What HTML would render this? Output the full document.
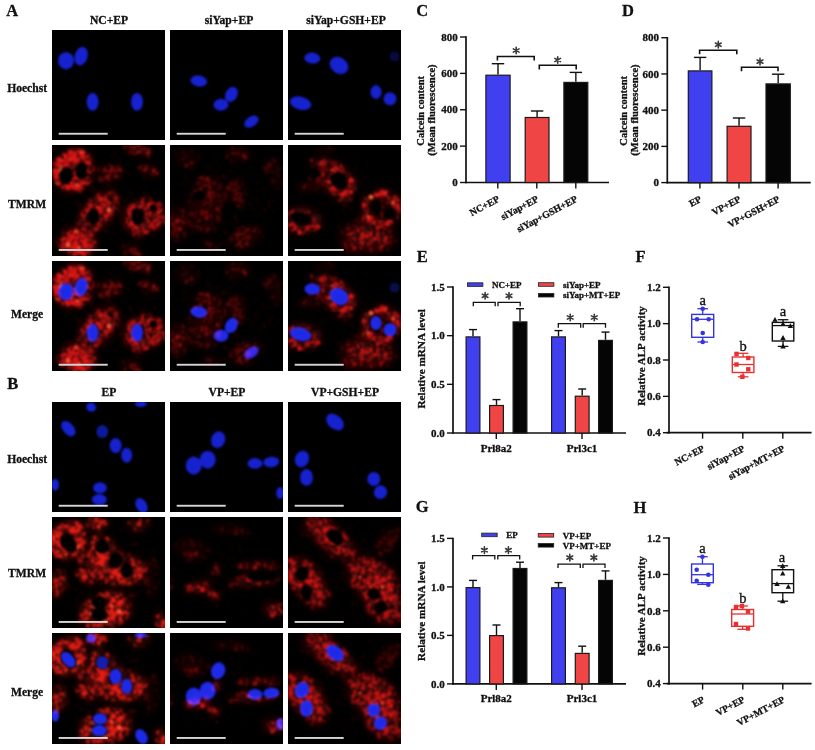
<!DOCTYPE html>
<html><head><meta charset="utf-8"><style>
html,body{margin:0;padding:0;background:#fff;width:815px;height:750px;overflow:hidden}
svg{display:block;will-change:transform}
text{font-family:"Liberation Serif",serif;stroke:#111;stroke-width:0.3px}
</style></head><body>
<svg width="815" height="750" viewBox="0 0 815 750">
<rect width="815" height="750" fill="#fff"/>
<text x="6.2" y="15.6" font-size="16.5" font-weight="bold" text-anchor="start" fill="#111" >A</text>
<text x="7.2" y="388.6" font-size="16.5" font-weight="bold" text-anchor="start" fill="#111" >B</text>
<text x="416.3" y="16.0" font-size="16.5" font-weight="bold" text-anchor="start" fill="#111" >C</text>
<text x="622.1" y="15.5" font-size="16.5" font-weight="bold" text-anchor="start" fill="#111" >D</text>
<text x="416.8" y="261.6" font-size="16.5" font-weight="bold" text-anchor="start" fill="#111" >E</text>
<text x="635.6" y="261.8" font-size="16.5" font-weight="bold" text-anchor="start" fill="#111" >F</text>
<text x="415.8" y="512.2" font-size="16.5" font-weight="bold" text-anchor="start" fill="#111" >G</text>
<text x="633.5" y="512.5" font-size="16.5" font-weight="bold" text-anchor="start" fill="#111" >H</text>
<defs><radialGradient id="rgR"><stop offset="0" stop-color="rgb(230,26,24)" stop-opacity="1"/><stop offset="0.55" stop-color="rgb(230,26,24)" stop-opacity="0.85"/><stop offset="1" stop-color="rgb(230,26,24)" stop-opacity="0.1"/></radialGradient><filter id="rfA0" filterUnits="userSpaceOnUse" x="0" y="0" width="113" height="111" color-interpolation-filters="sRGB"><feGaussianBlur stdDeviation="0.8"/></filter><filter id="rbA0" filterUnits="userSpaceOnUse" x="0" y="0" width="113" height="111"><feGaussianBlur stdDeviation="3"/></filter><g id="redA0"><rect width="113" height="111" fill="#000"/><g filter="url(#rbA0)" fill="rgb(215,22,22)"><rect x="75" y="-3" width="6" height="6" opacity="0.22"/><rect x="81" y="-3" width="6" height="6" opacity="0.28"/><rect x="87" y="-3" width="6" height="6" opacity="0.23"/><rect x="15" y="3" width="6" height="6" opacity="0.31"/><rect x="21" y="3" width="6" height="6" opacity="0.41"/><rect x="27" y="3" width="6" height="6" opacity="0.29"/><rect x="75" y="3" width="6" height="6" opacity="0.19"/><rect x="81" y="3" width="6" height="6" opacity="0.28"/><rect x="87" y="3" width="6" height="6" opacity="0.31"/><rect x="93" y="3" width="6" height="6" opacity="0.25"/><rect x="9" y="9" width="6" height="6" opacity="0.50"/><rect x="15" y="9" width="6" height="6" opacity="0.58"/><rect x="21" y="9" width="6" height="6" opacity="0.57"/><rect x="27" y="9" width="6" height="6" opacity="0.58"/><rect x="33" y="9" width="6" height="6" opacity="0.41"/><rect x="3" y="15" width="6" height="6" opacity="0.51"/><rect x="9" y="15" width="6" height="6" opacity="0.56"/><rect x="15" y="15" width="6" height="6" opacity="0.30"/><rect x="21" y="15" width="6" height="6" opacity="0.32"/><rect x="27" y="15" width="6" height="6" opacity="0.28"/><rect x="33" y="15" width="6" height="6" opacity="0.56"/><rect x="-3" y="21" width="6" height="6" opacity="0.26"/><rect x="3" y="21" width="6" height="6" opacity="0.58"/><rect x="9" y="21" width="6" height="6" opacity="0.10"/><rect x="15" y="21" width="6" height="6" opacity="0.26"/><rect x="21" y="21" width="6" height="6" opacity="0.30"/><rect x="33" y="21" width="6" height="6" opacity="0.58"/><rect x="39" y="21" width="6" height="6" opacity="0.10"/><rect x="45" y="21" width="6" height="6" opacity="0.12"/><rect x="51" y="21" width="6" height="6" opacity="0.17"/><rect x="57" y="21" width="6" height="6" opacity="0.18"/><rect x="63" y="21" width="6" height="6" opacity="0.16"/><rect x="69" y="21" width="6" height="6" opacity="0.04"/><rect x="87" y="21" width="6" height="6" opacity="0.19"/><rect x="93" y="21" width="6" height="6" opacity="0.24"/><rect x="99" y="21" width="6" height="6" opacity="0.17"/><rect x="-3" y="27" width="6" height="6" opacity="0.25"/><rect x="3" y="27" width="6" height="6" opacity="0.58"/><rect x="21" y="27" width="6" height="6" opacity="0.29"/><rect x="33" y="27" width="6" height="6" opacity="0.55"/><rect x="45" y="27" width="6" height="6" opacity="0.15"/><rect x="51" y="27" width="6" height="6" opacity="0.20"/><rect x="57" y="27" width="6" height="6" opacity="0.20"/><rect x="63" y="27" width="6" height="6" opacity="0.15"/><rect x="93" y="27" width="6" height="6" opacity="0.09"/><rect x="99" y="27" width="6" height="6" opacity="0.15"/><rect x="3" y="33" width="6" height="6" opacity="0.54"/><rect x="15" y="33" width="6" height="6" opacity="0.16"/><rect x="21" y="33" width="6" height="6" opacity="0.46"/><rect x="27" y="33" width="6" height="6" opacity="0.58"/><rect x="33" y="33" width="6" height="6" opacity="0.44"/><rect x="51" y="33" width="6" height="6" opacity="0.13"/><rect x="57" y="33" width="6" height="6" opacity="0.09"/><rect x="9" y="39" width="6" height="6" opacity="0.53"/><rect x="15" y="39" width="6" height="6" opacity="0.58"/><rect x="21" y="39" width="6" height="6" opacity="0.57"/><rect x="27" y="39" width="6" height="6" opacity="0.45"/><rect x="15" y="45" width="6" height="6" opacity="0.10"/><rect x="45" y="45" width="6" height="6" opacity="0.19"/><rect x="51" y="45" width="6" height="6" opacity="0.23"/><rect x="57" y="45" width="6" height="6" opacity="0.18"/><rect x="39" y="51" width="6" height="6" opacity="0.28"/><rect x="45" y="51" width="6" height="6" opacity="0.36"/><rect x="51" y="51" width="6" height="6" opacity="0.37"/><rect x="57" y="51" width="6" height="6" opacity="0.30"/><rect x="63" y="51" width="6" height="6" opacity="0.07"/><rect x="87" y="51" width="6" height="6" opacity="0.10"/><rect x="93" y="51" width="6" height="6" opacity="0.12"/><rect x="33" y="57" width="6" height="6" opacity="0.27"/><rect x="39" y="57" width="6" height="6" opacity="0.40"/><rect x="45" y="57" width="6" height="6" opacity="0.44"/><rect x="51" y="57" width="6" height="6" opacity="0.43"/><rect x="57" y="57" width="6" height="6" opacity="0.34"/><rect x="63" y="57" width="6" height="6" opacity="0.16"/><rect x="75" y="57" width="6" height="6" opacity="0.17"/><rect x="81" y="57" width="6" height="6" opacity="0.29"/><rect x="87" y="57" width="6" height="6" opacity="0.34"/><rect x="93" y="57" width="6" height="6" opacity="0.36"/><rect x="99" y="57" width="6" height="6" opacity="0.14"/><rect x="105" y="57" width="6" height="6" opacity="0.21"/><rect x="27" y="63" width="6" height="6" opacity="0.18"/><rect x="33" y="63" width="6" height="6" opacity="0.38"/><rect x="45" y="63" width="6" height="6" opacity="0.46"/><rect x="51" y="63" width="6" height="6" opacity="0.43"/><rect x="57" y="63" width="6" height="6" opacity="0.31"/><rect x="69" y="63" width="6" height="6" opacity="0.14"/><rect x="75" y="63" width="6" height="6" opacity="0.31"/><rect x="87" y="63" width="6" height="6" opacity="0.27"/><rect x="93" y="63" width="6" height="6" opacity="0.45"/><rect x="99" y="63" width="6" height="6" opacity="0.18"/><rect x="105" y="63" width="6" height="6" opacity="0.34"/><rect x="111" y="63" width="6" height="6" opacity="0.17"/><rect x="27" y="69" width="6" height="6" opacity="0.30"/><rect x="33" y="69" width="6" height="6" opacity="0.28"/><rect x="45" y="69" width="6" height="6" opacity="0.44"/><rect x="51" y="69" width="6" height="6" opacity="0.36"/><rect x="57" y="69" width="6" height="6" opacity="0.19"/><rect x="69" y="69" width="6" height="6" opacity="0.20"/><rect x="75" y="69" width="6" height="6" opacity="0.35"/><rect x="93" y="69" width="6" height="6" opacity="0.46"/><rect x="99" y="69" width="6" height="6" opacity="0.44"/><rect x="105" y="69" width="6" height="6" opacity="0.37"/><rect x="111" y="69" width="6" height="6" opacity="0.23"/><rect x="27" y="75" width="6" height="6" opacity="0.30"/><rect x="33" y="75" width="6" height="6" opacity="0.39"/><rect x="39" y="75" width="6" height="6" opacity="0.05"/><rect x="45" y="75" width="6" height="6" opacity="0.35"/><rect x="51" y="75" width="6" height="6" opacity="0.20"/><rect x="69" y="75" width="6" height="6" opacity="0.15"/><rect x="75" y="75" width="6" height="6" opacity="0.33"/><rect x="81" y="75" width="6" height="6" opacity="0.06"/><rect x="87" y="75" width="6" height="6" opacity="0.34"/><rect x="93" y="75" width="6" height="6" opacity="0.43"/><rect x="99" y="75" width="6" height="6" opacity="0.38"/><rect x="105" y="75" width="6" height="6" opacity="0.29"/><rect x="111" y="75" width="6" height="6" opacity="0.11"/><rect x="15" y="81" width="6" height="6" opacity="0.20"/><rect x="21" y="81" width="6" height="6" opacity="0.21"/><rect x="27" y="81" width="6" height="6" opacity="0.20"/><rect x="33" y="81" width="6" height="6" opacity="0.30"/><rect x="39" y="81" width="6" height="6" opacity="0.30"/><rect x="45" y="81" width="6" height="6" opacity="0.18"/><rect x="75" y="81" width="6" height="6" opacity="0.24"/><rect x="81" y="81" width="6" height="6" opacity="0.35"/><rect x="87" y="81" width="6" height="6" opacity="0.37"/><rect x="93" y="81" width="6" height="6" opacity="0.32"/><rect x="99" y="81" width="6" height="6" opacity="0.22"/><rect x="9" y="87" width="6" height="6" opacity="0.36"/><rect x="15" y="87" width="6" height="6" opacity="0.48"/><rect x="21" y="87" width="6" height="6" opacity="0.50"/><rect x="27" y="87" width="6" height="6" opacity="0.45"/><rect x="33" y="87" width="6" height="6" opacity="0.32"/><rect x="81" y="87" width="6" height="6" opacity="0.17"/><rect x="87" y="87" width="6" height="6" opacity="0.18"/><rect x="3" y="93" width="6" height="6" opacity="0.17"/><rect x="9" y="93" width="6" height="6" opacity="0.43"/><rect x="15" y="93" width="6" height="6" opacity="0.54"/><rect x="21" y="93" width="6" height="6" opacity="0.58"/><rect x="27" y="93" width="6" height="6" opacity="0.57"/><rect x="33" y="93" width="6" height="6" opacity="0.50"/><rect x="39" y="93" width="6" height="6" opacity="0.34"/><rect x="3" y="99" width="6" height="6" opacity="0.06"/><rect x="9" y="99" width="6" height="6" opacity="0.35"/><rect x="15" y="99" width="6" height="6" opacity="0.48"/><rect x="21" y="99" width="6" height="6" opacity="0.55"/><rect x="27" y="99" width="6" height="6" opacity="0.56"/><rect x="33" y="99" width="6" height="6" opacity="0.50"/><rect x="39" y="99" width="6" height="6" opacity="0.33"/><rect x="69" y="99" width="6" height="6" opacity="0.11"/><rect x="75" y="99" width="6" height="6" opacity="0.12"/><rect x="81" y="99" width="6" height="6" opacity="0.09"/><rect x="15" y="105" width="6" height="6" opacity="0.26"/><rect x="21" y="105" width="6" height="6" opacity="0.39"/><rect x="27" y="105" width="6" height="6" opacity="0.43"/><rect x="33" y="105" width="6" height="6" opacity="0.34"/><rect x="69" y="105" width="6" height="6" opacity="0.08"/><rect x="75" y="105" width="6" height="6" opacity="0.16"/><rect x="81" y="105" width="6" height="6" opacity="0.16"/><rect x="87" y="105" width="6" height="6" opacity="0.08"/></g><g filter="url(#rfA0)" fill="rgb(215,22,22)"><circle cx="56" cy="61" r="1.5" opacity="0.45"/><circle cx="28" cy="42" r="2.3" opacity="0.74"/><circle cx="59" cy="10" r="1.6" opacity="0.04"/><circle cx="18" cy="96" r="2.5" opacity="0.76"/><circle cx="18" cy="37" r="1.2" opacity="0.40"/><circle cx="45" cy="78" r="2.5" opacity="0.29"/><circle cx="6" cy="28" r="1.4" opacity="0.74"/><circle cx="33" cy="14" r="1.9" opacity="1.00"/><circle cx="6" cy="20" r="2.3" opacity="0.94"/><circle cx="62" cy="89" r="1.8" opacity="0.06"/><circle cx="84" cy="29" r="1.1" opacity="0.04"/><circle cx="79" cy="7" r="2.5" opacity="0.20"/><circle cx="63" cy="59" r="1.4" opacity="0.36"/><circle cx="85" cy="64" r="2.3" opacity="0.33"/><circle cx="87" cy="96" r="1.4" opacity="0.03"/><circle cx="25" cy="42" r="1.9" opacity="0.92"/><circle cx="24" cy="84" r="2.3" opacity="0.29"/><circle cx="17" cy="66" r="1.2" opacity="0.02"/><circle cx="64" cy="25" r="1.5" opacity="0.36"/><circle cx="108" cy="64" r="1.8" opacity="0.41"/><circle cx="56" cy="40" r="2.5" opacity="0.05"/><circle cx="14" cy="53" r="2.1" opacity="0.02"/><circle cx="26" cy="103" r="2.6" opacity="1.00" fill="rgb(255,95,55)"/><circle cx="58" cy="57" r="1.6" opacity="0.79"/><circle cx="30" cy="93" r="1.4" opacity="0.84"/><circle cx="54" cy="51" r="1.3" opacity="0.68"/><circle cx="69" cy="52" r="2.2" opacity="0.07"/><circle cx="85" cy="84" r="1.3" opacity="0.62"/><circle cx="99" cy="59" r="1.0" opacity="0.64"/><circle cx="35" cy="103" r="1.8" opacity="0.60"/><circle cx="47" cy="23" r="1.7" opacity="0.09"/><circle cx="38" cy="78" r="2.2" opacity="0.38"/><circle cx="30" cy="8" r="2.5" opacity="0.97" fill="rgb(255,95,55)"/><circle cx="5" cy="38" r="1.7" opacity="0.76" fill="rgb(255,95,55)"/><circle cx="54" cy="22" r="1.1" opacity="0.24"/><circle cx="21" cy="20" r="2.6" opacity="0.47"/><circle cx="14" cy="41" r="2.1" opacity="1.00"/><circle cx="66" cy="52" r="1.3" opacity="0.07"/><circle cx="60" cy="67" r="1.5" opacity="0.44"/><circle cx="113" cy="30" r="2.4" opacity="0.01"/><circle cx="20" cy="14" r="2.1" opacity="0.81"/><circle cx="53" cy="19" r="1.2" opacity="0.05"/><circle cx="103" cy="47" r="2.5" opacity="0.04"/><circle cx="61" cy="11" r="1.2" opacity="0.04"/><circle cx="83" cy="88" r="1.0" opacity="0.42"/><circle cx="24" cy="45" r="1.3" opacity="0.69"/><circle cx="14" cy="50" r="1.6" opacity="0.03"/><circle cx="99" cy="92" r="1.4" opacity="0.01"/><circle cx="32" cy="92" r="2.0" opacity="0.62"/><circle cx="98" cy="60" r="1.8" opacity="0.57"/><circle cx="110" cy="74" r="1.3" opacity="0.64"/><circle cx="51" cy="63" r="1.4" opacity="0.76"/><circle cx="83" cy="104" r="1.4" opacity="0.30"/><circle cx="85" cy="96" r="2.0" opacity="0.04"/><circle cx="36" cy="32" r="1.4" opacity="0.71"/><circle cx="12" cy="15" r="1.3" opacity="0.94"/><circle cx="94" cy="69" r="1.3" opacity="0.86"/><circle cx="96" cy="12" r="2.6" opacity="0.15"/><circle cx="12" cy="86" r="1.5" opacity="0.19"/><circle cx="105" cy="80" r="1.5" opacity="0.39"/><circle cx="16" cy="95" r="1.3" opacity="0.93"/><circle cx="27" cy="19" r="1.4" opacity="0.46"/><circle cx="26" cy="71" r="2.4" opacity="0.07"/><circle cx="77" cy="68" r="1.8" opacity="0.61"/><circle cx="48" cy="107" r="2.4" opacity="0.02"/><circle cx="88" cy="101" r="2.4" opacity="0.02"/><circle cx="9" cy="87" r="2.5" opacity="0.02"/><circle cx="43" cy="86" r="1.7" opacity="0.33"/><circle cx="33" cy="102" r="1.1" opacity="0.96"/><circle cx="34" cy="79" r="1.1" opacity="0.78"/><circle cx="63" cy="8" r="2.5" opacity="0.04"/><circle cx="15" cy="20" r="2.4" opacity="0.41"/><circle cx="29" cy="5" r="2.2" opacity="0.22"/><circle cx="64" cy="54" r="2.5" opacity="0.41"/><circle cx="103" cy="70" r="1.2" opacity="0.50"/><circle cx="107" cy="68" r="1.3" opacity="0.83"/><circle cx="11" cy="42" r="1.6" opacity="1.00"/><circle cx="19" cy="38" r="2.5" opacity="0.92"/><circle cx="100" cy="56" r="2.0" opacity="0.25"/><circle cx="87" cy="23" r="1.8" opacity="0.19"/><circle cx="97" cy="5" r="1.9" opacity="0.32"/><circle cx="51" cy="35" r="1.6" opacity="0.24"/><circle cx="37" cy="105" r="1.5" opacity="0.91"/><circle cx="63" cy="27" r="2.0" opacity="0.23"/><circle cx="36" cy="38" r="1.3" opacity="0.36"/><circle cx="25" cy="57" r="2.4" opacity="0.06"/><circle cx="107" cy="63" r="1.2" opacity="0.40"/><circle cx="38" cy="109" r="1.4" opacity="0.23"/><circle cx="57" cy="59" r="1.6" opacity="0.45"/><circle cx="17" cy="10" r="2.3" opacity="0.93"/><circle cx="4" cy="29" r="1.3" opacity="0.78"/><circle cx="82" cy="62" r="2.5" opacity="0.47"/><circle cx="13" cy="12" r="1.4" opacity="0.66"/><circle cx="15" cy="97" r="1.2" opacity="0.73"/><circle cx="76" cy="87" r="2.0" opacity="0.04"/><circle cx="35" cy="12" r="1.7" opacity="0.71"/><circle cx="42" cy="97" r="1.5" opacity="0.67"/><circle cx="106" cy="79" r="2.4" opacity="0.54"/><circle cx="22" cy="99" r="1.8" opacity="0.84"/><circle cx="33" cy="101" r="2.1" opacity="0.83"/><circle cx="27" cy="61" r="2.3" opacity="0.05"/><circle cx="107" cy="59" r="2.6" opacity="0.47"/><circle cx="23" cy="104" r="2.0" opacity="0.75"/><circle cx="77" cy="68" r="1.4" opacity="0.48"/><circle cx="43" cy="79" r="1.6" opacity="0.36"/><circle cx="80" cy="107" r="1.5" opacity="0.24"/><circle cx="6" cy="27" r="2.4" opacity="0.90"/><circle cx="58" cy="12" r="1.1" opacity="0.03"/><circle cx="68" cy="99" r="1.5" opacity="0.04"/><circle cx="82" cy="88" r="2.6" opacity="0.28"/><circle cx="104" cy="82" r="1.9" opacity="0.44"/><circle cx="25" cy="41" r="2.4" opacity="1.00" fill="rgb(255,95,55)"/><circle cx="74" cy="73" r="1.7" opacity="0.35"/><circle cx="106" cy="68" r="1.4" opacity="0.50"/><circle cx="106" cy="79" r="1.3" opacity="0.39"/><circle cx="42" cy="62" r="2.3" opacity="0.93"/><circle cx="48" cy="63" r="1.7" opacity="0.86"/><circle cx="28" cy="46" r="2.0" opacity="0.51"/><circle cx="84" cy="101" r="1.8" opacity="0.02"/><circle cx="11" cy="15" r="2.6" opacity="0.97"/><circle cx="28" cy="76" r="1.3" opacity="0.33"/><circle cx="85" cy="82" r="2.5" opacity="0.49"/><circle cx="60" cy="43" r="1.7" opacity="0.04"/><circle cx="60" cy="23" r="2.6" opacity="0.38"/><circle cx="35" cy="38" r="1.7" opacity="0.59"/><circle cx="20" cy="105" r="1.3" opacity="0.85"/><circle cx="14" cy="18" r="2.0" opacity="0.63"/><circle cx="47" cy="51" r="2.6" opacity="0.50"/><circle cx="32" cy="73" r="2.1" opacity="0.61"/><circle cx="98" cy="90" r="1.6" opacity="0.02"/><circle cx="30" cy="107" r="2.6" opacity="0.76"/><circle cx="59" cy="70" r="2.0" opacity="0.52"/><circle cx="48" cy="55" r="2.3" opacity="0.45"/><circle cx="89" cy="6" r="1.2" opacity="0.42"/><circle cx="59" cy="48" r="2.3" opacity="0.35"/><circle cx="55" cy="55" r="1.6" opacity="0.54"/><circle cx="20" cy="94" r="2.0" opacity="1.00"/><circle cx="24" cy="12" r="1.3" opacity="1.00"/><circle cx="103" cy="25" r="1.9" opacity="0.20"/><circle cx="5" cy="32" r="1.9" opacity="0.97"/><circle cx="67" cy="60" r="1.5" opacity="0.18"/><circle cx="111" cy="72" r="1.7" opacity="0.68"/><circle cx="77" cy="30" r="1.9" opacity="0.04"/><circle cx="75" cy="76" r="1.7" opacity="0.48"/><circle cx="20" cy="7" r="1.3" opacity="0.60"/><circle cx="104" cy="85" r="1.5" opacity="0.14"/><circle cx="87" cy="87" r="1.4" opacity="0.55"/><circle cx="3" cy="26" r="2.5" opacity="0.86"/><circle cx="81" cy="63" r="1.7" opacity="0.66"/><circle cx="52" cy="48" r="1.4" opacity="0.40"/><circle cx="99" cy="67" r="1.3" opacity="0.93"/><circle cx="35" cy="26" r="1.4" opacity="0.50"/><circle cx="22" cy="33" r="1.6" opacity="0.73"/><circle cx="29" cy="37" r="1.6" opacity="0.64"/><circle cx="10" cy="102" r="2.3" opacity="0.37"/><circle cx="90" cy="92" r="1.2" opacity="0.08"/><circle cx="65" cy="31" r="2.4" opacity="0.22"/><circle cx="59" cy="92" r="1.0" opacity="0.05"/><circle cx="105" cy="28" r="2.3" opacity="0.30"/><circle cx="89" cy="79" r="1.3" opacity="0.71"/><circle cx="69" cy="31" r="1.5" opacity="0.05"/><circle cx="81" cy="2" r="1.8" opacity="0.50"/><circle cx="23" cy="97" r="2.2" opacity="0.91"/><circle cx="7" cy="37" r="1.6" opacity="0.89"/><circle cx="32" cy="102" r="1.4" opacity="1.00"/><circle cx="41" cy="11" r="1.6" opacity="0.04"/><circle cx="16" cy="107" r="1.8" opacity="0.28"/><circle cx="41" cy="22" r="1.4" opacity="0.55"/><circle cx="19" cy="89" r="1.2" opacity="0.74"/><circle cx="93" cy="64" r="2.1" opacity="0.49"/><circle cx="25" cy="34" r="1.6" opacity="0.62"/><circle cx="18" cy="104" r="2.5" opacity="0.52"/><circle cx="73" cy="2" r="2.6" opacity="0.21"/><circle cx="112" cy="44" r="2.6" opacity="0.01"/><circle cx="81" cy="79" r="2.5" opacity="0.77"/><circle cx="36" cy="65" r="2.0" opacity="0.41"/><circle cx="8" cy="17" r="1.9" opacity="1.00"/><circle cx="79" cy="65" r="2.1" opacity="0.55"/><circle cx="113" cy="78" r="1.8" opacity="0.36"/><circle cx="87" cy="109" r="2.5" opacity="0.25"/><circle cx="34" cy="82" r="1.1" opacity="0.46"/><circle cx="49" cy="74" r="1.4" opacity="0.53"/><circle cx="38" cy="62" r="2.5" opacity="0.59"/><circle cx="21" cy="15" r="1.2" opacity="0.60"/><circle cx="81" cy="77" r="1.8" opacity="0.58"/><circle cx="71" cy="2" r="2.3" opacity="0.02"/><circle cx="16" cy="93" r="1.2" opacity="0.60"/><circle cx="71" cy="84" r="1.0" opacity="0.05"/><circle cx="49" cy="35" r="2.6" opacity="0.17"/><circle cx="49" cy="66" r="2.6" opacity="0.61"/><circle cx="46" cy="81" r="1.1" opacity="0.67"/><circle cx="93" cy="33" r="2.6" opacity="0.05"/><circle cx="34" cy="99" r="1.6" opacity="1.00"/><circle cx="53" cy="9" r="1.0" opacity="0.04"/><circle cx="67" cy="66" r="1.9" opacity="0.08"/><circle cx="56" cy="0" r="1.9" opacity="0.01"/><circle cx="22" cy="104" r="1.8" opacity="1.00"/><circle cx="69" cy="14" r="2.1" opacity="0.05"/><circle cx="23" cy="37" r="1.4" opacity="0.71"/><circle cx="92" cy="48" r="2.3" opacity="0.05"/><circle cx="20" cy="102" r="1.7" opacity="1.00"/><circle cx="9" cy="25" r="2.5" opacity="0.81" fill="rgb(255,95,55)"/><circle cx="33" cy="59" r="1.1" opacity="0.05"/><circle cx="0" cy="71" r="1.0" opacity="0.01"/><circle cx="5" cy="30" r="1.5" opacity="0.79"/><circle cx="9" cy="46" r="2.4" opacity="0.03"/><circle cx="92" cy="72" r="1.5" opacity="0.59"/><circle cx="53" cy="25" r="2.5" opacity="0.38"/><circle cx="25" cy="16" r="2.4" opacity="0.81"/><circle cx="18" cy="90" r="2.5" opacity="0.88"/><circle cx="112" cy="78" r="2.0" opacity="0.37"/><circle cx="35" cy="17" r="1.4" opacity="0.82"/><circle cx="25" cy="7" r="1.5" opacity="0.59"/><circle cx="24" cy="42" r="1.9" opacity="1.00"/><circle cx="79" cy="10" r="1.3" opacity="0.03"/><circle cx="23" cy="103" r="1.0" opacity="0.91"/><circle cx="30" cy="69" r="1.9" opacity="0.52"/><circle cx="11" cy="99" r="2.0" opacity="0.66"/><circle cx="37" cy="27" r="1.9" opacity="0.83"/><circle cx="28" cy="10" r="1.5" opacity="0.77"/><circle cx="40" cy="37" r="1.6" opacity="0.05"/><circle cx="97" cy="62" r="2.2" opacity="0.71"/><circle cx="38" cy="55" r="2.1" opacity="0.28"/><circle cx="91" cy="84" r="2.0" opacity="0.48"/><circle cx="26" cy="106" r="1.9" opacity="0.57"/><circle cx="87" cy="90" r="2.2" opacity="0.30"/><circle cx="19" cy="88" r="2.4" opacity="0.80"/><circle cx="110" cy="29" r="1.0" opacity="0.01"/><circle cx="45" cy="25" r="2.2" opacity="0.12"/><circle cx="32" cy="85" r="2.0" opacity="0.32"/><circle cx="48" cy="62" r="1.6" opacity="0.70"/><circle cx="54" cy="71" r="2.5" opacity="0.75"/><circle cx="21" cy="42" r="2.2" opacity="1.00"/><circle cx="92" cy="54" r="1.8" opacity="0.21"/><circle cx="27" cy="17" r="1.6" opacity="0.56"/><circle cx="22" cy="108" r="1.2" opacity="0.66"/><circle cx="18" cy="7" r="2.2" opacity="0.79"/><circle cx="77" cy="9" r="2.2" opacity="0.03"/><circle cx="19" cy="49" r="1.6" opacity="0.05"/><circle cx="19" cy="14" r="1.7" opacity="0.85" fill="rgb(255,95,55)"/><circle cx="16" cy="98" r="2.5" opacity="0.90"/><circle cx="64" cy="32" r="1.7" opacity="0.20"/><circle cx="57" cy="65" r="1.0" opacity="0.70"/><circle cx="3" cy="26" r="1.6" opacity="1.00"/><circle cx="82" cy="2" r="1.4" opacity="0.67"/><circle cx="41" cy="25" r="1.6" opacity="0.48"/><circle cx="93" cy="40" r="1.1" opacity="0.05"/><circle cx="107" cy="72" r="1.7" opacity="0.77"/><circle cx="52" cy="56" r="1.4" opacity="0.46"/><circle cx="40" cy="60" r="2.1" opacity="0.60"/><circle cx="24" cy="87" r="2.4" opacity="0.79" fill="rgb(255,95,55)"/><circle cx="29" cy="39" r="1.2" opacity="1.00"/><circle cx="26" cy="90" r="1.2" opacity="0.85"/><circle cx="74" cy="77" r="1.4" opacity="0.43"/><circle cx="30" cy="84" r="1.8" opacity="0.23"/><circle cx="14" cy="53" r="2.0" opacity="0.03"/><circle cx="92" cy="88" r="2.2" opacity="0.30"/><circle cx="33" cy="29" r="1.0" opacity="0.19"/><circle cx="18" cy="107" r="1.8" opacity="0.38"/><circle cx="18" cy="88" r="2.0" opacity="0.94"/><circle cx="96" cy="60" r="1.6" opacity="0.43"/><circle cx="46" cy="49" r="1.5" opacity="0.35"/><circle cx="93" cy="87" r="2.3" opacity="0.33"/><circle cx="31" cy="11" r="2.0" opacity="0.70"/><circle cx="93" cy="4" r="1.7" opacity="0.52"/><circle cx="23" cy="15" r="2.4" opacity="1.00"/><circle cx="68" cy="25" r="2.0" opacity="0.16"/><circle cx="94" cy="53" r="1.8" opacity="0.06"/><circle cx="55" cy="32" r="2.6" opacity="0.38"/><circle cx="81" cy="60" r="1.7" opacity="0.53"/><circle cx="23" cy="28" r="1.5" opacity="0.61"/><circle cx="39" cy="14" r="1.5" opacity="0.30"/><circle cx="76" cy="28" r="2.3" opacity="0.06"/><circle cx="75" cy="1" r="1.8" opacity="0.33"/><circle cx="57" cy="67" r="1.9" opacity="0.74"/><circle cx="24" cy="100" r="1.3" opacity="0.91"/><circle cx="27" cy="107" r="1.7" opacity="0.93"/><circle cx="26" cy="18" r="2.2" opacity="0.37"/><circle cx="58" cy="76" r="1.0" opacity="0.22"/><circle cx="54" cy="75" r="1.7" opacity="0.48"/><circle cx="77" cy="65" r="2.4" opacity="0.53"/><circle cx="24" cy="99" r="2.4" opacity="1.00"/><circle cx="53" cy="16" r="1.7" opacity="0.05"/><circle cx="30" cy="82" r="1.1" opacity="0.37"/><circle cx="22" cy="19" r="1.3" opacity="0.36"/><circle cx="57" cy="49" r="1.9" opacity="0.31"/><circle cx="48" cy="37" r="1.9" opacity="0.08"/><circle cx="62" cy="46" r="2.3" opacity="0.06"/><circle cx="34" cy="18" r="1.6" opacity="0.83"/><circle cx="34" cy="52" r="1.9" opacity="0.05"/><circle cx="75" cy="69" r="1.1" opacity="0.54"/><circle cx="27" cy="42" r="1.4" opacity="0.99"/><circle cx="36" cy="26" r="2.5" opacity="1.00"/><circle cx="6" cy="15" r="2.2" opacity="0.84"/><circle cx="39" cy="101" r="2.5" opacity="0.66"/><circle cx="32" cy="69" r="2.5" opacity="0.56"/><circle cx="7" cy="33" r="1.9" opacity="0.86"/><circle cx="87" cy="1" r="1.4" opacity="0.55"/><circle cx="46" cy="63" r="2.5" opacity="0.97"/><circle cx="47" cy="67" r="2.0" opacity="0.63"/><circle cx="26" cy="79" r="1.9" opacity="0.33"/><circle cx="91" cy="30" r="1.6" opacity="0.06"/><circle cx="18" cy="90" r="1.2" opacity="0.85"/><circle cx="62" cy="97" r="1.6" opacity="0.04"/><circle cx="4" cy="30" r="2.5" opacity="0.82"/><circle cx="85" cy="104" r="1.3" opacity="0.17"/><circle cx="22" cy="24" r="1.2" opacity="0.45"/><circle cx="102" cy="26" r="2.1" opacity="0.50"/><circle cx="57" cy="35" r="1.4" opacity="0.30"/><circle cx="21" cy="29" r="1.5" opacity="0.38"/><circle cx="23" cy="109" r="2.2" opacity="0.58"/><circle cx="69" cy="46" r="1.3" opacity="0.06"/><circle cx="109" cy="66" r="1.4" opacity="0.74"/><circle cx="14" cy="88" r="1.6" opacity="0.54"/><circle cx="13" cy="11" r="2.5" opacity="1.00"/><circle cx="5" cy="81" r="1.9" opacity="0.02"/><circle cx="12" cy="69" r="2.0" opacity="0.02"/><circle cx="83" cy="60" r="1.1" opacity="0.57"/><circle cx="57" cy="70" r="2.0" opacity="0.41"/><circle cx="58" cy="30" r="2.4" opacity="0.34"/><circle cx="109" cy="33" r="1.0" opacity="0.02"/><circle cx="90" cy="57" r="2.2" opacity="0.47"/><circle cx="17" cy="41" r="2.1" opacity="1.00"/><circle cx="62" cy="48" r="1.6" opacity="0.30"/><circle cx="23" cy="10" r="2.3" opacity="1.00"/><circle cx="95" cy="23" r="2.1" opacity="0.25"/><circle cx="78" cy="61" r="2.3" opacity="0.31"/><circle cx="49" cy="59" r="1.1" opacity="0.77"/><circle cx="45" cy="85" r="1.6" opacity="0.49"/><circle cx="23" cy="8" r="1.4" opacity="0.64"/><circle cx="3" cy="34" r="1.6" opacity="0.60"/><circle cx="16" cy="19" r="1.4" opacity="0.53"/><circle cx="63" cy="44" r="1.8" opacity="0.06"/><circle cx="61" cy="81" r="1.4" opacity="0.06"/><circle cx="21" cy="42" r="2.2" opacity="1.00"/><circle cx="106" cy="28" r="2.2" opacity="0.25"/><circle cx="36" cy="66" r="2.3" opacity="0.79"/><circle cx="100" cy="60" r="1.6" opacity="0.34"/><circle cx="79" cy="70" r="2.6" opacity="0.50"/><circle cx="16" cy="42" r="2.5" opacity="0.81"/><circle cx="109" cy="60" r="1.4" opacity="0.32"/><circle cx="106" cy="36" r="1.4" opacity="0.02"/><circle cx="7" cy="39" r="1.9" opacity="0.97"/><circle cx="36" cy="87" r="2.5" opacity="0.38"/><circle cx="25" cy="108" r="2.2" opacity="0.45"/><circle cx="57" cy="81" r="1.6" opacity="0.06"/><circle cx="77" cy="100" r="1.0" opacity="0.05"/><circle cx="20" cy="24" r="1.2" opacity="0.44"/><circle cx="6" cy="58" r="2.1" opacity="0.01"/><circle cx="59" cy="26" r="2.1" opacity="0.36"/><circle cx="39" cy="92" r="1.1" opacity="0.46"/><circle cx="32" cy="38" r="2.1" opacity="0.85"/><circle cx="20" cy="91" r="2.0" opacity="0.62"/><circle cx="25" cy="16" r="1.5" opacity="0.41"/><circle cx="3" cy="18" r="2.3" opacity="0.68"/><circle cx="11" cy="104" r="2.3" opacity="0.51"/><circle cx="62" cy="63" r="2.3" opacity="0.39"/><circle cx="66" cy="32" r="1.2" opacity="0.12"/><circle cx="21" cy="110" r="1.5" opacity="0.32"/><circle cx="29" cy="108" r="1.8" opacity="0.90"/><circle cx="97" cy="76" r="1.6" opacity="0.97"/><circle cx="36" cy="39" r="1.3" opacity="0.34"/><circle cx="43" cy="84" r="1.4" opacity="0.66"/><circle cx="33" cy="64" r="1.4" opacity="0.46"/><circle cx="102" cy="76" r="1.6" opacity="0.83"/><circle cx="72" cy="34" r="1.1" opacity="0.04"/><circle cx="97" cy="68" r="1.3" opacity="0.67"/><circle cx="41" cy="42" r="1.4" opacity="0.07"/><circle cx="64" cy="52" r="2.5" opacity="0.37"/><circle cx="105" cy="61" r="1.9" opacity="0.37"/><circle cx="81" cy="84" r="1.7" opacity="0.70"/><circle cx="33" cy="109" r="2.5" opacity="0.79"/><circle cx="79" cy="71" r="2.5" opacity="0.47"/><circle cx="82" cy="53" r="1.5" opacity="0.06"/><circle cx="27" cy="11" r="1.4" opacity="1.00"/><circle cx="31" cy="43" r="1.3" opacity="0.68"/><circle cx="15" cy="81" r="2.4" opacity="0.04"/><circle cx="42" cy="62" r="2.3" opacity="0.64"/><circle cx="53" cy="59" r="1.2" opacity="0.83"/><circle cx="9" cy="21" r="1.1" opacity="1.00" fill="rgb(255,95,55)"/><circle cx="24" cy="32" r="2.3" opacity="0.61"/><circle cx="38" cy="95" r="1.6" opacity="0.56"/><circle cx="90" cy="21" r="1.6" opacity="0.19"/><circle cx="71" cy="101" r="1.9" opacity="0.14"/><circle cx="4" cy="26" r="2.4" opacity="0.93"/><circle cx="112" cy="73" r="2.6" opacity="0.42"/><circle cx="38" cy="88" r="2.6" opacity="0.30"/><circle cx="43" cy="97" r="1.6" opacity="0.63"/><circle cx="95" cy="7" r="1.0" opacity="0.31"/><circle cx="90" cy="15" r="2.5" opacity="0.02"/><circle cx="13" cy="67" r="1.6" opacity="0.01"/><circle cx="17" cy="88" r="1.1" opacity="0.76"/><circle cx="91" cy="55" r="2.2" opacity="0.31"/><circle cx="34" cy="18" r="1.5" opacity="1.00"/><circle cx="53" cy="54" r="1.9" opacity="0.63"/><circle cx="80" cy="15" r="1.6" opacity="0.05"/><circle cx="83" cy="100" r="1.9" opacity="0.04"/><circle cx="82" cy="3" r="1.1" opacity="0.52"/><circle cx="91" cy="81" r="1.2" opacity="0.60"/><circle cx="5" cy="32" r="2.5" opacity="0.93"/><circle cx="19" cy="8" r="2.1" opacity="0.81"/><circle cx="70" cy="26" r="1.6" opacity="0.15"/><circle cx="48" cy="15" r="1.1" opacity="0.03"/><circle cx="35" cy="107" r="1.5" opacity="0.57"/><circle cx="101" cy="83" r="2.4" opacity="0.34"/><circle cx="92" cy="45" r="1.2" opacity="0.05"/><circle cx="20" cy="33" r="1.6" opacity="0.50"/><circle cx="80" cy="78" r="2.5" opacity="0.58"/><circle cx="2" cy="20" r="1.2" opacity="0.43"/><circle cx="22" cy="29" r="1.6" opacity="0.39"/><circle cx="95" cy="87" r="2.3" opacity="0.52"/><circle cx="31" cy="67" r="1.8" opacity="0.30"/><circle cx="8" cy="104" r="1.1" opacity="0.23"/><circle cx="86" cy="57" r="1.3" opacity="0.26"/><circle cx="53" cy="85" r="2.5" opacity="0.06"/><circle cx="73" cy="107" r="1.3" opacity="0.16"/><circle cx="74" cy="83" r="2.2" opacity="0.13"/><circle cx="88" cy="43" r="1.7" opacity="0.04"/><circle cx="26" cy="44" r="1.2" opacity="0.79"/><circle cx="33" cy="100" r="1.5" opacity="1.00"/><circle cx="75" cy="74" r="1.1" opacity="0.48"/><circle cx="25" cy="101" r="1.6" opacity="1.00"/><circle cx="101" cy="29" r="1.5" opacity="0.38"/><circle cx="40" cy="90" r="2.6" opacity="0.45"/><circle cx="106" cy="67" r="1.9" opacity="0.81"/><circle cx="15" cy="98" r="1.5" opacity="0.87"/><circle cx="56" cy="26" r="1.1" opacity="0.35"/><circle cx="32" cy="111" r="2.3" opacity="0.49"/><circle cx="78" cy="46" r="2.0" opacity="0.06"/><circle cx="22" cy="33" r="2.6" opacity="0.48"/><circle cx="66" cy="57" r="1.4" opacity="0.19"/><circle cx="12" cy="21" r="2.2" opacity="0.77"/><circle cx="65" cy="64" r="1.6" opacity="0.30"/><circle cx="39" cy="57" r="1.4" opacity="0.41"/><circle cx="35" cy="100" r="2.0" opacity="1.00"/><circle cx="17" cy="98" r="1.1" opacity="0.90"/><circle cx="29" cy="107" r="2.2" opacity="0.62"/><circle cx="94" cy="87" r="1.8" opacity="0.49"/><circle cx="55" cy="57" r="2.1" opacity="0.49"/><circle cx="88" cy="22" r="2.2" opacity="0.17"/><circle cx="6" cy="97" r="2.1" opacity="0.27"/><circle cx="93" cy="20" r="1.3" opacity="0.03"/><circle cx="29" cy="12" r="2.3" opacity="0.81"/><circle cx="10" cy="95" r="2.1" opacity="0.67"/><circle cx="18" cy="88" r="1.0" opacity="0.84"/><circle cx="68" cy="18" r="1.4" opacity="0.05"/><circle cx="33" cy="7" r="1.5" opacity="0.43"/><circle cx="102" cy="25" r="1.8" opacity="0.30"/><circle cx="59" cy="30" r="2.3" opacity="0.40"/><circle cx="13" cy="102" r="2.1" opacity="0.60"/><circle cx="60" cy="105" r="1.6" opacity="0.03"/><circle cx="107" cy="77" r="2.2" opacity="0.69"/><circle cx="20" cy="11" r="1.2" opacity="0.78"/><circle cx="57" cy="86" r="1.6" opacity="0.05"/><circle cx="27" cy="87" r="1.8" opacity="0.68"/><circle cx="86" cy="7" r="1.7" opacity="0.55"/><circle cx="63" cy="32" r="1.7" opacity="0.20"/><circle cx="71" cy="35" r="1.8" opacity="0.03"/><circle cx="24" cy="89" r="1.9" opacity="0.73"/><circle cx="58" cy="20" r="1.8" opacity="0.22"/><circle cx="88" cy="62" r="2.3" opacity="0.59"/><circle cx="65" cy="57" r="2.3" opacity="0.34"/><circle cx="79" cy="49" r="2.4" opacity="0.06"/><circle cx="62" cy="73" r="1.6" opacity="0.04"/><circle cx="100" cy="58" r="2.6" opacity="0.54"/><circle cx="98" cy="70" r="1.1" opacity="0.92"/><circle cx="13" cy="93" r="1.4" opacity="0.90"/><circle cx="16" cy="100" r="2.4" opacity="0.92" fill="rgb(255,95,55)"/><circle cx="96" cy="8" r="2.5" opacity="0.46"/><circle cx="78" cy="72" r="1.1" opacity="0.56"/><circle cx="65" cy="88" r="1.1" opacity="0.04"/><circle cx="48" cy="102" r="1.3" opacity="0.03"/><circle cx="26" cy="106" r="1.7" opacity="0.68"/><circle cx="37" cy="10" r="1.4" opacity="0.29"/><circle cx="39" cy="42" r="1.3" opacity="0.07"/><circle cx="94" cy="74" r="2.1" opacity="0.60"/><circle cx="32" cy="98" r="1.8" opacity="1.00"/><circle cx="11" cy="8" r="1.4" opacity="0.26"/><circle cx="46" cy="83" r="1.9" opacity="0.50"/><circle cx="23" cy="27" r="1.2" opacity="0.52"/><circle cx="16" cy="44" r="1.6" opacity="0.74"/><circle cx="11" cy="82" r="2.4" opacity="0.03"/><circle cx="62" cy="109" r="2.4" opacity="0.01"/><circle cx="38" cy="36" r="2.1" opacity="0.30"/><circle cx="94" cy="21" r="2.3" opacity="0.19"/><circle cx="59" cy="42" r="1.5" opacity="0.05"/><circle cx="47" cy="78" r="1.6" opacity="0.73"/><circle cx="38" cy="18" r="1.1" opacity="0.81"/><circle cx="102" cy="59" r="2.2" opacity="0.35"/><circle cx="79" cy="2" r="1.3" opacity="0.53"/><circle cx="12" cy="94" r="1.9" opacity="0.59"/><circle cx="37" cy="60" r="2.1" opacity="0.55"/><circle cx="80" cy="105" r="2.6" opacity="0.34"/><circle cx="98" cy="54" r="2.4" opacity="0.19"/><circle cx="100" cy="80" r="2.6" opacity="0.65"/><circle cx="32" cy="84" r="1.7" opacity="0.55"/><circle cx="83" cy="8" r="2.3" opacity="0.29"/><circle cx="23" cy="91" r="2.2" opacity="1.00"/><circle cx="22" cy="87" r="1.4" opacity="0.45"/><circle cx="77" cy="79" r="1.8" opacity="0.52"/><circle cx="37" cy="39" r="1.2" opacity="0.25"/><circle cx="45" cy="34" r="1.8" opacity="0.07"/><circle cx="72" cy="80" r="1.7" opacity="0.14"/><circle cx="7" cy="33" r="1.1" opacity="1.00" fill="rgb(255,95,55)"/><circle cx="107" cy="83" r="1.4" opacity="0.21"/><circle cx="74" cy="110" r="1.7" opacity="0.01"/><circle cx="28" cy="59" r="2.1" opacity="0.07"/><circle cx="4" cy="65" r="2.3" opacity="0.01"/><circle cx="20" cy="81" r="1.9" opacity="0.05"/><circle cx="80" cy="62" r="1.8" opacity="0.47"/><circle cx="98" cy="41" r="1.2" opacity="0.04"/><circle cx="30" cy="107" r="2.4" opacity="0.68"/><circle cx="90" cy="54" r="2.4" opacity="0.15"/><circle cx="69" cy="31" r="1.2" opacity="0.14"/><circle cx="30" cy="95" r="1.9" opacity="1.00"/><circle cx="82" cy="90" r="1.8" opacity="0.36"/><circle cx="32" cy="97" r="2.1" opacity="1.00"/><circle cx="91" cy="10" r="1.6" opacity="0.27"/><circle cx="48" cy="33" r="1.9" opacity="0.25"/><circle cx="61" cy="66" r="1.2" opacity="0.44"/><circle cx="25" cy="104" r="2.0" opacity="0.60"/><circle cx="49" cy="54" r="2.5" opacity="0.73"/><circle cx="64" cy="16" r="2.2" opacity="0.05"/><circle cx="8" cy="102" r="1.5" opacity="0.27"/><circle cx="68" cy="25" r="2.6" opacity="0.29"/><circle cx="85" cy="87" r="1.8" opacity="0.62"/><circle cx="93" cy="25" r="1.9" opacity="0.44"/><circle cx="72" cy="56" r="1.7" opacity="0.07"/><circle cx="88" cy="63" r="2.2" opacity="0.52"/><circle cx="97" cy="15" r="1.3" opacity="0.01"/><circle cx="31" cy="8" r="1.5" opacity="0.54"/><circle cx="39" cy="46" r="1.8" opacity="0.05"/><circle cx="22" cy="59" r="1.8" opacity="0.04"/><circle cx="111" cy="73" r="1.7" opacity="0.66"/><circle cx="106" cy="59" r="1.3" opacity="0.38"/><circle cx="68" cy="33" r="2.5" opacity="0.03"/><circle cx="9" cy="14" r="1.4" opacity="1.00" fill="rgb(255,95,55)"/><circle cx="25" cy="34" r="1.5" opacity="0.88"/><circle cx="50" cy="0" r="1.2" opacity="0.02"/><circle cx="46" cy="68" r="1.5" opacity="0.33"/><circle cx="25" cy="93" r="1.6" opacity="0.95"/><circle cx="83" cy="54" r="1.2" opacity="0.06"/><circle cx="42" cy="46" r="2.3" opacity="0.06"/><circle cx="91" cy="57" r="1.6" opacity="0.47"/><circle cx="7" cy="100" r="1.1" opacity="0.44"/><circle cx="63" cy="101" r="1.1" opacity="0.03"/><circle cx="101" cy="21" r="1.8" opacity="0.02"/><circle cx="30" cy="10" r="2.2" opacity="1.00"/><circle cx="97" cy="82" r="1.2" opacity="0.54"/><circle cx="18" cy="19" r="1.1" opacity="0.45"/><circle cx="17" cy="89" r="1.2" opacity="0.60"/><circle cx="86" cy="109" r="1.7" opacity="0.17"/><circle cx="14" cy="21" r="1.6" opacity="0.74"/><circle cx="83" cy="108" r="2.5" opacity="0.34"/><circle cx="65" cy="39" r="1.9" opacity="0.04"/><circle cx="74" cy="73" r="1.1" opacity="0.49"/><circle cx="22" cy="102" r="2.1" opacity="0.87"/><circle cx="90" cy="25" r="1.4" opacity="0.23"/><circle cx="25" cy="91" r="2.3" opacity="0.88"/><circle cx="13" cy="14" r="1.4" opacity="0.73"/><circle cx="20" cy="40" r="1.6" opacity="0.62"/><circle cx="20" cy="31" r="1.0" opacity="0.26"/><circle cx="42" cy="53" r="1.8" opacity="0.28"/><circle cx="69" cy="85" r="1.4" opacity="0.06"/><circle cx="21" cy="7" r="1.4" opacity="0.57"/><circle cx="105" cy="63" r="1.4" opacity="0.44"/><circle cx="72" cy="97" r="1.3" opacity="0.03"/><circle cx="27" cy="6" r="1.8" opacity="0.62"/><circle cx="17" cy="40" r="2.2" opacity="0.65"/><circle cx="23" cy="76" r="2.2" opacity="0.05"/><circle cx="97" cy="60" r="2.3" opacity="0.72"/><circle cx="37" cy="88" r="1.4" opacity="0.28"/><circle cx="37" cy="18" r="2.4" opacity="0.59"/><circle cx="17" cy="22" r="2.1" opacity="0.37"/><circle cx="105" cy="75" r="1.8" opacity="0.63"/><circle cx="80" cy="76" r="1.4" opacity="0.73"/><circle cx="59" cy="13" r="2.1" opacity="0.03"/><circle cx="14" cy="12" r="1.3" opacity="1.00"/><circle cx="66" cy="22" r="2.3" opacity="0.20"/><circle cx="22" cy="13" r="2.4" opacity="0.66"/><circle cx="46" cy="24" r="1.2" opacity="0.11"/><circle cx="63" cy="56" r="1.0" opacity="0.44"/><circle cx="18" cy="15" r="2.4" opacity="0.76"/><circle cx="36" cy="90" r="2.4" opacity="0.44"/><circle cx="12" cy="41" r="1.2" opacity="1.00"/><circle cx="49" cy="81" r="1.2" opacity="0.56"/><circle cx="30" cy="90" r="1.7" opacity="0.86"/><circle cx="52" cy="60" r="2.1" opacity="0.70"/><circle cx="54" cy="88" r="1.3" opacity="0.05"/><circle cx="36" cy="27" r="1.7" opacity="0.89"/><circle cx="101" cy="83" r="1.4" opacity="0.41"/><circle cx="78" cy="81" r="2.3" opacity="0.41"/><circle cx="28" cy="12" r="2.5" opacity="1.00"/><circle cx="87" cy="110" r="1.5" opacity="0.21"/><circle cx="57" cy="65" r="2.4" opacity="0.86" fill="rgb(255,95,55)"/><circle cx="32" cy="71" r="1.1" opacity="0.43"/><circle cx="91" cy="60" r="1.9" opacity="0.51"/><circle cx="3" cy="27" r="1.5" opacity="1.00"/><circle cx="73" cy="109" r="2.5" opacity="0.13"/><circle cx="35" cy="18" r="1.5" opacity="1.00"/><circle cx="34" cy="95" r="2.1" opacity="0.98"/><circle cx="11" cy="75" r="2.3" opacity="0.03"/><circle cx="31" cy="95" r="2.2" opacity="0.66"/><circle cx="17" cy="15" r="2.5" opacity="0.71"/><circle cx="66" cy="49" r="2.3" opacity="0.05"/><circle cx="22" cy="103" r="1.3" opacity="0.66"/><circle cx="84" cy="82" r="2.1" opacity="0.76"/><circle cx="7" cy="14" r="2.5" opacity="0.74"/><circle cx="9" cy="97" r="1.0" fill="#000" opacity="0.43"/><circle cx="21" cy="31" r="1.3" fill="#000" opacity="0.67"/><circle cx="29" cy="15" r="1.0" fill="#000" opacity="0.71"/><circle cx="26" cy="11" r="1.4" fill="#000" opacity="0.62"/><circle cx="49" cy="50" r="1.6" fill="#000" opacity="0.45"/><circle cx="45" cy="97" r="1.0" fill="#000" opacity="0.53"/><circle cx="106" cy="77" r="1.0" fill="#000" opacity="0.73"/><circle cx="102" cy="29" r="1.1" fill="#000" opacity="0.41"/><circle cx="52" cy="65" r="1.1" fill="#000" opacity="0.47"/><circle cx="23" cy="25" r="1.0" fill="#000" opacity="0.47"/><circle cx="95" cy="22" r="1.0" fill="#000" opacity="0.47"/><circle cx="75" cy="2" r="1.2" fill="#000" opacity="0.68"/><circle cx="41" cy="51" r="1.6" fill="#000" opacity="0.71"/><circle cx="37" cy="36" r="0.9" fill="#000" opacity="0.51"/><circle cx="44" cy="65" r="1.3" fill="#000" opacity="0.49"/><circle cx="48" cy="29" r="1.5" fill="#000" opacity="0.42"/><circle cx="41" cy="53" r="1.2" fill="#000" opacity="0.73"/><circle cx="59" cy="31" r="1.4" fill="#000" opacity="0.57"/><circle cx="73" cy="75" r="1.7" fill="#000" opacity="0.65"/><circle cx="60" cy="29" r="1.6" fill="#000" opacity="0.67"/><circle cx="36" cy="28" r="1.3" fill="#000" opacity="0.52"/><circle cx="93" cy="56" r="1.4" fill="#000" opacity="0.71"/><circle cx="24" cy="36" r="1.7" fill="#000" opacity="0.63"/><circle cx="84" cy="89" r="0.9" fill="#000" opacity="0.67"/><circle cx="65" cy="56" r="1.3" fill="#000" opacity="0.42"/><circle cx="31" cy="94" r="1.3" fill="#000" opacity="0.55"/><circle cx="38" cy="30" r="1.2" fill="#000" opacity="0.72"/><circle cx="32" cy="73" r="0.9" fill="#000" opacity="0.65"/><circle cx="59" cy="31" r="1.1" fill="#000" opacity="0.67"/><circle cx="99" cy="74" r="1.8" fill="#000" opacity="0.54"/><circle cx="7" cy="91" r="1.7" fill="#000" opacity="0.58"/><circle cx="59" cy="71" r="1.0" fill="#000" opacity="0.44"/><circle cx="94" cy="5" r="1.3" fill="#000" opacity="0.66"/><circle cx="35" cy="74" r="1.4" fill="#000" opacity="0.59"/><circle cx="109" cy="74" r="1.4" fill="#000" opacity="0.57"/><circle cx="57" cy="23" r="1.4" fill="#000" opacity="0.65"/><circle cx="69" cy="28" r="1.2" fill="#000" opacity="0.49"/><circle cx="21" cy="25" r="1.2" fill="#000" opacity="0.66"/><circle cx="13" cy="107" r="1.8" fill="#000" opacity="0.60"/><circle cx="41" cy="58" r="1.6" fill="#000" opacity="0.40"/><circle cx="56" cy="29" r="0.9" fill="#000" opacity="0.56"/><circle cx="92" cy="10" r="1.8" fill="#000" opacity="0.49"/><circle cx="32" cy="42" r="1.5" fill="#000" opacity="0.55"/><circle cx="60" cy="48" r="1.1" fill="#000" opacity="0.44"/><circle cx="43" cy="88" r="1.2" fill="#000" opacity="0.58"/><circle cx="59" cy="54" r="1.2" fill="#000" opacity="0.74"/><circle cx="35" cy="22" r="1.1" fill="#000" opacity="0.70"/><circle cx="64" cy="65" r="1.0" fill="#000" opacity="0.73"/><circle cx="32" cy="68" r="1.6" fill="#000" opacity="0.65"/><circle cx="28" cy="12" r="1.0" fill="#000" opacity="0.70"/><circle cx="7" cy="33" r="1.5" fill="#000" opacity="0.59"/><circle cx="27" cy="82" r="1.2" fill="#000" opacity="0.60"/><circle cx="6" cy="37" r="0.9" fill="#000" opacity="0.48"/><circle cx="13" cy="88" r="0.9" fill="#000" opacity="0.48"/><circle cx="81" cy="1" r="1.8" fill="#000" opacity="0.68"/><circle cx="67" cy="30" r="1.7" fill="#000" opacity="0.37"/><circle cx="94" cy="28" r="1.1" fill="#000" opacity="0.71"/><circle cx="6" cy="95" r="1.0" fill="#000" opacity="0.57"/><circle cx="17" cy="39" r="1.4" fill="#000" opacity="0.45"/><circle cx="104" cy="26" r="1.6" fill="#000" opacity="0.50"/><circle cx="99" cy="75" r="1.3" fill="#000" opacity="0.37"/><circle cx="16" cy="10" r="1.0" fill="#000" opacity="0.66"/><circle cx="7" cy="97" r="1.5" fill="#000" opacity="0.61"/><circle cx="20" cy="20" r="1.5" fill="#000" opacity="0.56"/><circle cx="36" cy="88" r="1.8" fill="#000" opacity="0.58"/><circle cx="81" cy="0" r="1.1" fill="#000" opacity="0.74"/><circle cx="92" cy="74" r="1.2" fill="#000" opacity="0.58"/><circle cx="50" cy="71" r="1.3" fill="#000" opacity="0.72"/><circle cx="35" cy="110" r="1.7" fill="#000" opacity="0.49"/><circle cx="50" cy="62" r="1.1" fill="#000" opacity="0.44"/><circle cx="40" cy="22" r="1.7" fill="#000" opacity="0.46"/><circle cx="57" cy="52" r="1.7" fill="#000" opacity="0.67"/><circle cx="93" cy="75" r="1.6" fill="#000" opacity="0.63"/><circle cx="64" cy="20" r="0.9" fill="#000" opacity="0.75"/><circle cx="35" cy="73" r="1.8" fill="#000" opacity="0.51"/><circle cx="86" cy="3" r="1.3" fill="#000" opacity="0.42"/><circle cx="110" cy="69" r="1.2" fill="#000" opacity="0.61"/><circle cx="36" cy="30" r="1.7" fill="#000" opacity="0.59"/><circle cx="11" cy="14" r="1.1" fill="#000" opacity="0.62"/><circle cx="19" cy="88" r="1.6" fill="#000" opacity="0.68"/><circle cx="112" cy="73" r="1.5" fill="#000" opacity="0.46"/><circle cx="42" cy="62" r="1.3" fill="#000" opacity="0.59"/><circle cx="27" cy="19" r="1.4" fill="#000" opacity="0.73"/><circle cx="88" cy="55" r="1.5" fill="#000" opacity="0.49"/><circle cx="55" cy="23" r="1.4" fill="#000" opacity="0.56"/><circle cx="13" cy="90" r="1.0" fill="#000" opacity="0.71"/><circle cx="43" cy="95" r="1.0" fill="#000" opacity="0.69"/><circle cx="59" cy="56" r="1.3" fill="#000" opacity="0.60"/><circle cx="33" cy="31" r="1.7" fill="#000" opacity="0.75"/><circle cx="38" cy="34" r="1.4" fill="#000" opacity="0.44"/><circle cx="38" cy="25" r="1.7" fill="#000" opacity="0.75"/><circle cx="61" cy="55" r="1.0" fill="#000" opacity="0.56"/><circle cx="97" cy="55" r="1.1" fill="#000" opacity="0.36"/><circle cx="79" cy="71" r="1.0" fill="#000" opacity="0.54"/><circle cx="101" cy="56" r="1.5" fill="#000" opacity="0.75"/><circle cx="90" cy="65" r="1.5" fill="#000" opacity="0.56"/><circle cx="14" cy="86" r="1.6" fill="#000" opacity="0.73"/><circle cx="64" cy="67" r="1.3" fill="#000" opacity="0.64"/><circle cx="1" cy="23" r="1.4" fill="#000" opacity="0.48"/><circle cx="86" cy="80" r="1.2" fill="#000" opacity="0.49"/><circle cx="36" cy="76" r="1.4" fill="#000" opacity="0.40"/><circle cx="41" cy="56" r="1.0" fill="#000" opacity="0.47"/><circle cx="27" cy="70" r="1.0" fill="#000" opacity="0.48"/><circle cx="34" cy="14" r="1.8" fill="#000" opacity="0.43"/><circle cx="10" cy="12" r="1.7" fill="#000" opacity="0.73"/><circle cx="53" cy="47" r="1.6" fill="#000" opacity="0.57"/><circle cx="12" cy="41" r="1.4" fill="#000" opacity="0.52"/><circle cx="42" cy="62" r="1.7" fill="#000" opacity="0.62"/><circle cx="74" cy="71" r="1.3" fill="#000" opacity="0.61"/><circle cx="53" cy="46" r="1.4" fill="#000" opacity="0.41"/><circle cx="14" cy="91" r="0.9" fill="#000" opacity="0.74"/><circle cx="64" cy="59" r="1.1" fill="#000" opacity="0.72"/><circle cx="34" cy="29" r="1.1" fill="#000" opacity="0.50"/><circle cx="24" cy="23" r="1.4" fill="#000" opacity="0.61"/><circle cx="88" cy="107" r="1.0" fill="#000" opacity="0.49"/><circle cx="36" cy="82" r="1.5" fill="#000" opacity="0.53"/><circle cx="38" cy="32" r="1.4" fill="#000" opacity="0.73"/><circle cx="53" cy="58" r="0.9" fill="#000" opacity="0.44"/><circle cx="24" cy="90" r="1.3" fill="#000" opacity="0.74"/><circle cx="47" cy="59" r="1.5" fill="#000" opacity="0.66"/><circle cx="36" cy="61" r="1.0" fill="#000" opacity="0.47"/><circle cx="107" cy="28" r="1.3" fill="#000" opacity="0.54"/><circle cx="96" cy="66" r="1.1" fill="#000" opacity="0.56"/><circle cx="36" cy="84" r="1.3" fill="#000" opacity="0.73"/><circle cx="39" cy="53" r="1.0" fill="#000" opacity="0.44"/><circle cx="74" cy="71" r="1.6" fill="#000" opacity="0.37"/><circle cx="99" cy="76" r="1.3" fill="#000" opacity="0.39"/><circle cx="87" cy="89" r="1.1" fill="#000" opacity="0.51"/><circle cx="18" cy="18" r="0.9" fill="#000" opacity="0.50"/><circle cx="3" cy="17" r="1.2" fill="#000" opacity="0.69"/><circle cx="81" cy="106" r="1.5" fill="#000" opacity="0.52"/><circle cx="98" cy="74" r="1.5" fill="#000" opacity="0.40"/><circle cx="19" cy="105" r="1.0" fill="#000" opacity="0.58"/><circle cx="74" cy="69" r="1.5" fill="#000" opacity="0.46"/><circle cx="3" cy="20" r="1.0" fill="#000" opacity="0.41"/><circle cx="52" cy="47" r="1.6" fill="#000" opacity="0.58"/><circle cx="83" cy="7" r="1.6" fill="#000" opacity="0.59"/><circle cx="111" cy="79" r="1.5" fill="#000" opacity="0.62"/><circle cx="21" cy="96" r="1.2" fill="#000" opacity="0.68"/><circle cx="58" cy="54" r="1.3" fill="#000" opacity="0.72"/><circle cx="110" cy="69" r="1.0" fill="#000" opacity="0.70"/><circle cx="84" cy="86" r="1.3" fill="#000" opacity="0.40"/></g><filter id="rhA0" x="-50%" y="-50%" width="200%" height="200%"><feGaussianBlur stdDeviation="1.8"/></filter><g filter="url(#rhA0)" fill="#000"><ellipse cx="101" cy="63" rx="3.5" ry="3.5" transform="rotate(0 101 63)" fill="#000"/><ellipse cx="14" cy="30.5" rx="6.5" ry="8" transform="rotate(0 14 30.5)" fill="#000"/><ellipse cx="29.6" cy="25.5" rx="5.5" ry="8" transform="rotate(15 29.6 25.5)" fill="#000"/><ellipse cx="41.4" cy="71.7" rx="5.5" ry="8" transform="rotate(0 41.4 71.7)" fill="#000"/><ellipse cx="85.8" cy="71.7" rx="6" ry="8.5" transform="rotate(0 85.8 71.7)" fill="#000"/></g></g><filter id="rfA1" filterUnits="userSpaceOnUse" x="0" y="0" width="113" height="111" color-interpolation-filters="sRGB"><feGaussianBlur stdDeviation="0.8"/></filter><filter id="rbA1" filterUnits="userSpaceOnUse" x="0" y="0" width="113" height="111"><feGaussianBlur stdDeviation="3"/></filter><g id="redA1"><rect width="113" height="111" fill="#000"/><g filter="url(#rbA1)" fill="rgb(215,22,22)"><rect x="9" y="3" width="6" height="6" opacity="0.06"/><rect x="15" y="3" width="6" height="6" opacity="0.06"/><rect x="21" y="3" width="6" height="6" opacity="0.05"/><rect x="57" y="3" width="6" height="6" opacity="0.10"/><rect x="63" y="3" width="6" height="6" opacity="0.13"/><rect x="69" y="3" width="6" height="6" opacity="0.13"/><rect x="75" y="3" width="6" height="6" opacity="0.08"/><rect x="3" y="9" width="6" height="6" opacity="0.05"/><rect x="9" y="9" width="6" height="6" opacity="0.09"/><rect x="15" y="9" width="6" height="6" opacity="0.09"/><rect x="21" y="9" width="6" height="6" opacity="0.08"/><rect x="57" y="9" width="6" height="6" opacity="0.12"/><rect x="63" y="9" width="6" height="6" opacity="0.14"/><rect x="69" y="9" width="6" height="6" opacity="0.14"/><rect x="75" y="9" width="6" height="6" opacity="0.10"/><rect x="3" y="15" width="6" height="6" opacity="0.04"/><rect x="9" y="15" width="6" height="6" opacity="0.09"/><rect x="15" y="15" width="6" height="6" opacity="0.10"/><rect x="21" y="15" width="6" height="6" opacity="0.08"/><rect x="63" y="15" width="6" height="6" opacity="0.05"/><rect x="93" y="15" width="6" height="6" opacity="0.08"/><rect x="99" y="15" width="6" height="6" opacity="0.09"/><rect x="105" y="15" width="6" height="6" opacity="0.07"/><rect x="15" y="21" width="6" height="6" opacity="0.05"/><rect x="93" y="21" width="6" height="6" opacity="0.08"/><rect x="99" y="21" width="6" height="6" opacity="0.10"/><rect x="105" y="21" width="6" height="6" opacity="0.08"/><rect x="39" y="27" width="6" height="6" opacity="0.04"/><rect x="105" y="27" width="6" height="6" opacity="0.06"/><rect x="27" y="33" width="6" height="6" opacity="0.17"/><rect x="33" y="33" width="6" height="6" opacity="0.19"/><rect x="39" y="33" width="6" height="6" opacity="0.11"/><rect x="45" y="33" width="6" height="6" opacity="0.07"/><rect x="57" y="33" width="6" height="6" opacity="0.06"/><rect x="63" y="33" width="6" height="6" opacity="0.08"/><rect x="99" y="33" width="6" height="6" opacity="0.09"/><rect x="105" y="33" width="6" height="6" opacity="0.13"/><rect x="111" y="33" width="6" height="6" opacity="0.07"/><rect x="21" y="39" width="6" height="6" opacity="0.07"/><rect x="27" y="39" width="6" height="6" opacity="0.13"/><rect x="33" y="39" width="6" height="6" opacity="0.15"/><rect x="39" y="39" width="6" height="6" opacity="0.14"/><rect x="45" y="39" width="6" height="6" opacity="0.11"/><rect x="51" y="39" width="6" height="6" opacity="0.04"/><rect x="57" y="39" width="6" height="6" opacity="0.12"/><rect x="63" y="39" width="6" height="6" opacity="0.14"/><rect x="69" y="39" width="6" height="6" opacity="0.10"/><rect x="105" y="39" width="6" height="6" opacity="0.09"/><rect x="21" y="45" width="6" height="6" opacity="0.10"/><rect x="33" y="45" width="6" height="6" opacity="0.17"/><rect x="39" y="45" width="6" height="6" opacity="0.16"/><rect x="45" y="45" width="6" height="6" opacity="0.13"/><rect x="51" y="45" width="6" height="6" opacity="0.06"/><rect x="57" y="45" width="6" height="6" opacity="0.13"/><rect x="63" y="45" width="6" height="6" opacity="0.15"/><rect x="69" y="45" width="6" height="6" opacity="0.12"/><rect x="15" y="51" width="6" height="6" opacity="0.05"/><rect x="21" y="51" width="6" height="6" opacity="0.12"/><rect x="33" y="51" width="6" height="6" opacity="0.18"/><rect x="39" y="51" width="6" height="6" opacity="0.17"/><rect x="45" y="51" width="6" height="6" opacity="0.14"/><rect x="51" y="51" width="6" height="6" opacity="0.06"/><rect x="57" y="51" width="6" height="6" opacity="0.12"/><rect x="63" y="51" width="6" height="6" opacity="0.14"/><rect x="69" y="51" width="6" height="6" opacity="0.11"/><rect x="3" y="57" width="6" height="6" opacity="0.05"/><rect x="15" y="57" width="6" height="6" opacity="0.06"/><rect x="21" y="57" width="6" height="6" opacity="0.13"/><rect x="27" y="57" width="6" height="6" opacity="0.17"/><rect x="33" y="57" width="6" height="6" opacity="0.18"/><rect x="39" y="57" width="6" height="6" opacity="0.17"/><rect x="45" y="57" width="6" height="6" opacity="0.14"/><rect x="51" y="57" width="6" height="6" opacity="0.04"/><rect x="63" y="57" width="6" height="6" opacity="0.11"/><rect x="69" y="57" width="6" height="6" opacity="0.07"/><rect x="-3" y="63" width="6" height="6" opacity="0.07"/><rect x="3" y="63" width="6" height="6" opacity="0.12"/><rect x="9" y="63" width="6" height="6" opacity="0.11"/><rect x="15" y="63" width="6" height="6" opacity="0.07"/><rect x="21" y="63" width="6" height="6" opacity="0.13"/><rect x="27" y="63" width="6" height="6" opacity="0.17"/><rect x="33" y="63" width="6" height="6" opacity="0.18"/><rect x="39" y="63" width="6" height="6" opacity="0.17"/><rect x="45" y="63" width="6" height="6" opacity="0.13"/><rect x="-3" y="69" width="6" height="6" opacity="0.11"/><rect x="3" y="69" width="6" height="6" opacity="0.16"/><rect x="9" y="69" width="6" height="6" opacity="0.15"/><rect x="15" y="69" width="6" height="6" opacity="0.09"/><rect x="21" y="69" width="6" height="6" opacity="0.12"/><rect x="27" y="69" width="6" height="6" opacity="0.16"/><rect x="33" y="69" width="6" height="6" opacity="0.17"/><rect x="39" y="69" width="6" height="6" opacity="0.16"/><rect x="45" y="69" width="6" height="6" opacity="0.11"/><rect x="-3" y="75" width="6" height="6" opacity="0.12"/><rect x="3" y="75" width="6" height="6" opacity="0.16"/><rect x="9" y="75" width="6" height="6" opacity="0.16"/><rect x="15" y="75" width="6" height="6" opacity="0.11"/><rect x="21" y="75" width="6" height="6" opacity="0.10"/><rect x="27" y="75" width="6" height="6" opacity="0.14"/><rect x="33" y="75" width="6" height="6" opacity="0.15"/><rect x="39" y="75" width="6" height="6" opacity="0.13"/><rect x="45" y="75" width="6" height="6" opacity="0.06"/><rect x="-3" y="81" width="6" height="6" opacity="0.10"/><rect x="3" y="81" width="6" height="6" opacity="0.15"/><rect x="9" y="81" width="6" height="6" opacity="0.15"/><rect x="15" y="81" width="6" height="6" opacity="0.09"/><rect x="21" y="81" width="6" height="6" opacity="0.06"/><rect x="27" y="81" width="6" height="6" opacity="0.10"/><rect x="33" y="81" width="6" height="6" opacity="0.11"/><rect x="39" y="81" width="6" height="6" opacity="0.07"/><rect x="69" y="81" width="6" height="6" opacity="0.11"/><rect x="75" y="81" width="6" height="6" opacity="0.14"/><rect x="81" y="81" width="6" height="6" opacity="0.13"/><rect x="87" y="81" width="6" height="6" opacity="0.09"/><rect x="-3" y="87" width="6" height="6" opacity="0.06"/><rect x="3" y="87" width="6" height="6" opacity="0.13"/><rect x="9" y="87" width="6" height="6" opacity="0.12"/><rect x="63" y="87" width="6" height="6" opacity="0.11"/><rect x="69" y="87" width="6" height="6" opacity="0.16"/><rect x="75" y="87" width="6" height="6" opacity="0.16"/><rect x="81" y="87" width="6" height="6" opacity="0.15"/><rect x="87" y="87" width="6" height="6" opacity="0.09"/><rect x="3" y="93" width="6" height="6" opacity="0.06"/><rect x="33" y="93" width="6" height="6" opacity="0.06"/><rect x="39" y="93" width="6" height="6" opacity="0.06"/><rect x="57" y="93" width="6" height="6" opacity="0.05"/><rect x="63" y="93" width="6" height="6" opacity="0.13"/><rect x="69" y="93" width="6" height="6" opacity="0.16"/><rect x="75" y="93" width="6" height="6" opacity="0.15"/><rect x="81" y="93" width="6" height="6" opacity="0.12"/><rect x="27" y="99" width="6" height="6" opacity="0.04"/><rect x="33" y="99" width="6" height="6" opacity="0.08"/><rect x="39" y="99" width="6" height="6" opacity="0.08"/><rect x="45" y="99" width="6" height="6" opacity="0.06"/><rect x="63" y="99" width="6" height="6" opacity="0.09"/><rect x="69" y="99" width="6" height="6" opacity="0.11"/><rect x="75" y="99" width="6" height="6" opacity="0.09"/></g><g filter="url(#rfA1)" fill="rgb(215,22,22)"><circle cx="31" cy="33" r="1.8" opacity="0.26"/><circle cx="47" cy="103" r="1.4" opacity="0.11"/><circle cx="3" cy="80" r="2.0" opacity="0.24"/><circle cx="15" cy="87" r="1.0" opacity="0.22"/><circle cx="95" cy="6" r="2.0" opacity="0.00"/><circle cx="37" cy="41" r="2.4" opacity="0.28"/><circle cx="1" cy="84" r="1.4" opacity="0.16"/><circle cx="56" cy="33" r="1.3" opacity="0.05"/><circle cx="49" cy="73" r="2.5" opacity="0.14"/><circle cx="95" cy="67" r="1.6" opacity="0.03"/><circle cx="80" cy="92" r="1.4" opacity="0.24"/><circle cx="48" cy="75" r="1.8" opacity="0.16"/><circle cx="22" cy="49" r="1.3" opacity="0.19"/><circle cx="72" cy="38" r="1.7" opacity="0.08"/><circle cx="78" cy="94" r="1.1" opacity="0.24"/><circle cx="76" cy="12" r="1.8" opacity="0.21"/><circle cx="67" cy="75" r="2.2" opacity="0.07"/><circle cx="37" cy="35" r="2.6" opacity="0.30"/><circle cx="37" cy="58" r="1.6" opacity="0.28"/><circle cx="19" cy="77" r="1.8" opacity="0.21"/><circle cx="87" cy="54" r="2.4" opacity="0.06"/><circle cx="71" cy="49" r="2.5" opacity="0.16"/><circle cx="25" cy="72" r="1.6" opacity="0.19"/><circle cx="50" cy="3" r="1.1" opacity="0.02"/><circle cx="0" cy="87" r="2.4" opacity="0.13"/><circle cx="39" cy="84" r="1.7" opacity="0.21"/><circle cx="71" cy="101" r="1.4" opacity="0.19"/><circle cx="44" cy="84" r="2.6" opacity="0.05"/><circle cx="7" cy="78" r="1.6" opacity="0.20"/><circle cx="93" cy="46" r="1.5" opacity="0.05"/><circle cx="59" cy="95" r="1.6" opacity="0.05"/><circle cx="43" cy="9" r="1.6" opacity="0.03"/><circle cx="21" cy="69" r="2.5" opacity="0.21"/><circle cx="39" cy="104" r="1.1" opacity="0.15"/><circle cx="22" cy="24" r="2.0" opacity="0.09"/><circle cx="49" cy="50" r="2.5" opacity="0.22"/><circle cx="73" cy="94" r="1.3" opacity="0.34"/><circle cx="64" cy="8" r="2.4" opacity="0.16"/><circle cx="23" cy="32" r="2.0" opacity="0.04"/><circle cx="33" cy="63" r="1.4" opacity="0.24"/><circle cx="69" cy="11" r="1.0" opacity="0.18"/><circle cx="77" cy="92" r="2.6" opacity="0.27"/><circle cx="66" cy="32" r="1.4" opacity="0.04"/><circle cx="71" cy="90" r="1.2" opacity="0.27"/><circle cx="50" cy="21" r="1.1" opacity="0.05"/><circle cx="47" cy="63" r="1.6" opacity="0.20"/><circle cx="39" cy="23" r="2.3" opacity="0.05"/><circle cx="56" cy="11" r="1.0" opacity="0.09"/><circle cx="32" cy="66" r="2.0" opacity="0.23"/><circle cx="30" cy="44" r="2.1" opacity="0.17"/><circle cx="94" cy="43" r="1.5" opacity="0.06"/><circle cx="72" cy="64" r="2.6" opacity="0.05"/><circle cx="57" cy="87" r="2.6" opacity="0.06"/><circle cx="13" cy="7" r="1.8" opacity="0.14"/><circle cx="65" cy="40" r="2.0" opacity="0.18"/><circle cx="5" cy="47" r="1.1" opacity="0.03"/><circle cx="55" cy="54" r="1.8" opacity="0.13"/><circle cx="1" cy="94" r="1.4" opacity="0.07"/><circle cx="76" cy="13" r="1.1" opacity="0.12"/><circle cx="103" cy="36" r="2.0" opacity="0.14"/><circle cx="34" cy="60" r="1.2" opacity="0.24"/><circle cx="50" cy="99" r="2.2" opacity="0.08"/><circle cx="81" cy="46" r="1.1" opacity="0.04"/><circle cx="47" cy="71" r="1.0" opacity="0.20"/><circle cx="96" cy="26" r="2.0" opacity="0.11"/><circle cx="70" cy="100" r="1.6" opacity="0.16"/><circle cx="108" cy="78" r="1.1" opacity="0.02"/><circle cx="10" cy="97" r="1.2" opacity="0.07"/><circle cx="99" cy="57" r="1.6" opacity="0.05"/><circle cx="54" cy="82" r="1.5" opacity="0.04"/><circle cx="49" cy="44" r="1.9" opacity="0.15"/><circle cx="61" cy="95" r="2.5" opacity="0.13"/><circle cx="92" cy="65" r="1.6" opacity="0.04"/><circle cx="51" cy="68" r="1.8" opacity="0.10"/><circle cx="113" cy="38" r="2.2" opacity="0.12"/><circle cx="57" cy="12" r="1.6" opacity="0.20"/><circle cx="55" cy="99" r="1.7" opacity="0.03"/><circle cx="61" cy="92" r="2.6" opacity="0.11"/><circle cx="7" cy="76" r="2.4" opacity="0.21"/><circle cx="81" cy="61" r="2.2" opacity="0.05"/><circle cx="105" cy="56" r="2.5" opacity="0.02"/><circle cx="90" cy="7" r="1.1" opacity="0.01"/><circle cx="37" cy="106" r="1.2" opacity="0.06"/><circle cx="107" cy="44" r="1.3" opacity="0.10"/><circle cx="16" cy="21" r="2.3" opacity="0.16"/><circle cx="7" cy="96" r="2.2" opacity="0.09"/><circle cx="34" cy="54" r="2.5" opacity="0.14"/><circle cx="47" cy="63" r="1.6" opacity="0.20"/><circle cx="99" cy="89" r="1.0" opacity="0.02"/><circle cx="112" cy="23" r="1.8" opacity="0.12"/><circle cx="100" cy="56" r="2.5" opacity="0.03"/><circle cx="6" cy="85" r="1.4" opacity="0.22"/><circle cx="55" cy="87" r="2.3" opacity="0.06"/><circle cx="50" cy="41" r="2.1" opacity="0.16"/><circle cx="22" cy="5" r="2.2" opacity="0.09"/><circle cx="77" cy="38" r="1.8" opacity="0.04"/><circle cx="54" cy="61" r="2.5" opacity="0.06"/><circle cx="13" cy="66" r="2.2" opacity="0.21"/><circle cx="70" cy="97" r="1.9" opacity="0.29"/><circle cx="13" cy="64" r="1.0" opacity="0.13"/><circle cx="59" cy="43" r="2.2" opacity="0.25"/><circle cx="57" cy="100" r="2.6" opacity="0.04"/><circle cx="38" cy="33" r="2.0" opacity="0.26"/><circle cx="105" cy="50" r="1.2" opacity="0.03"/><circle cx="15" cy="93" r="2.2" opacity="0.05"/><circle cx="35" cy="27" r="1.8" opacity="0.04"/><circle cx="33" cy="41" r="1.1" opacity="0.24"/><circle cx="63" cy="3" r="2.6" opacity="0.15"/><circle cx="67" cy="36" r="1.9" opacity="0.18"/><circle cx="48" cy="25" r="2.3" opacity="0.04"/><circle cx="65" cy="89" r="2.6" opacity="0.12"/><circle cx="64" cy="45" r="2.5" opacity="0.19"/><circle cx="62" cy="26" r="1.3" opacity="0.04"/><circle cx="2" cy="22" r="1.7" opacity="0.00"/><circle cx="3" cy="91" r="1.5" opacity="0.21"/><circle cx="90" cy="37" r="1.2" opacity="0.04"/><circle cx="7" cy="89" r="1.0" opacity="0.19"/><circle cx="0" cy="26" r="2.4" opacity="0.00"/><circle cx="57" cy="31" r="2.0" opacity="0.06"/><circle cx="55" cy="1" r="2.0" opacity="0.02"/><circle cx="1" cy="45" r="2.2" opacity="0.02"/><circle cx="77" cy="99" r="2.2" opacity="0.25"/><circle cx="64" cy="82" r="1.2" opacity="0.07"/><circle cx="34" cy="40" r="1.6" opacity="0.23"/><circle cx="17" cy="20" r="2.3" opacity="0.19"/><circle cx="68" cy="53" r="1.8" opacity="0.27"/><circle cx="12" cy="43" r="1.2" opacity="0.04"/><circle cx="78" cy="107" r="1.4" opacity="0.02"/><circle cx="106" cy="15" r="1.1" opacity="0.12"/><circle cx="72" cy="35" r="1.1" opacity="0.08"/><circle cx="5" cy="86" r="1.8" opacity="0.24"/><circle cx="75" cy="13" r="1.9" opacity="0.26"/><circle cx="15" cy="33" r="1.0" opacity="0.04"/><circle cx="62" cy="77" r="2.1" opacity="0.07"/><circle cx="67" cy="43" r="1.4" opacity="0.21"/><circle cx="16" cy="11" r="1.7" opacity="0.13"/><circle cx="88" cy="2" r="2.3" opacity="0.00"/><circle cx="46" cy="47" r="1.6" opacity="0.20"/><circle cx="67" cy="90" r="2.3" opacity="0.21"/><circle cx="72" cy="32" r="2.4" opacity="0.04"/><circle cx="98" cy="19" r="1.5" opacity="0.13"/><circle cx="15" cy="91" r="1.5" opacity="0.14"/><circle cx="22" cy="81" r="2.3" opacity="0.14"/><circle cx="31" cy="44" r="1.9" opacity="0.30"/><circle cx="10" cy="85" r="2.0" opacity="0.28"/><circle cx="68" cy="84" r="2.4" opacity="0.14"/><circle cx="7" cy="96" r="1.1" opacity="0.11"/><circle cx="67" cy="94" r="1.5" opacity="0.16"/><circle cx="90" cy="68" r="1.7" opacity="0.06"/><circle cx="42" cy="72" r="1.0" opacity="0.26"/><circle cx="32" cy="15" r="1.4" opacity="0.02"/><circle cx="40" cy="42" r="2.0" opacity="0.32"/><circle cx="86" cy="5" r="1.3" opacity="0.01"/><circle cx="53" cy="31" r="2.0" opacity="0.07"/><circle cx="73" cy="11" r="2.3" opacity="0.18"/><circle cx="96" cy="67" r="2.0" opacity="0.03"/><circle cx="26" cy="81" r="1.5" opacity="0.21"/><circle cx="32" cy="69" r="1.5" opacity="0.39"/><circle cx="10" cy="84" r="1.2" opacity="0.28"/><circle cx="10" cy="83" r="2.3" opacity="0.36"/><circle cx="38" cy="86" r="1.4" opacity="0.15"/><circle cx="108" cy="59" r="1.6" opacity="0.03"/><circle cx="61" cy="39" r="2.2" opacity="0.25"/><circle cx="29" cy="33" r="1.6" opacity="0.24"/><circle cx="13" cy="71" r="1.5" opacity="0.28"/><circle cx="65" cy="72" r="2.3" opacity="0.08"/><circle cx="11" cy="75" r="1.4" opacity="0.31"/><circle cx="81" cy="52" r="1.3" opacity="0.05"/><circle cx="11" cy="4" r="2.3" opacity="0.04"/><circle cx="36" cy="86" r="1.6" opacity="0.14"/><circle cx="94" cy="64" r="2.3" opacity="0.06"/><circle cx="2" cy="72" r="2.0" opacity="0.15"/><circle cx="55" cy="51" r="2.3" opacity="0.15"/><circle cx="14" cy="77" r="2.5" opacity="0.23"/><circle cx="103" cy="56" r="2.0" opacity="0.03"/><circle cx="25" cy="68" r="1.6" opacity="0.21"/><circle cx="42" cy="26" r="1.4" opacity="0.04"/><circle cx="46" cy="84" r="2.3" opacity="0.07"/><circle cx="36" cy="79" r="1.1" opacity="0.19"/><circle cx="63" cy="1" r="1.1" opacity="0.03"/><circle cx="38" cy="45" r="2.6" opacity="0.18"/><circle cx="72" cy="102" r="1.9" opacity="0.22"/><circle cx="2" cy="31" r="2.2" opacity="0.02"/><circle cx="10" cy="75" r="2.1" opacity="0.29"/><circle cx="37" cy="66" r="2.0" opacity="0.24"/><circle cx="84" cy="86" r="1.5" opacity="0.33"/><circle cx="48" cy="72" r="1.4" opacity="0.21"/><circle cx="54" cy="78" r="2.3" opacity="0.04"/><circle cx="50" cy="76" r="2.1" opacity="0.07"/><circle cx="61" cy="17" r="2.1" opacity="0.09"/><circle cx="67" cy="23" r="1.4" opacity="0.05"/><circle cx="51" cy="61" r="2.0" opacity="0.16"/><circle cx="15" cy="31" r="2.1" opacity="0.04"/><circle cx="87" cy="46" r="1.3" opacity="0.04"/><circle cx="22" cy="18" r="2.6" opacity="0.17"/><circle cx="68" cy="8" r="1.6" opacity="0.32"/><circle cx="25" cy="47" r="2.0" opacity="0.13"/><circle cx="41" cy="49" r="2.4" opacity="0.37"/><circle cx="70" cy="52" r="1.5" opacity="0.25"/><circle cx="65" cy="68" r="1.9" opacity="0.07"/><circle cx="109" cy="63" r="2.0" opacity="0.02"/><circle cx="54" cy="13" r="1.2" opacity="0.05"/><circle cx="33" cy="33" r="2.5" opacity="0.25"/><circle cx="57" cy="43" r="2.5" opacity="0.13"/><circle cx="8" cy="39" r="1.7" opacity="0.04"/><circle cx="73" cy="37" r="2.1" opacity="0.04"/><circle cx="97" cy="27" r="2.4" opacity="0.09"/><circle cx="37" cy="84" r="2.1" opacity="0.16"/><circle cx="99" cy="62" r="2.1" opacity="0.04"/><circle cx="48" cy="65" r="2.4" opacity="0.30"/><circle cx="84" cy="103" r="2.2" opacity="0.01"/><circle cx="28" cy="55" r="1.9" opacity="0.09"/><circle cx="13" cy="39" r="2.3" opacity="0.05"/><circle cx="93" cy="13" r="1.0" opacity="0.01"/><circle cx="13" cy="78" r="1.6" opacity="0.19"/><circle cx="75" cy="45" r="1.0" opacity="0.11"/><circle cx="51" cy="56" r="1.8" opacity="0.22"/><circle cx="69" cy="89" r="2.6" opacity="0.25"/><circle cx="65" cy="54" r="2.3" opacity="0.27"/><circle cx="105" cy="28" r="1.1" opacity="0.14"/><circle cx="99" cy="71" r="1.1" opacity="0.04"/><circle cx="4" cy="83" r="1.8" opacity="0.18"/><circle cx="40" cy="101" r="2.2" opacity="0.13"/><circle cx="73" cy="94" r="1.2" opacity="0.22"/><circle cx="43" cy="47" r="1.8" opacity="0.23"/><circle cx="35" cy="68" r="2.0" opacity="0.32"/><circle cx="68" cy="61" r="1.9" opacity="0.15"/><circle cx="31" cy="84" r="2.6" opacity="0.16"/><circle cx="68" cy="99" r="2.3" opacity="0.25"/><circle cx="50" cy="39" r="2.2" opacity="0.08"/><circle cx="102" cy="27" r="1.4" opacity="0.17"/><circle cx="37" cy="73" r="2.5" opacity="0.33"/><circle cx="105" cy="65" r="1.4" opacity="0.03"/><circle cx="4" cy="78" r="1.3" opacity="0.29"/><circle cx="45" cy="38" r="1.7" opacity="0.14"/><circle cx="98" cy="60" r="1.5" opacity="0.03"/><circle cx="41" cy="53" r="2.2" opacity="0.22"/><circle cx="28" cy="38" r="1.9" opacity="0.24"/><circle cx="26" cy="22" r="1.3" opacity="0.07"/><circle cx="101" cy="35" r="1.2" opacity="0.08"/><circle cx="18" cy="29" r="1.3" opacity="0.02"/><circle cx="78" cy="28" r="1.8" opacity="0.03"/><circle cx="40" cy="26" r="1.9" opacity="0.03"/><circle cx="100" cy="20" r="2.5" opacity="0.17"/><circle cx="44" cy="12" r="1.3" opacity="0.03"/><circle cx="73" cy="82" r="1.9" opacity="0.18"/><circle cx="41" cy="56" r="1.7" opacity="0.23"/><circle cx="74" cy="10" r="2.2" opacity="0.20"/><circle cx="16" cy="50" r="1.6" opacity="0.04"/><circle cx="36" cy="72" r="1.3" opacity="0.22"/><circle cx="61" cy="27" r="1.6" opacity="0.08"/><circle cx="7" cy="91" r="2.2" opacity="0.19"/><circle cx="68" cy="78" r="2.0" opacity="0.04"/><circle cx="66" cy="101" r="1.2" opacity="0.25"/><circle cx="44" cy="51" r="1.6" opacity="0.32"/><circle cx="70" cy="43" r="1.8" opacity="0.26"/><circle cx="73" cy="61" r="2.1" opacity="0.07"/><circle cx="84" cy="28" r="2.2" opacity="0.03"/><circle cx="29" cy="76" r="2.3" opacity="0.26"/><circle cx="27" cy="86" r="1.1" opacity="0.14"/><circle cx="70" cy="97" r="1.3" opacity="0.18"/><circle cx="104" cy="16" r="1.7" opacity="0.14"/><circle cx="40" cy="107" r="2.2" opacity="0.05"/><circle cx="5" cy="96" r="1.6" opacity="0.07"/><circle cx="79" cy="94" r="1.2" opacity="0.33"/><circle cx="79" cy="40" r="1.3" opacity="0.05"/><circle cx="30" cy="39" r="1.1" opacity="0.27"/><circle cx="66" cy="50" r="1.5" opacity="0.32"/><circle cx="70" cy="56" r="2.4" opacity="0.20"/><circle cx="93" cy="91" r="1.5" opacity="0.05"/><circle cx="6" cy="82" r="1.6" opacity="0.36"/><circle cx="19" cy="36" r="2.5" opacity="0.03"/><circle cx="61" cy="45" r="1.0" opacity="0.18"/><circle cx="107" cy="21" r="1.2" opacity="0.15"/><circle cx="28" cy="15" r="2.0" opacity="0.08"/><circle cx="55" cy="57" r="2.4" opacity="0.06"/><circle cx="87" cy="59" r="1.2" opacity="0.05"/><circle cx="35" cy="58" r="1.2" opacity="0.25"/><circle cx="63" cy="8" r="1.6" opacity="0.25"/><circle cx="63" cy="36" r="1.2" opacity="0.11"/><circle cx="8" cy="23" r="2.1" opacity="0.01"/><circle cx="19" cy="80" r="1.7" opacity="0.11"/><circle cx="54" cy="97" r="2.2" opacity="0.05"/><circle cx="15" cy="32" r="2.2" opacity="0.03"/><circle cx="55" cy="7" r="1.9" opacity="0.02"/><circle cx="52" cy="106" r="1.1" opacity="0.03"/><circle cx="16" cy="74" r="1.4" opacity="0.15"/><circle cx="105" cy="36" r="1.9" opacity="0.22"/><circle cx="71" cy="2" r="2.6" opacity="0.08"/><circle cx="57" cy="27" r="1.2" opacity="0.05"/><circle cx="46" cy="103" r="2.0" opacity="0.09"/><circle cx="41" cy="99" r="1.8" opacity="0.17"/><circle cx="37" cy="99" r="1.1" opacity="0.17"/><circle cx="6" cy="9" r="2.4" opacity="0.06"/><circle cx="86" cy="84" r="2.3" opacity="0.15"/><circle cx="109" cy="30" r="2.0" opacity="0.10"/><circle cx="6" cy="50" r="1.9" opacity="0.04"/><circle cx="89" cy="72" r="2.0" opacity="0.04"/><circle cx="105" cy="17" r="1.4" opacity="0.13"/><circle cx="32" cy="69" r="1.8" opacity="0.20"/><circle cx="58" cy="11" r="1.8" opacity="0.13"/><circle cx="38" cy="51" r="1.8" opacity="0.34"/><circle cx="41" cy="70" r="1.5" opacity="0.27"/><circle cx="103" cy="14" r="2.6" opacity="0.08"/><circle cx="73" cy="56" r="2.5" opacity="0.14"/><circle cx="110" cy="80" r="2.5" opacity="0.01"/><circle cx="99" cy="48" r="1.7" opacity="0.03"/><circle cx="14" cy="89" r="1.6" opacity="0.21"/><circle cx="34" cy="67" r="1.0" opacity="0.27"/><circle cx="19" cy="57" r="1.6" opacity="0.13"/><circle cx="89" cy="58" r="1.5" opacity="0.06"/><circle cx="23" cy="87" r="2.4" opacity="0.02"/><circle cx="65" cy="39" r="1.9" opacity="0.24"/><circle cx="47" cy="16" r="1.3" opacity="0.04"/><circle cx="29" cy="11" r="2.4" opacity="0.07"/><circle cx="69" cy="61" r="1.6" opacity="0.20"/><circle cx="53" cy="105" r="2.4" opacity="0.03"/><circle cx="94" cy="23" r="2.3" opacity="0.12"/><circle cx="74" cy="89" r="2.4" opacity="0.29"/><circle cx="5" cy="49" r="1.3" opacity="0.04"/><circle cx="20" cy="56" r="1.5" opacity="0.10"/><circle cx="100" cy="61" r="2.3" opacity="0.04"/><circle cx="48" cy="34" r="1.7" opacity="0.12"/><circle cx="0" cy="75" r="2.2" opacity="0.21"/><circle cx="61" cy="110" r="1.9" opacity="0.02"/><circle cx="79" cy="84" r="1.6" opacity="0.20"/><circle cx="37" cy="69" r="1.7" opacity="0.23"/><circle cx="68" cy="92" r="2.1" opacity="0.19"/><circle cx="36" cy="20" r="2.6" opacity="0.03"/><circle cx="3" cy="88" r="2.5" opacity="0.15"/><circle cx="7" cy="76" r="2.4" opacity="0.32"/><circle cx="100" cy="77" r="1.1" opacity="0.02"/><circle cx="72" cy="40" r="1.4" opacity="0.14"/><circle cx="36" cy="88" r="1.5" opacity="0.11"/><circle cx="67" cy="48" r="1.9" opacity="0.24"/><circle cx="84" cy="66" r="2.1" opacity="0.05"/><circle cx="13" cy="14" r="1.9" opacity="0.11"/><circle cx="108" cy="25" r="2.0" opacity="0.13"/><circle cx="95" cy="72" r="1.4" opacity="0.05"/><circle cx="14" cy="98" r="2.0" opacity="0.01"/><circle cx="40" cy="60" r="2.4" opacity="0.24"/><circle cx="99" cy="22" r="1.1" opacity="0.21"/><circle cx="94" cy="65" r="1.7" opacity="0.03"/><circle cx="77" cy="85" r="2.3" opacity="0.26"/><circle cx="97" cy="35" r="1.2" opacity="0.04"/><circle cx="73" cy="18" r="1.4" opacity="0.05"/><circle cx="84" cy="77" r="2.1" opacity="0.03"/><circle cx="55" cy="48" r="2.0" opacity="0.14"/><circle cx="40" cy="99" r="1.8" opacity="0.09"/><circle cx="26" cy="46" r="1.9" opacity="0.19"/><circle cx="31" cy="56" r="1.3" opacity="0.21"/><circle cx="101" cy="93" r="1.4" opacity="0.01"/><circle cx="21" cy="18" r="1.7" opacity="0.17"/><circle cx="19" cy="62" r="1.0" opacity="0.12"/><circle cx="88" cy="31" r="1.7" opacity="0.03"/><circle cx="98" cy="47" r="1.5" opacity="0.03"/><circle cx="89" cy="86" r="1.9" opacity="0.18"/><circle cx="79" cy="58" r="1.8" opacity="0.07"/><circle cx="27" cy="67" r="1.2" opacity="0.17"/><circle cx="28" cy="82" r="1.4" opacity="0.25"/><circle cx="38" cy="47" r="2.0" opacity="0.37"/><circle cx="37" cy="98" r="2.0" opacity="0.17"/><circle cx="97" cy="23" r="2.0" opacity="0.18"/><circle cx="94" cy="45" r="1.5" opacity="0.04"/><circle cx="87" cy="38" r="2.5" opacity="0.04"/><circle cx="14" cy="36" r="1.9" opacity="0.03"/><circle cx="51" cy="91" r="1.3" opacity="0.06"/><circle cx="76" cy="98" r="2.2" opacity="0.16"/><circle cx="49" cy="9" r="2.0" opacity="0.03"/><circle cx="24" cy="46" r="1.4" opacity="0.10"/><circle cx="45" cy="88" r="1.5" opacity="0.06"/><circle cx="2" cy="79" r="1.5" opacity="0.26"/><circle cx="76" cy="98" r="2.3" opacity="0.21"/><circle cx="99" cy="46" r="1.8" opacity="0.03"/><circle cx="101" cy="19" r="1.5" opacity="0.12"/><circle cx="59" cy="100" r="1.2" opacity="0.05"/><circle cx="44" cy="38" r="2.4" opacity="0.13"/><circle cx="46" cy="56" r="1.2" opacity="0.26"/><circle cx="54" cy="32" r="2.1" opacity="0.06"/><circle cx="39" cy="37" r="2.4" opacity="0.24"/><circle cx="76" cy="49" r="1.5" opacity="0.13"/><circle cx="53" cy="33" r="2.1" opacity="0.06"/><circle cx="111" cy="50" r="2.0" opacity="0.03"/><circle cx="68" cy="40" r="1.2" opacity="0.24"/><circle cx="103" cy="67" r="1.4" opacity="0.03"/><circle cx="76" cy="98" r="1.5" fill="#000" opacity="0.39"/><circle cx="66" cy="41" r="1.2" fill="#000" opacity="0.57"/><circle cx="61" cy="53" r="1.5" fill="#000" opacity="0.39"/><circle cx="37" cy="42" r="1.7" fill="#000" opacity="0.43"/><circle cx="64" cy="39" r="1.1" fill="#000" opacity="0.38"/><circle cx="11" cy="74" r="1.2" fill="#000" opacity="0.65"/><circle cx="42" cy="50" r="1.0" fill="#000" opacity="0.65"/><circle cx="45" cy="56" r="1.5" fill="#000" opacity="0.52"/><circle cx="81" cy="97" r="1.0" fill="#000" opacity="0.50"/><circle cx="85" cy="96" r="1.1" fill="#000" opacity="0.63"/><circle cx="66" cy="98" r="1.3" fill="#000" opacity="0.64"/><circle cx="28" cy="59" r="1.4" fill="#000" opacity="0.47"/><circle cx="33" cy="63" r="1.6" fill="#000" opacity="0.74"/><circle cx="38" cy="65" r="1.7" fill="#000" opacity="0.37"/><circle cx="78" cy="93" r="1.1" fill="#000" opacity="0.64"/><circle cx="60" cy="12" r="1.3" fill="#000" opacity="0.66"/><circle cx="30" cy="78" r="1.3" fill="#000" opacity="0.50"/><circle cx="24" cy="56" r="1.6" fill="#000" opacity="0.71"/><circle cx="70" cy="12" r="1.4" fill="#000" opacity="0.51"/><circle cx="14" cy="76" r="1.0" fill="#000" opacity="0.67"/><circle cx="46" cy="46" r="1.5" fill="#000" opacity="0.49"/><circle cx="34" cy="68" r="1.3" fill="#000" opacity="0.53"/><circle cx="74" cy="96" r="1.5" fill="#000" opacity="0.69"/><circle cx="1" cy="84" r="1.8" fill="#000" opacity="0.38"/><circle cx="43" cy="63" r="1.4" fill="#000" opacity="0.67"/><circle cx="63" cy="11" r="1.3" fill="#000" opacity="0.67"/><circle cx="106" cy="38" r="1.3" fill="#000" opacity="0.58"/><circle cx="35" cy="44" r="1.5" fill="#000" opacity="0.68"/><circle cx="31" cy="63" r="1.0" fill="#000" opacity="0.52"/><circle cx="64" cy="6" r="1.7" fill="#000" opacity="0.67"/><circle cx="43" cy="69" r="1.2" fill="#000" opacity="0.68"/><circle cx="37" cy="45" r="1.8" fill="#000" opacity="0.65"/><circle cx="10" cy="82" r="1.1" fill="#000" opacity="0.38"/><circle cx="71" cy="45" r="1.8" fill="#000" opacity="0.63"/><circle cx="73" cy="51" r="1.5" fill="#000" opacity="0.44"/><circle cx="71" cy="92" r="1.8" fill="#000" opacity="0.66"/><circle cx="33" cy="33" r="1.0" fill="#000" opacity="0.48"/><circle cx="88" cy="85" r="1.4" fill="#000" opacity="0.60"/><circle cx="105" cy="36" r="1.5" fill="#000" opacity="0.59"/><circle cx="24" cy="66" r="1.2" fill="#000" opacity="0.37"/><circle cx="81" cy="95" r="1.2" fill="#000" opacity="0.49"/><circle cx="74" cy="91" r="1.6" fill="#000" opacity="0.43"/><circle cx="45" cy="61" r="1.4" fill="#000" opacity="0.48"/><circle cx="37" cy="60" r="1.7" fill="#000" opacity="0.52"/><circle cx="67" cy="90" r="1.0" fill="#000" opacity="0.60"/><circle cx="72" cy="14" r="1.6" fill="#000" opacity="0.59"/><circle cx="47" cy="67" r="1.1" fill="#000" opacity="0.73"/><circle cx="42" cy="49" r="1.1" fill="#000" opacity="0.36"/><circle cx="106" cy="35" r="1.1" fill="#000" opacity="0.70"/><circle cx="23" cy="54" r="1.2" fill="#000" opacity="0.69"/><circle cx="31" cy="77" r="1.1" fill="#000" opacity="0.54"/><circle cx="14" cy="84" r="1.0" fill="#000" opacity="0.70"/><circle cx="49" cy="48" r="1.5" fill="#000" opacity="0.63"/><circle cx="28" cy="78" r="1.5" fill="#000" opacity="0.67"/><circle cx="33" cy="79" r="1.4" fill="#000" opacity="0.42"/><circle cx="37" cy="37" r="1.7" fill="#000" opacity="0.50"/><circle cx="76" cy="89" r="1.2" fill="#000" opacity="0.68"/><circle cx="36" cy="47" r="1.5" fill="#000" opacity="0.64"/><circle cx="71" cy="41" r="1.8" fill="#000" opacity="0.50"/><circle cx="34" cy="78" r="1.8" fill="#000" opacity="0.74"/><circle cx="67" cy="52" r="1.8" fill="#000" opacity="0.43"/><circle cx="38" cy="76" r="1.4" fill="#000" opacity="0.49"/><circle cx="40" cy="60" r="1.4" fill="#000" opacity="0.60"/></g><filter id="rhA1" x="-50%" y="-50%" width="200%" height="200%"><feGaussianBlur stdDeviation="1.8"/></filter><g filter="url(#rhA1)" fill="#000"><ellipse cx="29.6" cy="51" rx="6" ry="4.5" transform="rotate(0 29.6 51)" fill="#000"/><ellipse cx="59" cy="64" rx="6" ry="7" transform="rotate(0 59 64)" fill="#000"/></g></g><filter id="rfA2" filterUnits="userSpaceOnUse" x="0" y="0" width="113" height="111" color-interpolation-filters="sRGB"><feGaussianBlur stdDeviation="0.8"/></filter><filter id="rbA2" filterUnits="userSpaceOnUse" x="0" y="0" width="113" height="111"><feGaussianBlur stdDeviation="3"/></filter><g id="redA2"><rect width="113" height="111" fill="#000"/><g filter="url(#rbA2)" fill="rgb(215,22,22)"><rect x="27" y="3" width="6" height="6" opacity="0.10"/><rect x="33" y="3" width="6" height="6" opacity="0.14"/><rect x="39" y="3" width="6" height="6" opacity="0.10"/><rect x="21" y="15" width="6" height="6" opacity="0.14"/><rect x="27" y="15" width="6" height="6" opacity="0.33"/><rect x="33" y="15" width="6" height="6" opacity="0.27"/><rect x="39" y="15" width="6" height="6" opacity="0.14"/><rect x="45" y="15" width="6" height="6" opacity="0.11"/><rect x="27" y="21" width="6" height="6" opacity="0.15"/><rect x="33" y="21" width="6" height="6" opacity="0.18"/><rect x="39" y="21" width="6" height="6" opacity="0.18"/><rect x="45" y="21" width="6" height="6" opacity="0.43"/><rect x="51" y="21" width="6" height="6" opacity="0.42"/><rect x="27" y="27" width="6" height="6" opacity="0.06"/><rect x="33" y="27" width="6" height="6" opacity="0.18"/><rect x="39" y="27" width="6" height="6" opacity="0.33"/><rect x="51" y="27" width="6" height="6" opacity="0.06"/><rect x="57" y="27" width="6" height="6" opacity="0.44"/><rect x="21" y="33" width="6" height="6" opacity="0.11"/><rect x="27" y="33" width="6" height="6" opacity="0.15"/><rect x="33" y="33" width="6" height="6" opacity="0.17"/><rect x="39" y="33" width="6" height="6" opacity="0.37"/><rect x="57" y="33" width="6" height="6" opacity="0.18"/><rect x="63" y="33" width="6" height="6" opacity="0.31"/><rect x="9" y="39" width="6" height="6" opacity="0.15"/><rect x="15" y="39" width="6" height="6" opacity="0.21"/><rect x="21" y="39" width="6" height="6" opacity="0.21"/><rect x="27" y="39" width="6" height="6" opacity="0.16"/><rect x="33" y="39" width="6" height="6" opacity="0.12"/><rect x="39" y="39" width="6" height="6" opacity="0.29"/><rect x="45" y="39" width="6" height="6" opacity="0.13"/><rect x="51" y="39" width="6" height="6" opacity="0.05"/><rect x="57" y="39" width="6" height="6" opacity="0.29"/><rect x="63" y="39" width="6" height="6" opacity="0.36"/><rect x="39" y="45" width="6" height="6" opacity="0.08"/><rect x="45" y="45" width="6" height="6" opacity="0.44"/><rect x="51" y="45" width="6" height="6" opacity="0.29"/><rect x="57" y="45" width="6" height="6" opacity="0.43"/><rect x="87" y="45" width="6" height="6" opacity="0.37"/><rect x="93" y="45" width="6" height="6" opacity="0.39"/><rect x="99" y="45" width="6" height="6" opacity="0.24"/><rect x="51" y="51" width="6" height="6" opacity="0.36"/><rect x="57" y="51" width="6" height="6" opacity="0.35"/><rect x="75" y="51" width="6" height="6" opacity="0.35"/><rect x="81" y="51" width="6" height="6" opacity="0.39"/><rect x="87" y="51" width="6" height="6" opacity="0.13"/><rect x="93" y="51" width="6" height="6" opacity="0.19"/><rect x="99" y="51" width="6" height="6" opacity="0.40"/><rect x="105" y="51" width="6" height="6" opacity="0.38"/><rect x="75" y="57" width="6" height="6" opacity="0.40"/><rect x="93" y="57" width="6" height="6" opacity="0.11"/><rect x="99" y="57" width="6" height="6" opacity="0.10"/><rect x="105" y="57" width="6" height="6" opacity="0.41"/><rect x="111" y="57" width="6" height="6" opacity="0.30"/><rect x="-3" y="63" width="6" height="6" opacity="0.08"/><rect x="3" y="63" width="6" height="6" opacity="0.33"/><rect x="9" y="63" width="6" height="6" opacity="0.37"/><rect x="15" y="63" width="6" height="6" opacity="0.35"/><rect x="21" y="63" width="6" height="6" opacity="0.11"/><rect x="75" y="63" width="6" height="6" opacity="0.37"/><rect x="81" y="63" width="6" height="6" opacity="0.08"/><rect x="93" y="63" width="6" height="6" opacity="0.12"/><rect x="105" y="63" width="6" height="6" opacity="0.40"/><rect x="111" y="63" width="6" height="6" opacity="0.30"/><rect x="-3" y="69" width="6" height="6" opacity="0.34"/><rect x="21" y="69" width="6" height="6" opacity="0.34"/><rect x="27" y="69" width="6" height="6" opacity="0.27"/><rect x="75" y="69" width="6" height="6" opacity="0.42"/><rect x="81" y="69" width="6" height="6" opacity="0.09"/><rect x="87" y="69" width="6" height="6" opacity="0.11"/><rect x="93" y="69" width="6" height="6" opacity="0.10"/><rect x="105" y="69" width="6" height="6" opacity="0.41"/><rect x="-3" y="75" width="6" height="6" opacity="0.34"/><rect x="3" y="75" width="6" height="6" opacity="0.31"/><rect x="21" y="75" width="6" height="6" opacity="0.14"/><rect x="27" y="75" width="6" height="6" opacity="0.36"/><rect x="63" y="75" width="6" height="6" opacity="0.13"/><rect x="69" y="75" width="6" height="6" opacity="0.18"/><rect x="75" y="75" width="6" height="6" opacity="0.20"/><rect x="81" y="75" width="6" height="6" opacity="0.37"/><rect x="87" y="75" width="6" height="6" opacity="0.44"/><rect x="93" y="75" width="6" height="6" opacity="0.44"/><rect x="99" y="75" width="6" height="6" opacity="0.36"/><rect x="-3" y="81" width="6" height="6" opacity="0.21"/><rect x="3" y="81" width="6" height="6" opacity="0.39"/><rect x="9" y="81" width="6" height="6" opacity="0.34"/><rect x="15" y="81" width="6" height="6" opacity="0.35"/><rect x="21" y="81" width="6" height="6" opacity="0.38"/><rect x="51" y="81" width="6" height="6" opacity="0.06"/><rect x="57" y="81" width="6" height="6" opacity="0.16"/><rect x="63" y="81" width="6" height="6" opacity="0.22"/><rect x="69" y="81" width="6" height="6" opacity="0.25"/><rect x="75" y="81" width="6" height="6" opacity="0.27"/><rect x="81" y="81" width="6" height="6" opacity="0.27"/><rect x="87" y="81" width="6" height="6" opacity="0.25"/><rect x="93" y="81" width="6" height="6" opacity="0.21"/><rect x="99" y="81" width="6" height="6" opacity="0.13"/><rect x="51" y="87" width="6" height="6" opacity="0.12"/><rect x="57" y="87" width="6" height="6" opacity="0.21"/><rect x="63" y="87" width="6" height="6" opacity="0.26"/><rect x="69" y="87" width="6" height="6" opacity="0.28"/><rect x="75" y="87" width="6" height="6" opacity="0.30"/><rect x="81" y="87" width="6" height="6" opacity="0.30"/><rect x="87" y="87" width="6" height="6" opacity="0.29"/><rect x="93" y="87" width="6" height="6" opacity="0.25"/><rect x="99" y="87" width="6" height="6" opacity="0.19"/><rect x="105" y="87" width="6" height="6" opacity="0.07"/><rect x="51" y="93" width="6" height="6" opacity="0.13"/><rect x="57" y="93" width="6" height="6" opacity="0.22"/><rect x="63" y="93" width="6" height="6" opacity="0.26"/><rect x="69" y="93" width="6" height="6" opacity="0.28"/><rect x="75" y="93" width="6" height="6" opacity="0.29"/><rect x="81" y="93" width="6" height="6" opacity="0.29"/><rect x="87" y="93" width="6" height="6" opacity="0.27"/><rect x="93" y="93" width="6" height="6" opacity="0.25"/><rect x="99" y="93" width="6" height="6" opacity="0.20"/><rect x="105" y="93" width="6" height="6" opacity="0.09"/><rect x="51" y="99" width="6" height="6" opacity="0.08"/><rect x="57" y="99" width="6" height="6" opacity="0.18"/><rect x="63" y="99" width="6" height="6" opacity="0.22"/><rect x="69" y="99" width="6" height="6" opacity="0.23"/><rect x="75" y="99" width="6" height="6" opacity="0.23"/><rect x="81" y="99" width="6" height="6" opacity="0.23"/><rect x="87" y="99" width="6" height="6" opacity="0.21"/><rect x="93" y="99" width="6" height="6" opacity="0.19"/><rect x="99" y="99" width="6" height="6" opacity="0.14"/><rect x="57" y="105" width="6" height="6" opacity="0.06"/><rect x="63" y="105" width="6" height="6" opacity="0.11"/><rect x="69" y="105" width="6" height="6" opacity="0.10"/><rect x="75" y="105" width="6" height="6" opacity="0.08"/><rect x="81" y="105" width="6" height="6" opacity="0.06"/><rect x="87" y="105" width="6" height="6" opacity="0.05"/></g><g filter="url(#rfA2)" fill="rgb(215,22,22)"><circle cx="50" cy="48" r="2.0" opacity="0.46"/><circle cx="66" cy="95" r="1.5" opacity="0.30"/><circle cx="19" cy="82" r="2.4" opacity="0.29"/><circle cx="58" cy="60" r="1.9" opacity="0.06"/><circle cx="96" cy="97" r="1.9" opacity="0.52"/><circle cx="40" cy="43" r="1.4" opacity="0.27"/><circle cx="78" cy="66" r="2.5" opacity="0.49"/><circle cx="42" cy="16" r="2.6" opacity="0.16"/><circle cx="102" cy="75" r="2.3" opacity="0.74"/><circle cx="13" cy="23" r="1.9" opacity="0.01"/><circle cx="74" cy="90" r="2.4" opacity="0.47"/><circle cx="109" cy="72" r="1.4" opacity="0.47"/><circle cx="21" cy="63" r="1.1" opacity="0.03"/><circle cx="6" cy="84" r="1.6" opacity="0.76"/><circle cx="84" cy="38" r="1.6" opacity="0.04"/><circle cx="55" cy="49" r="1.4" opacity="0.45"/><circle cx="66" cy="81" r="1.1" opacity="0.26"/><circle cx="47" cy="27" r="1.8" opacity="0.82"/><circle cx="102" cy="98" r="2.2" opacity="0.26"/><circle cx="108" cy="96" r="1.4" opacity="0.21"/><circle cx="96" cy="81" r="1.5" opacity="0.56"/><circle cx="16" cy="42" r="1.4" opacity="0.44"/><circle cx="54" cy="50" r="1.5" opacity="0.80"/><circle cx="36" cy="21" r="1.4" opacity="0.33"/><circle cx="65" cy="88" r="1.8" opacity="0.39"/><circle cx="97" cy="97" r="1.7" opacity="0.30"/><circle cx="55" cy="23" r="1.2" opacity="0.61"/><circle cx="104" cy="97" r="1.7" opacity="0.33"/><circle cx="99" cy="64" r="1.8" opacity="0.09"/><circle cx="55" cy="49" r="2.5" opacity="0.66"/><circle cx="30" cy="49" r="1.9" opacity="0.04"/><circle cx="84" cy="89" r="1.7" opacity="0.45"/><circle cx="94" cy="71" r="1.8" opacity="0.18"/><circle cx="105" cy="78" r="1.1" opacity="0.34"/><circle cx="90" cy="97" r="2.4" opacity="0.33"/><circle cx="28" cy="37" r="1.3" opacity="0.40"/><circle cx="75" cy="76" r="1.0" opacity="0.18"/><circle cx="4" cy="55" r="1.2" opacity="0.02"/><circle cx="50" cy="24" r="1.6" opacity="0.61"/><circle cx="82" cy="23" r="1.3" opacity="0.01"/><circle cx="110" cy="63" r="2.3" opacity="0.53"/><circle cx="44" cy="43" r="1.5" opacity="0.47"/><circle cx="34" cy="39" r="1.2" opacity="0.27"/><circle cx="52" cy="26" r="1.7" opacity="0.52"/><circle cx="55" cy="27" r="1.9" opacity="0.52"/><circle cx="34" cy="26" r="1.5" opacity="0.27"/><circle cx="16" cy="87" r="1.6" opacity="0.47"/><circle cx="36" cy="24" r="2.3" opacity="0.26"/><circle cx="111" cy="65" r="1.8" opacity="0.80"/><circle cx="63" cy="34" r="1.8" opacity="0.86"/><circle cx="101" cy="53" r="1.7" opacity="0.48"/><circle cx="104" cy="34" r="2.4" opacity="0.01"/><circle cx="61" cy="78" r="2.3" opacity="0.04"/><circle cx="46" cy="18" r="2.5" opacity="0.21"/><circle cx="34" cy="17" r="2.1" opacity="0.55"/><circle cx="102" cy="40" r="1.2" opacity="0.03"/><circle cx="100" cy="79" r="2.2" opacity="0.53"/><circle cx="56" cy="64" r="1.8" opacity="0.06"/><circle cx="12" cy="87" r="2.1" opacity="0.52"/><circle cx="71" cy="73" r="2.0" opacity="0.06"/><circle cx="75" cy="86" r="1.2" opacity="0.37"/><circle cx="84" cy="89" r="1.3" opacity="0.57"/><circle cx="47" cy="4" r="2.1" opacity="0.03"/><circle cx="89" cy="85" r="1.3" opacity="0.39"/><circle cx="30" cy="82" r="1.7" opacity="0.39"/><circle cx="32" cy="18" r="1.6" opacity="0.66"/><circle cx="74" cy="89" r="1.2" opacity="0.59"/><circle cx="38" cy="82" r="2.0" opacity="0.03"/><circle cx="98" cy="93" r="2.1" opacity="0.27"/><circle cx="103" cy="77" r="1.6" opacity="0.56"/><circle cx="95" cy="71" r="1.9" opacity="0.21"/><circle cx="58" cy="96" r="1.2" opacity="0.24"/><circle cx="48" cy="70" r="1.2" opacity="0.04"/><circle cx="86" cy="78" r="2.4" opacity="0.75"/><circle cx="105" cy="61" r="1.7" opacity="0.41"/><circle cx="5" cy="67" r="1.9" opacity="0.51"/><circle cx="87" cy="104" r="2.1" opacity="0.20"/><circle cx="80" cy="72" r="2.1" opacity="0.86" fill="rgb(255,95,55)"/><circle cx="25" cy="81" r="2.1" opacity="0.57"/><circle cx="62" cy="95" r="1.2" opacity="0.43"/><circle cx="64" cy="106" r="1.0" opacity="0.31"/><circle cx="8" cy="85" r="1.1" opacity="0.64"/><circle cx="76" cy="42" r="1.5" opacity="0.06"/><circle cx="66" cy="94" r="1.7" opacity="0.43"/><circle cx="72" cy="58" r="1.2" opacity="0.05"/><circle cx="42" cy="57" r="2.4" opacity="0.04"/><circle cx="55" cy="49" r="2.5" opacity="0.80"/><circle cx="76" cy="73" r="2.3" opacity="0.48"/><circle cx="106" cy="63" r="1.8" opacity="0.32"/><circle cx="41" cy="0" r="1.5" opacity="0.10"/><circle cx="35" cy="83" r="1.6" opacity="0.04"/><circle cx="86" cy="73" r="2.2" opacity="0.17"/><circle cx="83" cy="105" r="2.5" opacity="0.27"/><circle cx="40" cy="36" r="2.5" opacity="0.39"/><circle cx="88" cy="37" r="1.8" opacity="0.02"/><circle cx="58" cy="46" r="1.6" opacity="0.37"/><circle cx="83" cy="89" r="2.5" opacity="0.66"/><circle cx="37" cy="14" r="2.6" opacity="0.07"/><circle cx="89" cy="83" r="2.3" opacity="0.34"/><circle cx="40" cy="36" r="2.4" opacity="0.37"/><circle cx="38" cy="36" r="2.2" opacity="0.25"/><circle cx="88" cy="50" r="1.6" opacity="0.91"/><circle cx="96" cy="95" r="1.1" opacity="0.47"/><circle cx="91" cy="78" r="1.0" opacity="0.85"/><circle cx="4" cy="80" r="1.3" opacity="0.73"/><circle cx="81" cy="100" r="2.5" opacity="0.52"/><circle cx="60" cy="110" r="1.1" opacity="0.01"/><circle cx="90" cy="33" r="1.3" opacity="0.01"/><circle cx="57" cy="48" r="2.4" opacity="0.45"/><circle cx="66" cy="86" r="1.2" opacity="0.30"/><circle cx="106" cy="55" r="1.6" opacity="0.53"/><circle cx="36" cy="15" r="2.5" opacity="0.16"/><circle cx="69" cy="69" r="1.6" opacity="0.04"/><circle cx="4" cy="67" r="2.1" opacity="0.38"/><circle cx="48" cy="12" r="1.6" opacity="0.03"/><circle cx="47" cy="44" r="2.5" opacity="0.70"/><circle cx="47" cy="89" r="2.2" opacity="0.03"/><circle cx="71" cy="86" r="1.6" opacity="0.46"/><circle cx="21" cy="82" r="2.5" opacity="0.41"/><circle cx="53" cy="21" r="1.6" opacity="0.63"/><circle cx="15" cy="16" r="2.2" opacity="0.01"/><circle cx="62" cy="39" r="2.4" opacity="0.56"/><circle cx="102" cy="87" r="2.0" opacity="0.26"/><circle cx="72" cy="35" r="1.5" opacity="0.05"/><circle cx="67" cy="103" r="1.6" opacity="0.48"/><circle cx="61" cy="80" r="2.0" opacity="0.14"/><circle cx="59" cy="84" r="2.0" opacity="0.25"/><circle cx="79" cy="17" r="1.9" opacity="0.01"/><circle cx="110" cy="35" r="1.4" opacity="0.01"/><circle cx="107" cy="52" r="2.0" opacity="0.57"/><circle cx="40" cy="25" r="2.0" opacity="0.22"/><circle cx="77" cy="64" r="1.2" opacity="0.60"/><circle cx="82" cy="105" r="1.4" opacity="0.30"/><circle cx="76" cy="75" r="2.6" opacity="0.21"/><circle cx="63" cy="89" r="1.1" opacity="0.32"/><circle cx="18" cy="39" r="1.3" opacity="0.23"/><circle cx="83" cy="52" r="2.5" opacity="0.91" fill="rgb(255,95,55)"/><circle cx="27" cy="85" r="1.7" opacity="0.31"/><circle cx="60" cy="105" r="1.6" opacity="0.22"/><circle cx="89" cy="50" r="2.5" opacity="0.80"/><circle cx="93" cy="106" r="1.3" opacity="0.21"/><circle cx="58" cy="9" r="2.1" opacity="0.02"/><circle cx="25" cy="53" r="1.6" opacity="0.05"/><circle cx="70" cy="84" r="2.1" opacity="0.37"/><circle cx="81" cy="66" r="1.4" opacity="0.12"/><circle cx="29" cy="37" r="1.4" opacity="0.26"/><circle cx="89" cy="41" r="2.4" opacity="0.03"/><circle cx="94" cy="46" r="2.4" opacity="0.43"/><circle cx="67" cy="44" r="1.1" opacity="0.47"/><circle cx="53" cy="19" r="1.7" opacity="0.08"/><circle cx="83" cy="96" r="2.0" opacity="0.41"/><circle cx="109" cy="60" r="1.5" opacity="0.52"/><circle cx="81" cy="13" r="2.3" opacity="0.02"/><circle cx="92" cy="49" r="2.0" opacity="0.85"/><circle cx="59" cy="46" r="1.8" opacity="0.39"/><circle cx="52" cy="51" r="1.3" opacity="0.83"/><circle cx="95" cy="78" r="1.1" opacity="0.57"/><circle cx="105" cy="48" r="1.8" opacity="0.02"/><circle cx="54" cy="87" r="2.1" opacity="0.17"/><circle cx="95" cy="62" r="1.1" opacity="0.16"/><circle cx="97" cy="48" r="2.2" opacity="0.79" fill="rgb(255,95,55)"/><circle cx="47" cy="26" r="1.2" opacity="0.92"/><circle cx="68" cy="25" r="2.1" opacity="0.04"/><circle cx="57" cy="99" r="1.9" opacity="0.24"/><circle cx="109" cy="47" r="2.2" opacity="0.01"/><circle cx="32" cy="62" r="2.3" opacity="0.04"/><circle cx="38" cy="48" r="2.0" opacity="0.09"/><circle cx="29" cy="33" r="1.6" opacity="0.24"/><circle cx="34" cy="20" r="1.6" opacity="0.65"/><circle cx="89" cy="44" r="1.8" opacity="0.04"/><circle cx="75" cy="62" r="1.4" opacity="0.83"/><circle cx="74" cy="83" r="1.6" opacity="0.52"/><circle cx="59" cy="50" r="1.1" opacity="0.64"/><circle cx="76" cy="74" r="2.1" opacity="0.12"/><circle cx="11" cy="88" r="2.0" opacity="0.64"/><circle cx="76" cy="59" r="2.2" opacity="0.79"/><circle cx="94" cy="46" r="1.3" opacity="0.43"/><circle cx="97" cy="83" r="1.6" opacity="0.31"/><circle cx="45" cy="87" r="1.3" opacity="0.02"/><circle cx="17" cy="68" r="1.3" opacity="0.46"/><circle cx="42" cy="97" r="2.3" opacity="0.02"/><circle cx="69" cy="22" r="2.2" opacity="0.04"/><circle cx="112" cy="66" r="1.3" opacity="0.86"/><circle cx="64" cy="68" r="1.1" opacity="0.06"/><circle cx="35" cy="29" r="2.4" opacity="0.34"/><circle cx="48" cy="18" r="2.6" opacity="0.16"/><circle cx="38" cy="94" r="1.6" opacity="0.02"/><circle cx="93" cy="30" r="1.0" opacity="0.01"/><circle cx="58" cy="11" r="2.0" opacity="0.03"/><circle cx="99" cy="47" r="1.6" opacity="0.35"/><circle cx="4" cy="75" r="1.5" opacity="0.65"/><circle cx="80" cy="91" r="1.2" opacity="0.63"/><circle cx="100" cy="77" r="1.8" opacity="0.75"/><circle cx="98" cy="46" r="1.8" opacity="0.34"/><circle cx="42" cy="10" r="1.4" opacity="0.02"/><circle cx="8" cy="35" r="1.7" opacity="0.02"/><circle cx="78" cy="44" r="1.7" opacity="0.05"/><circle cx="90" cy="83" r="1.8" opacity="0.30"/><circle cx="108" cy="37" r="1.9" opacity="0.02"/><circle cx="12" cy="86" r="2.4" opacity="0.58"/><circle cx="66" cy="94" r="2.1" opacity="0.29"/><circle cx="57" cy="28" r="1.2" opacity="0.73"/><circle cx="26" cy="77" r="1.7" opacity="0.56"/><circle cx="47" cy="41" r="1.6" opacity="0.26"/><circle cx="111" cy="55" r="2.0" opacity="0.27"/><circle cx="93" cy="104" r="1.7" opacity="0.25"/><circle cx="24" cy="16" r="1.1" opacity="0.50"/><circle cx="12" cy="88" r="2.0" opacity="0.72"/><circle cx="65" cy="99" r="1.5" opacity="0.28"/><circle cx="49" cy="11" r="2.1" opacity="0.02"/><circle cx="105" cy="56" r="1.1" opacity="0.89"/><circle cx="32" cy="36" r="1.7" opacity="0.27"/><circle cx="88" cy="93" r="1.6" opacity="0.51"/><circle cx="78" cy="91" r="2.2" opacity="0.65"/><circle cx="42" cy="37" r="1.2" opacity="0.78" fill="rgb(255,95,55)"/><circle cx="93" cy="52" r="1.5" opacity="0.41"/><circle cx="63" cy="64" r="2.2" opacity="0.06"/><circle cx="63" cy="100" r="1.6" opacity="0.36"/><circle cx="91" cy="94" r="1.6" opacity="0.49"/><circle cx="53" cy="21" r="1.1" opacity="0.44"/><circle cx="4" cy="86" r="1.3" opacity="0.38"/><circle cx="38" cy="85" r="1.3" opacity="0.03"/><circle cx="35" cy="39" r="1.2" opacity="0.29"/><circle cx="78" cy="54" r="1.6" opacity="0.44"/><circle cx="64" cy="42" r="2.1" opacity="0.55"/><circle cx="110" cy="61" r="2.3" opacity="0.96"/><circle cx="51" cy="101" r="1.5" opacity="0.03"/><circle cx="52" cy="55" r="1.2" opacity="0.64"/><circle cx="81" cy="75" r="2.1" opacity="0.82"/><circle cx="24" cy="82" r="1.4" opacity="0.84"/><circle cx="46" cy="58" r="2.5" opacity="0.04"/><circle cx="94" cy="69" r="1.5" opacity="0.25"/><circle cx="45" cy="48" r="2.3" opacity="0.42"/><circle cx="20" cy="20" r="1.5" opacity="0.01"/><circle cx="17" cy="95" r="1.3" opacity="0.01"/><circle cx="100" cy="59" r="1.0" opacity="0.23"/><circle cx="48" cy="23" r="2.5" opacity="0.51"/><circle cx="88" cy="94" r="1.3" opacity="0.54"/><circle cx="60" cy="89" r="1.6" opacity="0.41"/><circle cx="22" cy="34" r="2.4" opacity="0.14"/><circle cx="15" cy="89" r="1.3" opacity="0.31"/><circle cx="98" cy="93" r="2.3" opacity="0.47"/><circle cx="73" cy="103" r="2.0" opacity="0.32"/><circle cx="68" cy="75" r="1.8" opacity="0.15"/><circle cx="100" cy="105" r="1.3" opacity="0.23"/><circle cx="71" cy="67" r="2.4" opacity="0.04"/><circle cx="79" cy="77" r="2.1" opacity="0.22"/><circle cx="17" cy="82" r="1.9" opacity="0.11"/><circle cx="31" cy="82" r="1.8" opacity="0.38"/><circle cx="44" cy="5" r="2.3" opacity="0.08"/><circle cx="89" cy="82" r="1.8" opacity="0.42"/><circle cx="83" cy="73" r="2.5" opacity="0.39"/><circle cx="104" cy="57" r="1.3" opacity="0.34"/><circle cx="105" cy="21" r="2.4" opacity="0.00"/><circle cx="62" cy="42" r="1.9" opacity="0.49"/><circle cx="37" cy="41" r="1.2" opacity="0.23"/><circle cx="72" cy="73" r="2.5" opacity="0.04"/><circle cx="55" cy="7" r="1.6" opacity="0.02"/><circle cx="87" cy="81" r="1.2" opacity="0.36"/><circle cx="83" cy="73" r="2.4" opacity="0.58"/><circle cx="110" cy="47" r="1.4" opacity="0.02"/><circle cx="41" cy="107" r="2.1" opacity="0.01"/><circle cx="62" cy="36" r="2.5" opacity="0.84"/><circle cx="69" cy="17" r="1.9" opacity="0.02"/><circle cx="95" cy="100" r="2.2" opacity="0.41"/><circle cx="58" cy="47" r="2.4" opacity="0.52"/><circle cx="44" cy="25" r="1.4" opacity="0.76" fill="rgb(255,95,55)"/><circle cx="37" cy="18" r="2.0" opacity="0.36"/><circle cx="94" cy="62" r="2.5" opacity="0.21"/><circle cx="97" cy="50" r="1.7" opacity="0.56"/><circle cx="16" cy="46" r="1.2" opacity="0.19"/><circle cx="92" cy="103" r="1.5" opacity="0.34"/><circle cx="99" cy="96" r="1.0" opacity="0.33"/><circle cx="7" cy="52" r="2.2" opacity="0.02"/><circle cx="48" cy="47" r="2.6" opacity="0.92"/><circle cx="62" cy="90" r="2.1" opacity="0.37"/><circle cx="102" cy="76" r="2.3" opacity="0.63"/><circle cx="39" cy="69" r="2.5" opacity="0.01"/><circle cx="2" cy="81" r="1.2" opacity="0.60"/><circle cx="44" cy="29" r="1.1" opacity="0.64"/><circle cx="28" cy="87" r="2.1" opacity="0.03"/><circle cx="44" cy="19" r="2.1" opacity="0.24"/><circle cx="45" cy="42" r="2.0" opacity="0.65"/><circle cx="32" cy="19" r="1.6" opacity="0.41"/><circle cx="85" cy="68" r="1.8" opacity="0.14"/><circle cx="57" cy="40" r="2.5" opacity="0.04"/><circle cx="39" cy="21" r="1.1" opacity="0.39"/><circle cx="50" cy="56" r="2.3" opacity="0.05"/><circle cx="18" cy="92" r="2.4" opacity="0.01"/><circle cx="56" cy="60" r="2.3" opacity="0.05"/><circle cx="74" cy="91" r="1.9" opacity="0.62"/><circle cx="35" cy="35" r="1.1" opacity="0.25"/><circle cx="3" cy="37" r="1.8" opacity="0.02"/><circle cx="61" cy="84" r="1.8" opacity="0.27"/><circle cx="109" cy="55" r="2.3" opacity="0.52"/><circle cx="45" cy="37" r="2.1" opacity="0.16"/><circle cx="66" cy="8" r="1.8" opacity="0.03"/><circle cx="77" cy="33" r="2.5" opacity="0.04"/><circle cx="21" cy="67" r="1.6" opacity="0.54"/><circle cx="2" cy="80" r="1.7" opacity="0.80"/><circle cx="94" cy="48" r="2.4" opacity="0.66"/><circle cx="55" cy="45" r="1.1" opacity="0.27"/><circle cx="24" cy="22" r="2.2" opacity="0.12"/><circle cx="49" cy="74" r="1.7" opacity="0.05"/><circle cx="83" cy="77" r="2.0" opacity="0.64"/><circle cx="26" cy="74" r="1.9" opacity="0.42"/><circle cx="89" cy="90" r="1.2" opacity="0.64"/><circle cx="80" cy="57" r="1.4" opacity="0.58"/><circle cx="29" cy="83" r="2.5" opacity="0.33"/><circle cx="58" cy="102" r="2.5" opacity="0.21"/><circle cx="39" cy="39" r="1.2" opacity="0.28"/><circle cx="31" cy="33" r="2.1" opacity="0.27"/><circle cx="100" cy="51" r="1.0" opacity="0.65"/><circle cx="68" cy="81" r="1.1" opacity="0.24"/><circle cx="78" cy="69" r="1.4" opacity="0.62"/><circle cx="75" cy="88" r="1.8" opacity="0.62"/><circle cx="103" cy="92" r="1.8" opacity="0.34"/><circle cx="27" cy="66" r="2.4" opacity="0.04"/><circle cx="70" cy="86" r="1.6" opacity="0.39"/><circle cx="92" cy="77" r="1.1" opacity="0.49"/><circle cx="51" cy="57" r="2.4" opacity="0.03"/><circle cx="86" cy="94" r="2.3" opacity="0.54"/><circle cx="1" cy="68" r="2.6" opacity="0.39"/><circle cx="13" cy="31" r="1.2" opacity="0.02"/><circle cx="41" cy="2" r="1.7" opacity="0.16"/><circle cx="63" cy="47" r="2.3" opacity="0.88"/><circle cx="59" cy="108" r="2.2" opacity="0.06"/><circle cx="63" cy="5" r="1.4" opacity="0.02"/><circle cx="47" cy="80" r="1.2" opacity="0.05"/><circle cx="64" cy="65" r="1.3" opacity="0.06"/><circle cx="36" cy="28" r="1.5" opacity="0.22"/><circle cx="39" cy="10" r="1.8" opacity="0.02"/><circle cx="24" cy="71" r="1.0" opacity="0.44"/><circle cx="56" cy="25" r="1.2" opacity="0.56"/><circle cx="5" cy="79" r="2.3" opacity="0.53"/><circle cx="90" cy="88" r="1.6" opacity="0.58"/><circle cx="78" cy="61" r="1.2" opacity="0.73"/><circle cx="64" cy="36" r="2.5" opacity="0.78"/><circle cx="99" cy="85" r="1.6" opacity="0.24"/><circle cx="99" cy="98" r="1.6" opacity="0.34"/><circle cx="101" cy="57" r="1.6" opacity="0.25"/><circle cx="16" cy="36" r="1.3" opacity="0.02"/><circle cx="75" cy="69" r="1.0" opacity="0.61"/><circle cx="28" cy="82" r="1.2" opacity="0.66"/><circle cx="47" cy="23" r="1.9" opacity="0.56"/><circle cx="73" cy="94" r="2.5" opacity="0.46"/><circle cx="93" cy="76" r="1.0" opacity="0.76"/><circle cx="72" cy="92" r="2.1" opacity="0.44"/><circle cx="83" cy="72" r="1.4" opacity="0.55"/><circle cx="61" cy="10" r="1.3" opacity="0.03"/><circle cx="37" cy="59" r="2.6" opacity="0.04"/><circle cx="41" cy="106" r="1.6" opacity="0.02"/><circle cx="68" cy="51" r="1.3" opacity="0.04"/><circle cx="46" cy="30" r="1.8" opacity="0.26"/><circle cx="74" cy="48" r="1.9" opacity="0.05"/><circle cx="36" cy="62" r="2.1" opacity="0.02"/><circle cx="96" cy="48" r="2.1" opacity="0.64"/><circle cx="32" cy="24" r="1.4" opacity="0.35"/><circle cx="96" cy="84" r="1.5" opacity="0.32"/><circle cx="22" cy="32" r="2.3" opacity="0.12"/><circle cx="105" cy="58" r="2.1" opacity="0.75" fill="rgb(255,95,55)"/><circle cx="93" cy="81" r="2.1" opacity="0.42"/><circle cx="31" cy="84" r="1.2" opacity="0.03"/><circle cx="56" cy="24" r="1.2" opacity="0.53"/><circle cx="79" cy="87" r="1.6" opacity="0.40"/><circle cx="94" cy="68" r="2.4" opacity="0.21"/><circle cx="71" cy="77" r="1.2" opacity="0.21"/><circle cx="97" cy="94" r="1.4" opacity="0.51"/><circle cx="59" cy="92" r="1.5" opacity="0.26"/><circle cx="35" cy="31" r="1.8" opacity="0.25"/><circle cx="80" cy="92" r="1.6" opacity="0.42"/><circle cx="107" cy="59" r="1.1" opacity="0.70"/><circle cx="19" cy="84" r="2.1" opacity="0.62"/><circle cx="99" cy="58" r="1.5" opacity="0.19"/><circle cx="37" cy="17" r="2.6" opacity="0.25"/><circle cx="30" cy="34" r="1.2" opacity="0.26"/><circle cx="39" cy="101" r="2.0" opacity="0.02"/><circle cx="7" cy="82" r="2.3" opacity="0.63"/><circle cx="74" cy="98" r="2.6" opacity="0.54"/><circle cx="90" cy="91" r="1.9" opacity="0.36"/><circle cx="107" cy="29" r="1.7" opacity="0.01"/><circle cx="96" cy="49" r="2.5" opacity="0.48"/><circle cx="95" cy="88" r="1.4" opacity="0.51"/><circle cx="16" cy="63" r="1.7" opacity="0.03"/><circle cx="92" cy="83" r="2.0" opacity="0.37"/><circle cx="86" cy="88" r="1.9" opacity="0.33"/><circle cx="99" cy="79" r="2.4" opacity="0.66"/><circle cx="35" cy="30" r="1.7" opacity="0.34"/><circle cx="76" cy="93" r="1.1" opacity="0.66"/><circle cx="66" cy="103" r="2.5" opacity="0.38"/><circle cx="86" cy="48" r="1.0" opacity="0.59"/><circle cx="57" cy="69" r="1.5" opacity="0.03"/><circle cx="2" cy="47" r="1.3" opacity="0.02"/><circle cx="63" cy="54" r="2.4" opacity="0.21"/><circle cx="1" cy="55" r="2.2" opacity="0.02"/><circle cx="30" cy="43" r="1.3" opacity="0.16"/><circle cx="94" cy="56" r="1.7" opacity="0.21"/><circle cx="54" cy="53" r="1.2" opacity="0.57"/><circle cx="30" cy="81" r="2.5" opacity="0.62"/><circle cx="89" cy="75" r="1.5" opacity="0.24"/><circle cx="93" cy="102" r="2.2" opacity="0.33"/><circle cx="98" cy="53" r="1.1" opacity="0.53"/><circle cx="12" cy="68" r="2.3" opacity="0.15"/><circle cx="12" cy="50" r="2.4" opacity="0.03"/><circle cx="80" cy="100" r="1.0" opacity="0.52"/><circle cx="47" cy="93" r="1.1" opacity="0.02"/><circle cx="43" cy="45" r="2.3" opacity="0.71"/><circle cx="62" cy="73" r="1.3" opacity="0.05"/><circle cx="63" cy="88" r="1.6" opacity="0.43"/><circle cx="23" cy="15" r="2.1" opacity="0.39"/><circle cx="51" cy="82" r="2.6" opacity="0.05"/><circle cx="86" cy="90" r="1.2" fill="#000" opacity="0.58"/><circle cx="44" cy="47" r="1.5" fill="#000" opacity="0.42"/><circle cx="97" cy="82" r="1.5" fill="#000" opacity="0.44"/><circle cx="50" cy="47" r="1.4" fill="#000" opacity="0.43"/><circle cx="87" cy="83" r="1.4" fill="#000" opacity="0.40"/><circle cx="47" cy="47" r="1.5" fill="#000" opacity="0.50"/><circle cx="24" cy="42" r="0.9" fill="#000" opacity="0.69"/><circle cx="56" cy="28" r="1.5" fill="#000" opacity="0.52"/><circle cx="48" cy="48" r="1.1" fill="#000" opacity="0.73"/><circle cx="89" cy="97" r="1.4" fill="#000" opacity="0.49"/><circle cx="38" cy="29" r="1.7" fill="#000" opacity="0.52"/><circle cx="67" cy="37" r="1.6" fill="#000" opacity="0.59"/><circle cx="84" cy="81" r="1.4" fill="#000" opacity="0.57"/><circle cx="72" cy="65" r="1.0" fill="#000" opacity="0.39"/><circle cx="105" cy="97" r="1.4" fill="#000" opacity="0.71"/><circle cx="88" cy="98" r="1.3" fill="#000" opacity="0.45"/><circle cx="26" cy="68" r="1.2" fill="#000" opacity="0.64"/><circle cx="57" cy="29" r="1.1" fill="#000" opacity="0.61"/><circle cx="63" cy="39" r="1.8" fill="#000" opacity="0.51"/><circle cx="81" cy="101" r="1.7" fill="#000" opacity="0.60"/><circle cx="104" cy="88" r="1.0" fill="#000" opacity="0.66"/><circle cx="63" cy="43" r="1.5" fill="#000" opacity="0.60"/><circle cx="76" cy="64" r="1.1" fill="#000" opacity="0.45"/><circle cx="85" cy="88" r="1.0" fill="#000" opacity="0.53"/><circle cx="88" cy="98" r="1.5" fill="#000" opacity="0.70"/><circle cx="78" cy="66" r="1.2" fill="#000" opacity="0.54"/><circle cx="24" cy="66" r="0.9" fill="#000" opacity="0.64"/><circle cx="73" cy="86" r="1.4" fill="#000" opacity="0.38"/><circle cx="63" cy="79" r="1.4" fill="#000" opacity="0.68"/><circle cx="85" cy="55" r="1.1" fill="#000" opacity="0.62"/><circle cx="14" cy="85" r="1.7" fill="#000" opacity="0.60"/><circle cx="40" cy="20" r="1.0" fill="#000" opacity="0.53"/><circle cx="112" cy="61" r="1.7" fill="#000" opacity="0.36"/><circle cx="63" cy="86" r="1.0" fill="#000" opacity="0.54"/><circle cx="31" cy="16" r="1.0" fill="#000" opacity="0.43"/><circle cx="72" cy="83" r="1.3" fill="#000" opacity="0.47"/><circle cx="77" cy="68" r="1.2" fill="#000" opacity="0.61"/><circle cx="65" cy="42" r="1.0" fill="#000" opacity="0.64"/><circle cx="57" cy="95" r="1.6" fill="#000" opacity="0.43"/><circle cx="2" cy="75" r="1.4" fill="#000" opacity="0.53"/><circle cx="0" cy="64" r="1.1" fill="#000" opacity="0.53"/><circle cx="41" cy="45" r="1.1" fill="#000" opacity="0.53"/><circle cx="94" cy="88" r="1.0" fill="#000" opacity="0.50"/><circle cx="98" cy="87" r="1.7" fill="#000" opacity="0.68"/><circle cx="79" cy="80" r="0.9" fill="#000" opacity="0.62"/><circle cx="95" cy="98" r="1.7" fill="#000" opacity="0.59"/><circle cx="112" cy="70" r="0.9" fill="#000" opacity="0.45"/><circle cx="75" cy="68" r="1.5" fill="#000" opacity="0.59"/><circle cx="27" cy="37" r="1.5" fill="#000" opacity="0.49"/><circle cx="25" cy="41" r="1.4" fill="#000" opacity="0.55"/><circle cx="96" cy="71" r="1.8" fill="#000" opacity="0.36"/><circle cx="78" cy="72" r="1.2" fill="#000" opacity="0.53"/><circle cx="16" cy="45" r="0.9" fill="#000" opacity="0.59"/><circle cx="112" cy="66" r="1.8" fill="#000" opacity="0.41"/><circle cx="51" cy="52" r="1.7" fill="#000" opacity="0.71"/><circle cx="83" cy="77" r="1.2" fill="#000" opacity="0.52"/><circle cx="49" cy="44" r="1.1" fill="#000" opacity="0.66"/><circle cx="86" cy="82" r="1.3" fill="#000" opacity="0.53"/><circle cx="49" cy="48" r="1.8" fill="#000" opacity="0.41"/><circle cx="107" cy="74" r="1.6" fill="#000" opacity="0.69"/><circle cx="108" cy="71" r="1.6" fill="#000" opacity="0.67"/><circle cx="81" cy="57" r="1.8" fill="#000" opacity="0.46"/><circle cx="103" cy="99" r="1.4" fill="#000" opacity="0.42"/><circle cx="72" cy="87" r="1.2" fill="#000" opacity="0.35"/><circle cx="54" cy="46" r="1.2" fill="#000" opacity="0.67"/><circle cx="49" cy="52" r="1.4" fill="#000" opacity="0.40"/><circle cx="4" cy="82" r="1.6" fill="#000" opacity="0.54"/><circle cx="81" cy="83" r="1.1" fill="#000" opacity="0.42"/><circle cx="71" cy="91" r="1.7" fill="#000" opacity="0.64"/><circle cx="77" cy="75" r="1.5" fill="#000" opacity="0.65"/><circle cx="86" cy="81" r="1.8" fill="#000" opacity="0.47"/><circle cx="2" cy="65" r="1.6" fill="#000" opacity="0.46"/><circle cx="32" cy="79" r="1.2" fill="#000" opacity="0.70"/><circle cx="89" cy="78" r="1.5" fill="#000" opacity="0.44"/><circle cx="58" cy="92" r="1.8" fill="#000" opacity="0.59"/><circle cx="35" cy="8" r="1.6" fill="#000" opacity="0.41"/><circle cx="60" cy="31" r="0.9" fill="#000" opacity="0.37"/><circle cx="103" cy="49" r="1.6" fill="#000" opacity="0.66"/><circle cx="3" cy="75" r="1.7" fill="#000" opacity="0.67"/><circle cx="57" cy="25" r="1.5" fill="#000" opacity="0.57"/><circle cx="14" cy="41" r="0.9" fill="#000" opacity="0.60"/><circle cx="65" cy="96" r="1.4" fill="#000" opacity="0.75"/><circle cx="56" cy="23" r="1.1" fill="#000" opacity="0.66"/><circle cx="98" cy="54" r="1.6" fill="#000" opacity="0.41"/><circle cx="40" cy="28" r="1.3" fill="#000" opacity="0.57"/><circle cx="7" cy="87" r="0.9" fill="#000" opacity="0.39"/><circle cx="92" cy="70" r="0.9" fill="#000" opacity="0.60"/><circle cx="87" cy="86" r="1.6" fill="#000" opacity="0.63"/><circle cx="81" cy="106" r="1.4" fill="#000" opacity="0.47"/><circle cx="86" cy="89" r="1.4" fill="#000" opacity="0.70"/><circle cx="58" cy="86" r="1.6" fill="#000" opacity="0.49"/><circle cx="59" cy="54" r="1.4" fill="#000" opacity="0.57"/><circle cx="80" cy="84" r="1.6" fill="#000" opacity="0.53"/><circle cx="86" cy="104" r="1.5" fill="#000" opacity="0.42"/><circle cx="39" cy="34" r="1.6" fill="#000" opacity="0.58"/><circle cx="25" cy="39" r="1.2" fill="#000" opacity="0.53"/><circle cx="24" cy="83" r="1.3" fill="#000" opacity="0.60"/><circle cx="84" cy="49" r="1.0" fill="#000" opacity="0.43"/><circle cx="77" cy="57" r="1.2" fill="#000" opacity="0.60"/><circle cx="22" cy="15" r="0.9" fill="#000" opacity="0.59"/><circle cx="12" cy="41" r="1.6" fill="#000" opacity="0.43"/><circle cx="78" cy="64" r="1.4" fill="#000" opacity="0.40"/><circle cx="90" cy="70" r="1.2" fill="#000" opacity="0.68"/><circle cx="93" cy="85" r="1.6" fill="#000" opacity="0.75"/><circle cx="23" cy="71" r="1.6" fill="#000" opacity="0.72"/><circle cx="108" cy="76" r="1.5" fill="#000" opacity="0.63"/><circle cx="61" cy="106" r="1.4" fill="#000" opacity="0.52"/><circle cx="7" cy="88" r="1.4" fill="#000" opacity="0.54"/><circle cx="71" cy="107" r="0.9" fill="#000" opacity="0.38"/><circle cx="16" cy="46" r="1.0" fill="#000" opacity="0.57"/><circle cx="101" cy="51" r="0.9" fill="#000" opacity="0.36"/><circle cx="76" cy="87" r="1.0" fill="#000" opacity="0.50"/><circle cx="74" cy="64" r="1.0" fill="#000" opacity="0.65"/><circle cx="64" cy="52" r="1.2" fill="#000" opacity="0.56"/></g><filter id="rhA2" x="-50%" y="-50%" width="200%" height="200%"><feGaussianBlur stdDeviation="1.8"/></filter><g filter="url(#rhA2)" fill="#000"><ellipse cx="51" cy="35.5" rx="9" ry="7" transform="rotate(35 51 35.5)" fill="#000"/><ellipse cx="24.4" cy="28.1" rx="7" ry="4.5" transform="rotate(5 24.4 28.1)" fill="#000"/><ellipse cx="88" cy="62" rx="5" ry="6.5" transform="rotate(0 88 62)" fill="#000"/><ellipse cx="102" cy="68.8" rx="6" ry="6" transform="rotate(0 102 68.8)" fill="#000"/><ellipse cx="12.6" cy="73.2" rx="10" ry="5.5" transform="rotate(15 12.6 73.2)" fill="#000"/></g></g><filter id="rfB0" filterUnits="userSpaceOnUse" x="0" y="0" width="113" height="111" color-interpolation-filters="sRGB"><feGaussianBlur stdDeviation="0.8"/></filter><filter id="rbB0" filterUnits="userSpaceOnUse" x="0" y="0" width="113" height="111"><feGaussianBlur stdDeviation="3"/></filter><g id="redB0"><rect width="113" height="111" fill="#000"/><g filter="url(#rbB0)" fill="rgb(232,30,22)"><rect x="39" y="-3" width="6" height="6" opacity="0.06"/><rect x="45" y="-3" width="6" height="6" opacity="0.09"/><rect x="87" y="-3" width="6" height="6" opacity="0.06"/><rect x="9" y="3" width="6" height="6" opacity="0.11"/><rect x="15" y="3" width="6" height="6" opacity="0.33"/><rect x="21" y="3" width="6" height="6" opacity="0.28"/><rect x="33" y="3" width="6" height="6" opacity="0.21"/><rect x="39" y="3" width="6" height="6" opacity="0.36"/><rect x="45" y="3" width="6" height="6" opacity="0.38"/><rect x="51" y="3" width="6" height="6" opacity="0.27"/><rect x="75" y="3" width="6" height="6" opacity="0.18"/><rect x="81" y="3" width="6" height="6" opacity="0.29"/><rect x="87" y="3" width="6" height="6" opacity="0.30"/><rect x="93" y="3" width="6" height="6" opacity="0.22"/><rect x="3" y="9" width="6" height="6" opacity="0.43"/><rect x="9" y="9" width="6" height="6" opacity="0.51"/><rect x="15" y="9" width="6" height="6" opacity="0.48"/><rect x="21" y="9" width="6" height="6" opacity="0.51"/><rect x="27" y="9" width="6" height="6" opacity="0.40"/><rect x="39" y="9" width="6" height="6" opacity="0.13"/><rect x="45" y="9" width="6" height="6" opacity="0.20"/><rect x="75" y="9" width="6" height="6" opacity="0.05"/><rect x="81" y="9" width="6" height="6" opacity="0.19"/><rect x="87" y="9" width="6" height="6" opacity="0.16"/><rect x="-3" y="15" width="6" height="6" opacity="0.36"/><rect x="3" y="15" width="6" height="6" opacity="0.48"/><rect x="21" y="15" width="6" height="6" opacity="0.38"/><rect x="27" y="15" width="6" height="6" opacity="0.49"/><rect x="45" y="15" width="6" height="6" opacity="0.20"/><rect x="-3" y="21" width="6" height="6" opacity="0.47"/><rect x="3" y="21" width="6" height="6" opacity="0.43"/><rect x="21" y="21" width="6" height="6" opacity="0.36"/><rect x="27" y="21" width="6" height="6" opacity="0.48"/><rect x="39" y="21" width="6" height="6" opacity="0.34"/><rect x="45" y="21" width="6" height="6" opacity="0.08"/><rect x="51" y="21" width="6" height="6" opacity="0.23"/><rect x="57" y="21" width="6" height="6" opacity="0.17"/><rect x="-3" y="27" width="6" height="6" opacity="0.43"/><rect x="3" y="27" width="6" height="6" opacity="0.46"/><rect x="9" y="27" width="6" height="6" opacity="0.08"/><rect x="21" y="27" width="6" height="6" opacity="0.26"/><rect x="27" y="27" width="6" height="6" opacity="0.38"/><rect x="33" y="27" width="6" height="6" opacity="0.06"/><rect x="39" y="27" width="6" height="6" opacity="0.30"/><rect x="57" y="27" width="6" height="6" opacity="0.32"/><rect x="-3" y="33" width="6" height="6" opacity="0.12"/><rect x="3" y="33" width="6" height="6" opacity="0.48"/><rect x="9" y="33" width="6" height="6" opacity="0.51"/><rect x="15" y="33" width="6" height="6" opacity="0.51"/><rect x="21" y="33" width="6" height="6" opacity="0.42"/><rect x="27" y="33" width="6" height="6" opacity="0.20"/><rect x="33" y="33" width="6" height="6" opacity="0.18"/><rect x="39" y="33" width="6" height="6" opacity="0.32"/><rect x="45" y="33" width="6" height="6" opacity="0.23"/><rect x="51" y="33" width="6" height="6" opacity="0.33"/><rect x="57" y="33" width="6" height="6" opacity="0.27"/><rect x="63" y="33" width="6" height="6" opacity="0.16"/><rect x="69" y="33" width="6" height="6" opacity="0.10"/><rect x="9" y="39" width="6" height="6" opacity="0.18"/><rect x="15" y="39" width="6" height="6" opacity="0.08"/><rect x="21" y="39" width="6" height="6" opacity="0.05"/><rect x="27" y="39" width="6" height="6" opacity="0.25"/><rect x="33" y="39" width="6" height="6" opacity="0.34"/><rect x="39" y="39" width="6" height="6" opacity="0.40"/><rect x="45" y="39" width="6" height="6" opacity="0.43"/><rect x="51" y="39" width="6" height="6" opacity="0.43"/><rect x="69" y="39" width="6" height="6" opacity="0.36"/><rect x="75" y="39" width="6" height="6" opacity="0.30"/><rect x="81" y="39" width="6" height="6" opacity="0.19"/><rect x="27" y="45" width="6" height="6" opacity="0.08"/><rect x="33" y="45" width="6" height="6" opacity="0.21"/><rect x="39" y="45" width="6" height="6" opacity="0.40"/><rect x="45" y="45" width="6" height="6" opacity="0.45"/><rect x="51" y="45" width="6" height="6" opacity="0.47"/><rect x="57" y="45" width="6" height="6" opacity="0.04"/><rect x="69" y="45" width="6" height="6" opacity="0.07"/><rect x="75" y="45" width="6" height="6" opacity="0.13"/><rect x="81" y="45" width="6" height="6" opacity="0.34"/><rect x="87" y="45" width="6" height="6" opacity="0.29"/><rect x="93" y="45" width="6" height="6" opacity="0.07"/><rect x="99" y="45" width="6" height="6" opacity="0.06"/><rect x="3" y="51" width="6" height="6" opacity="0.24"/><rect x="21" y="51" width="6" height="6" opacity="0.09"/><rect x="27" y="51" width="6" height="6" opacity="0.32"/><rect x="33" y="51" width="6" height="6" opacity="0.35"/><rect x="39" y="51" width="6" height="6" opacity="0.33"/><rect x="45" y="51" width="6" height="6" opacity="0.41"/><rect x="51" y="51" width="6" height="6" opacity="0.45"/><rect x="57" y="51" width="6" height="6" opacity="0.47"/><rect x="63" y="51" width="6" height="6" opacity="0.48"/><rect x="81" y="51" width="6" height="6" opacity="0.37"/><rect x="87" y="51" width="6" height="6" opacity="0.35"/><rect x="93" y="51" width="6" height="6" opacity="0.07"/><rect x="99" y="51" width="6" height="6" opacity="0.07"/><rect x="-3" y="57" width="6" height="6" opacity="0.18"/><rect x="3" y="57" width="6" height="6" opacity="0.31"/><rect x="9" y="57" width="6" height="6" opacity="0.18"/><rect x="27" y="57" width="6" height="6" opacity="0.29"/><rect x="33" y="57" width="6" height="6" opacity="0.37"/><rect x="39" y="57" width="6" height="6" opacity="0.33"/><rect x="45" y="57" width="6" height="6" opacity="0.29"/><rect x="51" y="57" width="6" height="6" opacity="0.36"/><rect x="57" y="57" width="6" height="6" opacity="0.40"/><rect x="63" y="57" width="6" height="6" opacity="0.41"/><rect x="69" y="57" width="6" height="6" opacity="0.23"/><rect x="75" y="57" width="6" height="6" opacity="0.27"/><rect x="81" y="57" width="6" height="6" opacity="0.32"/><rect x="87" y="57" width="6" height="6" opacity="0.27"/><rect x="93" y="57" width="6" height="6" opacity="0.08"/><rect x="99" y="57" width="6" height="6" opacity="0.07"/><rect x="-3" y="63" width="6" height="6" opacity="0.24"/><rect x="3" y="63" width="6" height="6" opacity="0.33"/><rect x="9" y="63" width="6" height="6" opacity="0.20"/><rect x="33" y="63" width="6" height="6" opacity="0.12"/><rect x="39" y="63" width="6" height="6" opacity="0.10"/><rect x="51" y="63" width="6" height="6" opacity="0.11"/><rect x="57" y="63" width="6" height="6" opacity="0.20"/><rect x="63" y="63" width="6" height="6" opacity="0.23"/><rect x="69" y="63" width="6" height="6" opacity="0.23"/><rect x="75" y="63" width="6" height="6" opacity="0.19"/><rect x="81" y="63" width="6" height="6" opacity="0.11"/><rect x="87" y="63" width="6" height="6" opacity="0.05"/><rect x="93" y="63" width="6" height="6" opacity="0.07"/><rect x="99" y="63" width="6" height="6" opacity="0.07"/><rect x="-3" y="69" width="6" height="6" opacity="0.24"/><rect x="3" y="69" width="6" height="6" opacity="0.31"/><rect x="9" y="69" width="6" height="6" opacity="0.15"/><rect x="93" y="69" width="6" height="6" opacity="0.06"/><rect x="99" y="69" width="6" height="6" opacity="0.06"/><rect x="-3" y="75" width="6" height="6" opacity="0.17"/><rect x="3" y="75" width="6" height="6" opacity="0.24"/><rect x="45" y="75" width="6" height="6" opacity="0.20"/><rect x="51" y="75" width="6" height="6" opacity="0.27"/><rect x="57" y="75" width="6" height="6" opacity="0.29"/><rect x="63" y="75" width="6" height="6" opacity="0.30"/><rect x="69" y="75" width="6" height="6" opacity="0.12"/><rect x="93" y="75" width="6" height="6" opacity="0.05"/><rect x="99" y="75" width="6" height="6" opacity="0.05"/><rect x="33" y="81" width="6" height="6" opacity="0.18"/><rect x="39" y="81" width="6" height="6" opacity="0.09"/><rect x="51" y="81" width="6" height="6" opacity="0.13"/><rect x="57" y="81" width="6" height="6" opacity="0.44"/><rect x="63" y="81" width="6" height="6" opacity="0.44"/><rect x="69" y="81" width="6" height="6" opacity="0.38"/><rect x="75" y="81" width="6" height="6" opacity="0.10"/><rect x="27" y="87" width="6" height="6" opacity="0.18"/><rect x="33" y="87" width="6" height="6" opacity="0.33"/><rect x="39" y="87" width="6" height="6" opacity="0.37"/><rect x="51" y="87" width="6" height="6" opacity="0.44"/><rect x="57" y="87" width="6" height="6" opacity="0.50"/><rect x="63" y="87" width="6" height="6" opacity="0.46"/><rect x="69" y="87" width="6" height="6" opacity="0.41"/><rect x="75" y="87" width="6" height="6" opacity="0.20"/><rect x="27" y="93" width="6" height="6" opacity="0.27"/><rect x="33" y="93" width="6" height="6" opacity="0.39"/><rect x="51" y="93" width="6" height="6" opacity="0.19"/><rect x="57" y="93" width="6" height="6" opacity="0.50"/><rect x="63" y="93" width="6" height="6" opacity="0.45"/><rect x="69" y="93" width="6" height="6" opacity="0.36"/><rect x="75" y="93" width="6" height="6" opacity="0.16"/><rect x="105" y="93" width="6" height="6" opacity="0.20"/><rect x="27" y="99" width="6" height="6" opacity="0.26"/><rect x="33" y="99" width="6" height="6" opacity="0.37"/><rect x="39" y="99" width="6" height="6" opacity="0.30"/><rect x="51" y="99" width="6" height="6" opacity="0.46"/><rect x="57" y="99" width="6" height="6" opacity="0.43"/><rect x="63" y="99" width="6" height="6" opacity="0.37"/><rect x="69" y="99" width="6" height="6" opacity="0.24"/><rect x="99" y="99" width="6" height="6" opacity="0.05"/><rect x="105" y="99" width="6" height="6" opacity="0.40"/><rect x="111" y="99" width="6" height="6" opacity="0.18"/><rect x="27" y="105" width="6" height="6" opacity="0.11"/><rect x="33" y="105" width="6" height="6" opacity="0.27"/><rect x="39" y="105" width="6" height="6" opacity="0.33"/><rect x="45" y="105" width="6" height="6" opacity="0.35"/><rect x="51" y="105" width="6" height="6" opacity="0.33"/><rect x="57" y="105" width="6" height="6" opacity="0.26"/><rect x="63" y="105" width="6" height="6" opacity="0.13"/><rect x="105" y="105" width="6" height="6" opacity="0.36"/><rect x="111" y="105" width="6" height="6" opacity="0.19"/></g><g filter="url(#rfB0)" fill="rgb(232,30,22)"><circle cx="97" cy="32" r="1.3" opacity="0.01"/><circle cx="48" cy="25" r="1.1" opacity="0.02"/><circle cx="1" cy="20" r="1.6" opacity="0.56"/><circle cx="83" cy="59" r="2.4" opacity="0.67"/><circle cx="66" cy="97" r="2.1" opacity="0.61"/><circle cx="27" cy="28" r="2.5" opacity="0.87"/><circle cx="80" cy="53" r="1.8" opacity="0.21"/><circle cx="57" cy="102" r="2.4" opacity="0.73"/><circle cx="41" cy="60" r="1.7" opacity="0.67"/><circle cx="13" cy="33" r="2.0" opacity="0.58"/><circle cx="87" cy="59" r="1.1" opacity="0.60"/><circle cx="5" cy="18" r="1.1" opacity="0.91" fill="rgb(255,95,55)"/><circle cx="44" cy="2" r="1.4" opacity="0.60"/><circle cx="70" cy="97" r="2.2" opacity="0.55"/><circle cx="93" cy="67" r="1.6" opacity="0.07"/><circle cx="69" cy="60" r="2.1" opacity="0.48"/><circle cx="23" cy="18" r="1.8" opacity="0.37"/><circle cx="1" cy="46" r="1.6" opacity="0.03"/><circle cx="10" cy="61" r="2.1" opacity="0.42"/><circle cx="57" cy="1" r="1.4" opacity="0.02"/><circle cx="105" cy="45" r="1.4" opacity="0.10"/><circle cx="69" cy="105" r="2.5" opacity="0.45"/><circle cx="54" cy="65" r="2.3" opacity="0.26"/><circle cx="7" cy="20" r="2.0" opacity="0.67"/><circle cx="6" cy="63" r="1.4" opacity="0.39"/><circle cx="95" cy="62" r="2.5" opacity="0.12"/><circle cx="42" cy="108" r="1.8" opacity="0.54"/><circle cx="7" cy="29" r="2.0" opacity="0.52"/><circle cx="83" cy="65" r="2.0" opacity="0.27"/><circle cx="49" cy="41" r="2.3" opacity="0.62"/><circle cx="111" cy="104" r="1.1" opacity="0.78"/><circle cx="67" cy="107" r="2.0" opacity="0.19"/><circle cx="24" cy="72" r="1.5" opacity="0.05"/><circle cx="60" cy="110" r="2.4" opacity="0.29"/><circle cx="10" cy="18" r="2.0" opacity="0.42"/><circle cx="19" cy="13" r="2.5" opacity="0.87"/><circle cx="3" cy="63" r="2.0" opacity="0.59"/><circle cx="94" cy="33" r="2.5" opacity="0.01"/><circle cx="26" cy="30" r="2.3" opacity="0.84" fill="rgb(255,95,55)"/><circle cx="78" cy="87" r="1.8" opacity="0.19"/><circle cx="10" cy="22" r="1.2" opacity="0.11"/><circle cx="36" cy="106" r="1.6" opacity="0.66"/><circle cx="35" cy="68" r="2.0" opacity="0.07"/><circle cx="9" cy="73" r="1.4" opacity="0.31"/><circle cx="44" cy="1" r="2.4" opacity="0.46"/><circle cx="71" cy="99" r="2.1" opacity="0.56"/><circle cx="61" cy="14" r="1.9" opacity="0.03"/><circle cx="46" cy="36" r="1.9" opacity="0.77"/><circle cx="51" cy="79" r="2.4" opacity="0.53"/><circle cx="102" cy="43" r="2.5" opacity="0.06"/><circle cx="87" cy="54" r="1.0" opacity="0.80"/><circle cx="55" cy="65" r="1.7" opacity="0.34"/><circle cx="58" cy="96" r="2.6" opacity="0.64"/><circle cx="54" cy="111" r="1.2" opacity="0.29"/><circle cx="8" cy="27" r="1.5" opacity="1.00"/><circle cx="5" cy="39" r="2.3" opacity="0.66"/><circle cx="23" cy="58" r="1.9" opacity="0.04"/><circle cx="1" cy="22" r="2.1" opacity="0.81"/><circle cx="50" cy="37" r="2.4" opacity="0.58"/><circle cx="69" cy="77" r="1.4" opacity="0.36"/><circle cx="34" cy="100" r="1.1" opacity="0.73"/><circle cx="53" cy="44" r="2.0" opacity="0.68"/><circle cx="70" cy="35" r="1.1" opacity="0.13"/><circle cx="88" cy="73" r="1.6" opacity="0.03"/><circle cx="14" cy="10" r="2.4" opacity="0.71"/><circle cx="3" cy="14" r="1.2" opacity="0.46"/><circle cx="60" cy="25" r="1.5" opacity="0.29"/><circle cx="0" cy="20" r="2.6" opacity="0.86"/><circle cx="47" cy="23" r="1.9" opacity="0.39"/><circle cx="5" cy="79" r="1.9" opacity="0.41"/><circle cx="36" cy="85" r="1.7" opacity="0.38"/><circle cx="25" cy="87" r="1.2" opacity="0.05"/><circle cx="41" cy="34" r="1.1" opacity="0.54"/><circle cx="97" cy="75" r="2.4" opacity="0.10"/><circle cx="74" cy="82" r="1.5" opacity="0.31"/><circle cx="40" cy="20" r="1.8" opacity="0.20"/><circle cx="63" cy="105" r="1.6" opacity="0.39"/><circle cx="50" cy="44" r="1.7" opacity="0.93"/><circle cx="36" cy="38" r="1.4" opacity="0.53"/><circle cx="21" cy="16" r="2.0" opacity="0.66"/><circle cx="47" cy="106" r="1.2" opacity="0.75"/><circle cx="64" cy="82" r="1.1" opacity="0.82"/><circle cx="37" cy="37" r="2.5" opacity="0.24"/><circle cx="27" cy="36" r="1.4" opacity="0.41"/><circle cx="103" cy="49" r="2.0" opacity="0.12"/><circle cx="26" cy="41" r="1.5" opacity="0.19"/><circle cx="21" cy="38" r="1.9" opacity="0.53"/><circle cx="62" cy="94" r="1.2" opacity="0.60"/><circle cx="76" cy="91" r="2.1" opacity="0.49"/><circle cx="57" cy="53" r="1.2" opacity="0.93"/><circle cx="64" cy="94" r="1.3" opacity="0.74"/><circle cx="53" cy="3" r="1.2" opacity="0.37"/><circle cx="52" cy="42" r="2.2" opacity="0.84"/><circle cx="49" cy="108" r="1.7" opacity="0.57"/><circle cx="30" cy="52" r="1.7" opacity="0.53"/><circle cx="71" cy="47" r="1.1" opacity="0.63"/><circle cx="62" cy="67" r="2.4" opacity="0.15"/><circle cx="34" cy="60" r="1.7" opacity="0.55"/><circle cx="44" cy="43" r="1.7" opacity="0.48"/><circle cx="0" cy="70" r="2.1" opacity="0.54"/><circle cx="81" cy="102" r="1.9" opacity="0.02"/><circle cx="64" cy="82" r="1.1" opacity="0.55"/><circle cx="40" cy="57" r="2.5" opacity="0.65"/><circle cx="24" cy="23" r="1.3" opacity="0.78"/><circle cx="40" cy="97" r="1.8" opacity="0.26"/><circle cx="3" cy="65" r="1.4" opacity="0.59"/><circle cx="91" cy="54" r="2.4" opacity="0.59"/><circle cx="40" cy="2" r="1.5" opacity="0.34"/><circle cx="39" cy="97" r="2.1" opacity="0.75" fill="rgb(255,95,55)"/><circle cx="35" cy="102" r="2.6" opacity="0.75"/><circle cx="101" cy="41" r="2.1" opacity="0.04"/><circle cx="45" cy="25" r="2.0" opacity="0.12"/><circle cx="82" cy="20" r="1.3" opacity="0.04"/><circle cx="54" cy="63" r="2.5" opacity="0.37"/><circle cx="52" cy="104" r="1.2" opacity="0.68"/><circle cx="57" cy="28" r="1.3" opacity="0.37"/><circle cx="63" cy="30" r="2.0" opacity="0.06"/><circle cx="51" cy="40" r="2.4" opacity="0.90"/><circle cx="111" cy="106" r="2.2" opacity="0.53"/><circle cx="80" cy="41" r="1.5" opacity="0.28"/><circle cx="55" cy="76" r="2.5" opacity="0.42"/><circle cx="57" cy="23" r="1.8" opacity="0.44"/><circle cx="22" cy="14" r="2.5" opacity="0.71"/><circle cx="48" cy="2" r="1.6" opacity="0.51"/><circle cx="73" cy="62" r="2.5" opacity="0.38"/><circle cx="43" cy="70" r="1.3" opacity="0.04"/><circle cx="71" cy="65" r="1.6" opacity="0.30"/><circle cx="50" cy="47" r="1.8" opacity="0.60"/><circle cx="31" cy="104" r="1.9" opacity="0.43"/><circle cx="54" cy="25" r="1.6" opacity="0.19"/><circle cx="2" cy="76" r="2.4" opacity="0.30"/><circle cx="36" cy="96" r="2.1" opacity="0.50"/><circle cx="88" cy="59" r="1.4" opacity="0.56"/><circle cx="41" cy="30" r="1.5" opacity="0.78"/><circle cx="49" cy="44" r="1.7" opacity="0.97"/><circle cx="80" cy="78" r="2.6" opacity="0.06"/><circle cx="5" cy="26" r="1.5" opacity="0.66"/><circle cx="16" cy="18" r="2.0" opacity="0.02"/><circle cx="92" cy="15" r="2.5" opacity="0.02"/><circle cx="87" cy="7" r="2.6" opacity="0.69"/><circle cx="8" cy="29" r="2.5" opacity="0.63"/><circle cx="58" cy="61" r="1.7" opacity="0.54"/><circle cx="61" cy="101" r="2.4" opacity="0.96"/><circle cx="56" cy="107" r="1.5" opacity="0.72"/><circle cx="79" cy="89" r="1.2" opacity="0.21"/><circle cx="31" cy="53" r="2.1" opacity="0.51"/><circle cx="10" cy="8" r="2.3" opacity="0.44"/><circle cx="36" cy="8" r="2.6" opacity="0.31"/><circle cx="81" cy="48" r="1.0" opacity="0.66"/><circle cx="103" cy="99" r="1.4" opacity="0.13"/><circle cx="77" cy="66" r="1.5" opacity="0.29"/><circle cx="87" cy="52" r="2.2" opacity="0.72"/><circle cx="63" cy="83" r="1.7" opacity="0.47"/><circle cx="91" cy="35" r="2.0" opacity="0.02"/><circle cx="68" cy="100" r="1.6" opacity="0.64"/><circle cx="71" cy="96" r="1.1" opacity="0.79" fill="rgb(255,95,55)"/><circle cx="62" cy="57" r="1.9" opacity="0.57"/><circle cx="66" cy="57" r="1.2" opacity="0.71"/><circle cx="39" cy="90" r="2.3" opacity="0.61"/><circle cx="63" cy="54" r="2.4" opacity="0.90"/><circle cx="35" cy="70" r="1.0" opacity="0.06"/><circle cx="85" cy="14" r="1.1" opacity="0.09"/><circle cx="22" cy="22" r="2.4" opacity="0.10"/><circle cx="56" cy="78" r="2.2" opacity="0.52"/><circle cx="66" cy="58" r="2.4" opacity="0.71"/><circle cx="30" cy="63" r="2.6" opacity="0.25"/><circle cx="64" cy="93" r="1.2" opacity="0.82"/><circle cx="29" cy="8" r="1.3" opacity="0.44"/><circle cx="111" cy="109" r="2.6" opacity="0.58"/><circle cx="67" cy="59" r="1.6" opacity="0.96"/><circle cx="55" cy="34" r="1.1" opacity="0.16"/><circle cx="37" cy="37" r="2.4" opacity="0.20"/><circle cx="45" cy="41" r="1.2" opacity="0.59"/><circle cx="93" cy="53" r="2.4" opacity="0.55"/><circle cx="55" cy="96" r="1.6" opacity="0.77"/><circle cx="38" cy="54" r="2.1" opacity="0.51"/><circle cx="8" cy="61" r="1.2" opacity="0.54"/><circle cx="36" cy="110" r="1.2" opacity="0.24"/><circle cx="61" cy="99" r="1.7" opacity="1.00"/><circle cx="5" cy="22" r="2.0" opacity="0.63"/><circle cx="3" cy="21" r="1.3" opacity="0.79" fill="rgb(255,95,55)"/><circle cx="34" cy="94" r="2.1" opacity="0.67"/><circle cx="26" cy="23" r="2.5" opacity="0.73"/><circle cx="36" cy="109" r="2.1" opacity="0.49"/><circle cx="58" cy="81" r="1.1" opacity="0.45"/><circle cx="87" cy="62" r="1.3" opacity="0.40"/><circle cx="12" cy="12" r="1.1" opacity="0.67"/><circle cx="48" cy="37" r="1.7" opacity="0.63"/><circle cx="29" cy="57" r="1.3" opacity="0.38"/><circle cx="22" cy="105" r="1.7" opacity="0.02"/><circle cx="46" cy="109" r="1.7" opacity="0.69"/><circle cx="37" cy="2" r="2.1" opacity="0.13"/><circle cx="77" cy="6" r="2.3" opacity="0.15"/><circle cx="77" cy="96" r="1.1" opacity="0.45"/><circle cx="68" cy="89" r="1.5" opacity="0.74"/><circle cx="107" cy="51" r="2.4" opacity="0.05"/><circle cx="77" cy="60" r="1.4" opacity="0.34"/><circle cx="30" cy="26" r="2.3" opacity="0.71"/><circle cx="38" cy="84" r="2.1" opacity="0.50"/><circle cx="55" cy="21" r="1.6" opacity="0.59"/><circle cx="85" cy="35" r="2.5" opacity="0.03"/><circle cx="49" cy="61" r="2.0" opacity="0.44"/><circle cx="34" cy="52" r="1.5" opacity="0.60"/><circle cx="22" cy="11" r="1.2" opacity="0.73"/><circle cx="25" cy="72" r="1.4" opacity="0.03"/><circle cx="85" cy="16" r="1.2" opacity="0.03"/><circle cx="85" cy="15" r="1.4" opacity="0.04"/><circle cx="68" cy="30" r="1.3" opacity="0.05"/><circle cx="70" cy="84" r="1.8" opacity="0.77"/><circle cx="25" cy="6" r="2.0" opacity="0.34"/><circle cx="100" cy="34" r="2.5" opacity="0.02"/><circle cx="1" cy="23" r="1.1" opacity="0.94"/><circle cx="59" cy="100" r="1.0" opacity="0.70"/><circle cx="46" cy="48" r="2.5" opacity="0.76"/><circle cx="57" cy="41" r="2.5" opacity="0.74"/><circle cx="75" cy="96" r="2.5" opacity="0.43"/><circle cx="7" cy="19" r="2.4" opacity="0.75"/><circle cx="70" cy="85" r="2.2" opacity="0.73"/><circle cx="69" cy="13" r="2.4" opacity="0.03"/><circle cx="9" cy="11" r="1.1" opacity="0.70"/><circle cx="44" cy="4" r="1.1" opacity="0.77"/><circle cx="46" cy="47" r="2.0" opacity="0.90"/><circle cx="84" cy="49" r="1.5" opacity="0.45"/><circle cx="29" cy="30" r="1.7" opacity="0.81"/><circle cx="38" cy="35" r="2.1" opacity="0.23"/><circle cx="19" cy="42" r="1.3" opacity="0.06"/><circle cx="47" cy="11" r="1.7" opacity="0.55"/><circle cx="23" cy="55" r="2.2" opacity="0.05"/><circle cx="83" cy="98" r="1.3" opacity="0.03"/><circle cx="47" cy="9" r="2.6" opacity="0.76"/><circle cx="57" cy="37" r="1.6" opacity="0.38"/><circle cx="27" cy="44" r="1.5" opacity="0.20"/><circle cx="70" cy="37" r="1.6" opacity="0.23"/><circle cx="1" cy="18" r="1.4" opacity="0.58"/><circle cx="75" cy="90" r="1.2" opacity="0.47"/><circle cx="41" cy="90" r="2.0" opacity="0.91" fill="rgb(255,95,55)"/><circle cx="53" cy="6" r="2.4" opacity="0.34"/><circle cx="24" cy="73" r="1.0" opacity="0.05"/><circle cx="69" cy="47" r="1.8" opacity="0.37"/><circle cx="63" cy="51" r="2.6" opacity="0.26"/><circle cx="7" cy="27" r="1.6" opacity="1.00"/><circle cx="4" cy="15" r="1.5" opacity="0.83"/><circle cx="27" cy="10" r="2.0" opacity="0.56"/><circle cx="30" cy="76" r="2.3" opacity="0.05"/><circle cx="28" cy="9" r="1.5" opacity="0.44"/><circle cx="67" cy="62" r="2.3" opacity="0.75"/><circle cx="43" cy="89" r="2.6" opacity="0.11"/><circle cx="51" cy="105" r="1.9" opacity="0.65"/><circle cx="113" cy="38" r="2.1" opacity="0.01"/><circle cx="101" cy="42" r="1.5" opacity="0.06"/><circle cx="32" cy="17" r="1.4" opacity="0.91"/><circle cx="105" cy="107" r="2.1" opacity="0.52"/><circle cx="32" cy="55" r="2.0" opacity="0.42"/><circle cx="39" cy="72" r="1.8" opacity="0.04"/><circle cx="1" cy="15" r="2.4" opacity="0.51"/><circle cx="30" cy="11" r="1.2" opacity="0.83"/><circle cx="26" cy="7" r="2.5" opacity="0.38"/><circle cx="16" cy="63" r="1.4" opacity="0.05"/><circle cx="7" cy="25" r="2.4" opacity="0.89"/><circle cx="42" cy="40" r="1.8" opacity="0.81"/><circle cx="75" cy="100" r="2.5" opacity="0.37"/><circle cx="12" cy="10" r="1.0" opacity="0.68"/><circle cx="22" cy="11" r="2.1" opacity="0.56"/><circle cx="73" cy="96" r="2.3" opacity="0.70"/><circle cx="51" cy="81" r="1.3" opacity="0.26"/><circle cx="65" cy="96" r="2.1" opacity="1.00"/><circle cx="63" cy="97" r="1.7" opacity="0.99"/><circle cx="31" cy="32" r="1.6" opacity="0.41"/><circle cx="88" cy="4" r="2.0" opacity="0.34"/><circle cx="101" cy="34" r="2.4" opacity="0.01"/><circle cx="7" cy="33" r="1.0" opacity="0.68"/><circle cx="28" cy="24" r="1.3" opacity="0.69"/><circle cx="27" cy="44" r="1.1" opacity="0.23"/><circle cx="79" cy="67" r="1.6" opacity="0.17"/><circle cx="68" cy="95" r="2.1" opacity="0.68"/><circle cx="65" cy="79" r="1.3" opacity="0.50"/><circle cx="79" cy="23" r="1.8" opacity="0.04"/><circle cx="9" cy="74" r="1.6" opacity="0.50"/><circle cx="44" cy="102" r="1.1" opacity="0.42"/><circle cx="8" cy="39" r="1.6" opacity="0.72"/><circle cx="5" cy="11" r="1.5" opacity="0.39"/><circle cx="25" cy="11" r="2.1" opacity="0.60"/><circle cx="32" cy="97" r="1.8" opacity="0.49"/><circle cx="28" cy="22" r="2.2" opacity="0.83"/><circle cx="60" cy="60" r="2.1" opacity="0.89"/><circle cx="35" cy="87" r="2.5" opacity="0.39"/><circle cx="3" cy="37" r="1.5" opacity="0.46"/><circle cx="25" cy="110" r="2.3" opacity="0.01"/><circle cx="61" cy="67" r="2.0" opacity="0.28"/><circle cx="45" cy="59" r="1.2" opacity="0.56"/><circle cx="40" cy="79" r="1.1" opacity="0.07"/><circle cx="31" cy="100" r="2.1" opacity="0.46"/><circle cx="16" cy="70" r="1.9" opacity="0.05"/><circle cx="101" cy="44" r="2.4" opacity="0.07"/><circle cx="84" cy="54" r="2.5" opacity="0.41"/><circle cx="12" cy="32" r="1.0" opacity="0.53"/><circle cx="59" cy="74" r="2.0" opacity="0.12"/><circle cx="34" cy="60" r="1.8" opacity="0.70"/><circle cx="46" cy="61" r="2.6" opacity="0.27"/><circle cx="85" cy="43" r="1.4" opacity="0.24"/><circle cx="15" cy="42" r="1.1" opacity="0.25"/><circle cx="69" cy="78" r="1.1" opacity="0.64"/><circle cx="91" cy="51" r="2.0" opacity="0.50"/><circle cx="31" cy="98" r="2.1" opacity="0.38"/><circle cx="66" cy="80" r="1.5" opacity="0.62"/><circle cx="51" cy="5" r="2.5" opacity="0.54"/><circle cx="4" cy="68" r="1.7" opacity="0.69"/><circle cx="53" cy="55" r="2.5" opacity="0.58"/><circle cx="69" cy="56" r="2.5" opacity="0.46"/><circle cx="94" cy="88" r="1.4" opacity="0.01"/><circle cx="55" cy="94" r="1.3" opacity="0.93"/><circle cx="5" cy="70" r="1.1" opacity="0.55"/><circle cx="28" cy="104" r="2.0" opacity="0.31"/><circle cx="54" cy="103" r="2.4" opacity="0.93" fill="rgb(255,95,55)"/><circle cx="55" cy="22" r="2.2" opacity="0.49"/><circle cx="66" cy="36" r="2.0" opacity="0.19"/><circle cx="77" cy="6" r="2.2" opacity="0.18"/><circle cx="102" cy="79" r="1.1" opacity="0.08"/><circle cx="84" cy="27" r="2.5" opacity="0.06"/><circle cx="106" cy="99" r="2.1" opacity="0.48"/><circle cx="5" cy="21" r="1.7" opacity="0.68"/><circle cx="76" cy="60" r="2.4" opacity="0.41"/><circle cx="3" cy="23" r="1.9" opacity="0.69"/><circle cx="48" cy="56" r="2.0" opacity="0.56"/><circle cx="29" cy="71" r="2.2" opacity="0.03"/><circle cx="12" cy="32" r="2.4" opacity="0.58"/><circle cx="59" cy="89" r="1.4" opacity="0.55"/><circle cx="50" cy="79" r="1.9" opacity="0.32"/><circle cx="68" cy="27" r="1.4" opacity="0.04"/><circle cx="27" cy="78" r="1.3" opacity="0.04"/><circle cx="28" cy="43" r="2.5" opacity="0.32"/><circle cx="11" cy="43" r="2.1" opacity="0.05"/><circle cx="78" cy="47" r="1.0" opacity="0.41"/><circle cx="54" cy="88" r="2.6" opacity="0.44"/><circle cx="91" cy="57" r="1.9" opacity="0.49"/><circle cx="83" cy="16" r="2.5" opacity="0.03"/><circle cx="64" cy="56" r="1.4" opacity="0.93"/><circle cx="102" cy="36" r="2.1" opacity="0.03"/><circle cx="110" cy="107" r="1.1" opacity="0.48"/><circle cx="39" cy="2" r="2.5" opacity="0.33"/><circle cx="58" cy="82" r="1.8" opacity="0.59"/><circle cx="33" cy="64" r="1.5" opacity="0.33"/><circle cx="37" cy="39" r="2.2" opacity="0.36"/><circle cx="31" cy="87" r="1.4" opacity="0.14"/><circle cx="42" cy="30" r="1.4" opacity="0.61"/><circle cx="47" cy="109" r="1.3" opacity="0.56"/><circle cx="52" cy="36" r="2.0" opacity="0.45"/><circle cx="105" cy="72" r="1.1" opacity="0.10"/><circle cx="65" cy="52" r="2.2" opacity="0.79"/><circle cx="112" cy="105" r="2.5" opacity="0.71"/><circle cx="27" cy="47" r="2.2" opacity="0.03"/><circle cx="41" cy="66" r="2.0" opacity="0.11"/><circle cx="43" cy="54" r="1.2" opacity="0.40"/><circle cx="72" cy="95" r="1.1" opacity="0.67"/><circle cx="62" cy="52" r="1.4" opacity="0.57"/><circle cx="4" cy="70" r="1.3" opacity="0.71"/><circle cx="68" cy="86" r="2.3" opacity="0.67"/><circle cx="88" cy="95" r="1.1" opacity="0.02"/><circle cx="69" cy="64" r="1.1" opacity="0.35"/><circle cx="3" cy="35" r="1.7" opacity="0.75"/><circle cx="52" cy="56" r="1.4" opacity="0.81"/><circle cx="67" cy="14" r="1.1" opacity="0.04"/><circle cx="78" cy="79" r="2.4" opacity="0.05"/><circle cx="0" cy="70" r="1.9" opacity="0.35"/><circle cx="16" cy="78" r="2.3" opacity="0.03"/><circle cx="55" cy="35" r="1.2" opacity="0.34"/><circle cx="36" cy="71" r="1.9" opacity="0.03"/><circle cx="71" cy="81" r="1.8" opacity="0.44"/><circle cx="65" cy="56" r="1.6" opacity="0.60"/><circle cx="108" cy="64" r="2.0" opacity="0.02"/><circle cx="62" cy="84" r="1.0" opacity="0.94"/><circle cx="19" cy="72" r="1.9" opacity="0.03"/><circle cx="59" cy="107" r="1.3" opacity="0.58"/><circle cx="25" cy="14" r="2.0" opacity="0.93"/><circle cx="49" cy="6" r="1.7" opacity="0.64"/><circle cx="34" cy="97" r="1.7" opacity="0.71"/><circle cx="83" cy="12" r="1.8" opacity="0.38"/><circle cx="12" cy="71" r="1.6" opacity="0.22"/><circle cx="25" cy="33" r="1.3" opacity="0.55"/><circle cx="39" cy="64" r="1.0" opacity="0.63"/><circle cx="43" cy="20" r="1.8" opacity="0.71"/><circle cx="6" cy="34" r="1.2" opacity="0.78" fill="rgb(255,95,55)"/><circle cx="106" cy="108" r="2.2" opacity="0.39"/><circle cx="48" cy="3" r="1.7" opacity="0.58"/><circle cx="67" cy="60" r="1.3" opacity="0.60"/><circle cx="40" cy="33" r="2.1" opacity="0.55"/><circle cx="67" cy="75" r="1.9" opacity="0.06"/><circle cx="17" cy="9" r="1.1" opacity="0.57"/><circle cx="65" cy="98" r="2.0" opacity="0.57"/><circle cx="74" cy="96" r="1.4" opacity="0.57"/><circle cx="62" cy="55" r="2.3" opacity="0.92"/><circle cx="33" cy="65" r="1.4" opacity="0.20"/><circle cx="44" cy="108" r="2.5" opacity="0.60"/><circle cx="60" cy="55" r="2.0" opacity="0.58"/><circle cx="28" cy="13" r="1.2" opacity="0.92"/><circle cx="63" cy="53" r="1.4" opacity="0.93"/><circle cx="61" cy="84" r="2.5" opacity="0.96"/><circle cx="88" cy="12" r="1.3" opacity="0.22"/><circle cx="58" cy="88" r="2.0" opacity="0.99"/><circle cx="24" cy="10" r="2.0" opacity="1.00"/><circle cx="11" cy="54" r="2.5" opacity="0.13"/><circle cx="3" cy="24" r="2.3" opacity="0.61"/><circle cx="54" cy="94" r="1.2" opacity="0.85"/><circle cx="89" cy="2" r="1.4" opacity="0.45"/><circle cx="51" cy="43" r="1.4" opacity="0.64"/><circle cx="6" cy="53" r="1.1" opacity="0.42"/><circle cx="20" cy="15" r="2.4" opacity="0.42"/><circle cx="72" cy="59" r="2.2" opacity="0.17"/><circle cx="6" cy="77" r="1.1" opacity="0.51"/><circle cx="77" cy="68" r="1.6" opacity="0.19"/><circle cx="46" cy="10" r="1.1" opacity="0.39"/><circle cx="25" cy="82" r="1.6" opacity="0.06"/><circle cx="72" cy="67" r="2.4" opacity="0.23"/><circle cx="9" cy="56" r="1.1" opacity="0.46"/><circle cx="42" cy="110" r="1.9" opacity="0.41"/><circle cx="87" cy="57" r="1.7" opacity="0.82"/><circle cx="5" cy="64" r="1.5" opacity="0.70"/><circle cx="36" cy="23" r="1.1" opacity="0.02"/><circle cx="75" cy="66" r="2.1" opacity="0.39"/><circle cx="1" cy="21" r="2.1" opacity="0.88"/><circle cx="106" cy="98" r="1.0" opacity="0.46"/><circle cx="68" cy="102" r="1.5" opacity="0.77"/><circle cx="9" cy="16" r="1.2" opacity="0.93"/><circle cx="81" cy="47" r="2.4" opacity="0.67"/><circle cx="28" cy="29" r="1.7" opacity="0.63"/><circle cx="25" cy="39" r="2.3" opacity="0.19"/><circle cx="11" cy="39" r="2.4" opacity="0.52"/><circle cx="42" cy="11" r="1.4" opacity="0.32"/><circle cx="40" cy="83" r="1.4" opacity="0.35"/><circle cx="29" cy="98" r="2.1" opacity="0.38"/><circle cx="32" cy="61" r="2.0" opacity="0.61"/><circle cx="51" cy="102" r="1.6" opacity="0.42"/><circle cx="5" cy="75" r="2.3" opacity="0.53"/><circle cx="77" cy="38" r="2.3" opacity="0.23"/><circle cx="8" cy="31" r="2.1" opacity="0.81"/><circle cx="76" cy="70" r="1.9" opacity="0.04"/><circle cx="53" cy="81" r="2.4" opacity="0.40"/><circle cx="71" cy="60" r="1.0" opacity="0.54"/><circle cx="16" cy="68" r="2.4" opacity="0.05"/><circle cx="49" cy="47" r="2.3" opacity="1.00"/><circle cx="65" cy="88" r="1.6" opacity="0.65"/><circle cx="7" cy="22" r="1.2" opacity="0.64"/><circle cx="46" cy="36" r="1.9" opacity="0.77"/><circle cx="68" cy="32" r="2.5" opacity="0.04"/><circle cx="24" cy="85" r="1.3" opacity="0.04"/><circle cx="54" cy="40" r="1.7" opacity="0.82"/><circle cx="65" cy="80" r="2.1" opacity="0.54"/><circle cx="16" cy="34" r="1.1" opacity="0.38"/><circle cx="51" cy="17" r="1.0" opacity="0.03"/><circle cx="75" cy="99" r="1.4" opacity="0.35"/><circle cx="28" cy="53" r="1.5" opacity="0.51"/><circle cx="9" cy="39" r="2.2" opacity="0.73"/><circle cx="80" cy="44" r="2.5" opacity="0.68"/><circle cx="72" cy="15" r="1.1" opacity="0.03"/><circle cx="22" cy="13" r="1.0" opacity="0.62"/><circle cx="55" cy="78" r="1.7" opacity="0.42"/><circle cx="70" cy="38" r="1.3" opacity="0.42"/><circle cx="20" cy="16" r="1.2" opacity="0.32"/><circle cx="79" cy="108" r="2.3" opacity="0.01"/><circle cx="71" cy="64" r="2.6" opacity="0.61"/><circle cx="32" cy="25" r="2.5" opacity="0.55"/><circle cx="69" cy="102" r="2.4" opacity="0.52"/><circle cx="68" cy="95" r="1.9" opacity="0.78" fill="rgb(255,95,55)"/><circle cx="48" cy="38" r="2.6" opacity="0.79"/><circle cx="66" cy="86" r="1.4" opacity="0.87"/><circle cx="69" cy="73" r="1.7" opacity="0.02"/><circle cx="14" cy="36" r="1.8" opacity="0.87"/><circle cx="25" cy="12" r="2.1" opacity="0.67"/><circle cx="0" cy="33" r="2.3" opacity="0.65"/><circle cx="62" cy="31" r="2.6" opacity="0.21"/><circle cx="95" cy="51" r="1.8" opacity="0.31"/><circle cx="55" cy="105" r="1.8" opacity="0.48"/><circle cx="49" cy="77" r="1.5" opacity="0.24"/><circle cx="70" cy="51" r="1.6" opacity="0.19"/><circle cx="7" cy="15" r="1.5" opacity="0.92"/><circle cx="13" cy="59" r="1.7" opacity="0.11"/><circle cx="47" cy="47" r="2.1" opacity="0.97"/><circle cx="47" cy="46" r="2.2" opacity="0.64"/><circle cx="81" cy="77" r="2.6" opacity="0.04"/><circle cx="79" cy="78" r="2.6" opacity="0.06"/><circle cx="43" cy="91" r="1.3" opacity="0.82"/><circle cx="80" cy="16" r="1.5" opacity="0.04"/><circle cx="5" cy="73" r="1.3" opacity="0.46"/><circle cx="46" cy="37" r="1.0" opacity="0.66"/><circle cx="61" cy="95" r="1.7" opacity="0.92"/><circle cx="46" cy="5" r="1.4" opacity="0.70"/><circle cx="49" cy="67" r="2.1" opacity="0.06"/><circle cx="81" cy="97" r="2.4" opacity="0.03"/><circle cx="6" cy="36" r="1.3" opacity="0.71"/><circle cx="97" cy="68" r="1.7" opacity="0.13"/><circle cx="80" cy="55" r="2.3" opacity="0.16"/><circle cx="30" cy="28" r="1.2" opacity="0.68"/><circle cx="34" cy="99" r="1.3" opacity="0.55"/><circle cx="60" cy="82" r="2.4" opacity="0.77"/><circle cx="109" cy="79" r="1.4" opacity="0.01"/><circle cx="94" cy="46" r="2.1" opacity="0.11"/><circle cx="43" cy="22" r="1.7" opacity="0.57"/><circle cx="7" cy="11" r="1.6" opacity="0.82"/><circle cx="35" cy="1" r="1.4" opacity="0.01"/><circle cx="22" cy="10" r="2.1" opacity="0.70"/><circle cx="96" cy="4" r="2.0" opacity="0.46"/><circle cx="0" cy="79" r="1.4" opacity="0.16"/><circle cx="103" cy="71" r="2.2" opacity="0.07"/><circle cx="3" cy="55" r="1.2" opacity="0.24"/><circle cx="45" cy="79" r="1.1" opacity="0.42"/><circle cx="84" cy="63" r="1.5" opacity="0.41"/><circle cx="42" cy="3" r="1.5" opacity="0.45"/><circle cx="43" cy="7" r="1.1" opacity="0.47"/><circle cx="28" cy="9" r="2.1" opacity="0.56"/><circle cx="42" cy="7" r="1.3" opacity="0.54"/><circle cx="51" cy="49" r="1.4" opacity="0.84"/><circle cx="65" cy="59" r="1.4" opacity="0.54"/><circle cx="78" cy="101" r="1.6" opacity="0.02"/><circle cx="68" cy="58" r="2.2" opacity="0.91"/><circle cx="80" cy="49" r="1.4" opacity="0.60"/><circle cx="50" cy="110" r="1.8" opacity="0.31"/><circle cx="89" cy="32" r="2.1" opacity="0.02"/><circle cx="54" cy="8" r="1.4" opacity="0.44"/><circle cx="33" cy="2" r="1.7" opacity="0.02"/><circle cx="67" cy="87" r="1.1" opacity="0.98"/><circle cx="31" cy="39" r="2.2" opacity="0.40"/><circle cx="87" cy="61" r="1.5" opacity="0.35"/><circle cx="96" cy="80" r="1.7" opacity="0.04"/><circle cx="89" cy="59" r="2.1" opacity="0.69"/><circle cx="14" cy="38" r="1.0" opacity="0.76" fill="rgb(255,95,55)"/><circle cx="94" cy="65" r="2.5" opacity="0.15"/><circle cx="85" cy="78" r="2.6" opacity="0.04"/><circle cx="68" cy="85" r="2.2" opacity="0.80"/><circle cx="62" cy="88" r="1.0" opacity="0.61"/><circle cx="8" cy="67" r="2.0" opacity="0.47"/><circle cx="41" cy="45" r="1.4" opacity="0.71"/><circle cx="36" cy="107" r="1.7" opacity="0.56"/><circle cx="41" cy="10" r="1.5" opacity="0.64"/><circle cx="62" cy="52" r="2.5" opacity="0.92"/><circle cx="42" cy="45" r="2.3" opacity="0.87"/><circle cx="4" cy="17" r="1.7" opacity="0.66"/><circle cx="68" cy="35" r="2.3" opacity="0.08"/><circle cx="45" cy="9" r="1.4" opacity="0.46"/><circle cx="46" cy="109" r="1.8" opacity="0.42"/><circle cx="43" cy="17" r="1.3" opacity="0.03"/><circle cx="23" cy="36" r="2.4" opacity="0.56"/><circle cx="92" cy="80" r="1.2" opacity="0.03"/><circle cx="0" cy="65" r="1.2" opacity="0.48"/><circle cx="23" cy="31" r="1.7" opacity="0.19"/><circle cx="60" cy="89" r="1.5" opacity="1.00" fill="rgb(255,95,55)"/><circle cx="77" cy="28" r="1.9" opacity="0.07"/><circle cx="98" cy="47" r="1.7" opacity="0.12"/><circle cx="38" cy="85" r="1.5" opacity="0.60"/><circle cx="83" cy="79" r="2.4" opacity="0.06"/><circle cx="60" cy="94" r="1.1" opacity="0.74"/><circle cx="78" cy="66" r="1.7" opacity="0.30"/><circle cx="31" cy="60" r="2.2" opacity="0.66"/><circle cx="78" cy="66" r="2.1" opacity="0.33"/><circle cx="29" cy="55" r="1.8" opacity="0.58"/><circle cx="79" cy="47" r="2.1" opacity="0.60"/><circle cx="65" cy="71" r="2.4" opacity="0.03"/><circle cx="11" cy="62" r="2.5" opacity="0.44"/><circle cx="110" cy="110" r="1.9" opacity="0.34"/><circle cx="8" cy="10" r="1.2" opacity="0.83"/><circle cx="49" cy="41" r="1.2" opacity="0.89"/><circle cx="9" cy="95" r="1.6" opacity="0.01"/><circle cx="6" cy="57" r="1.1" opacity="0.31"/><circle cx="40" cy="43" r="1.3" opacity="0.86"/><circle cx="1" cy="27" r="1.5" opacity="1.00"/><circle cx="105" cy="57" r="1.5" opacity="0.11"/><circle cx="2" cy="22" r="2.0" opacity="0.59"/><circle cx="68" cy="50" r="2.6" opacity="0.80"/><circle cx="56" cy="89" r="1.6" opacity="1.00"/><circle cx="25" cy="58" r="2.4" opacity="0.23"/><circle cx="87" cy="45" r="2.3" opacity="0.37"/><circle cx="41" cy="26" r="2.4" opacity="0.62"/><circle cx="37" cy="78" r="2.3" opacity="0.05"/><circle cx="106" cy="100" r="1.8" opacity="0.57"/><circle cx="68" cy="65" r="2.4" opacity="0.46"/><circle cx="39" cy="65" r="2.6" opacity="0.27"/><circle cx="26" cy="58" r="1.6" opacity="0.46"/><circle cx="24" cy="6" r="1.8" opacity="0.62"/><circle cx="81" cy="28" r="2.3" opacity="0.05"/><circle cx="44" cy="53" r="1.2" opacity="0.71"/><circle cx="69" cy="38" r="1.2" opacity="0.44"/><circle cx="59" cy="95" r="2.0" opacity="0.91"/><circle cx="85" cy="26" r="2.5" opacity="0.04"/><circle cx="48" cy="77" r="2.1" opacity="0.33"/><circle cx="50" cy="59" r="1.8" opacity="0.72"/><circle cx="13" cy="55" r="2.6" opacity="0.05"/><circle cx="103" cy="42" r="2.4" opacity="0.04"/><circle cx="70" cy="60" r="1.3" opacity="0.82"/><circle cx="60" cy="92" r="1.4" opacity="1.00"/><circle cx="55" cy="25" r="1.8" opacity="0.38"/><circle cx="29" cy="45" r="2.6" opacity="0.25"/><circle cx="50" cy="90" r="2.1" opacity="0.05"/><circle cx="107" cy="65" r="1.9" opacity="0.06"/><circle cx="32" cy="72" r="1.0" opacity="0.03"/><circle cx="33" cy="58" r="2.0" opacity="0.53"/><circle cx="49" cy="106" r="1.2" opacity="0.87"/><circle cx="63" cy="76" r="1.3" opacity="0.35"/><circle cx="19" cy="80" r="1.2" opacity="0.05"/><circle cx="63" cy="91" r="1.1" opacity="0.77"/><circle cx="40" cy="106" r="1.5" opacity="0.75"/><circle cx="81" cy="69" r="1.7" opacity="0.04"/><circle cx="55" cy="36" r="1.9" opacity="0.76"/><circle cx="67" cy="94" r="1.9" opacity="0.94" fill="rgb(255,95,55)"/><circle cx="4" cy="20" r="1.4" opacity="1.00"/><circle cx="42" cy="32" r="1.4" opacity="0.41"/><circle cx="32" cy="61" r="1.8" opacity="0.47"/><circle cx="50" cy="45" r="2.4" opacity="0.70"/><circle cx="8" cy="80" r="1.2" fill="#000" opacity="0.38"/><circle cx="85" cy="11" r="1.1" fill="#000" opacity="0.40"/><circle cx="107" cy="100" r="1.2" fill="#000" opacity="0.44"/><circle cx="55" cy="33" r="1.7" fill="#000" opacity="0.38"/><circle cx="5" cy="81" r="1.7" fill="#000" opacity="0.57"/><circle cx="62" cy="78" r="1.1" fill="#000" opacity="0.61"/><circle cx="6" cy="58" r="1.1" fill="#000" opacity="0.67"/><circle cx="92" cy="7" r="1.8" fill="#000" opacity="0.74"/><circle cx="43" cy="63" r="1.5" fill="#000" opacity="0.41"/><circle cx="56" cy="89" r="0.9" fill="#000" opacity="0.73"/><circle cx="45" cy="93" r="1.2" fill="#000" opacity="0.67"/><circle cx="36" cy="7" r="1.3" fill="#000" opacity="0.47"/><circle cx="3" cy="75" r="1.2" fill="#000" opacity="0.51"/><circle cx="49" cy="50" r="1.2" fill="#000" opacity="0.71"/><circle cx="39" cy="82" r="1.6" fill="#000" opacity="0.71"/><circle cx="50" cy="104" r="1.1" fill="#000" opacity="0.36"/><circle cx="52" cy="23" r="1.0" fill="#000" opacity="0.56"/><circle cx="46" cy="105" r="1.3" fill="#000" opacity="0.40"/><circle cx="2" cy="76" r="1.8" fill="#000" opacity="0.40"/><circle cx="58" cy="82" r="1.3" fill="#000" opacity="0.42"/><circle cx="63" cy="109" r="1.0" fill="#000" opacity="0.68"/><circle cx="13" cy="12" r="1.6" fill="#000" opacity="0.59"/><circle cx="18" cy="39" r="1.1" fill="#000" opacity="0.61"/><circle cx="43" cy="39" r="1.7" fill="#000" opacity="0.47"/><circle cx="54" cy="111" r="1.8" fill="#000" opacity="0.47"/><circle cx="84" cy="62" r="1.0" fill="#000" opacity="0.61"/><circle cx="76" cy="8" r="1.1" fill="#000" opacity="0.74"/><circle cx="28" cy="32" r="1.2" fill="#000" opacity="0.70"/><circle cx="55" cy="103" r="1.1" fill="#000" opacity="0.58"/><circle cx="58" cy="82" r="1.2" fill="#000" opacity="0.74"/><circle cx="10" cy="63" r="1.0" fill="#000" opacity="0.72"/><circle cx="73" cy="79" r="1.2" fill="#000" opacity="0.73"/><circle cx="55" cy="57" r="1.5" fill="#000" opacity="0.58"/><circle cx="41" cy="84" r="1.4" fill="#000" opacity="0.49"/><circle cx="55" cy="86" r="1.0" fill="#000" opacity="0.59"/><circle cx="34" cy="53" r="1.0" fill="#000" opacity="0.65"/><circle cx="27" cy="25" r="1.4" fill="#000" opacity="0.38"/><circle cx="36" cy="104" r="1.3" fill="#000" opacity="0.73"/><circle cx="93" cy="3" r="1.1" fill="#000" opacity="0.61"/><circle cx="31" cy="108" r="1.7" fill="#000" opacity="0.71"/><circle cx="41" cy="28" r="1.1" fill="#000" opacity="0.53"/><circle cx="5" cy="22" r="1.5" fill="#000" opacity="0.67"/><circle cx="36" cy="86" r="1.5" fill="#000" opacity="0.56"/><circle cx="19" cy="7" r="1.1" fill="#000" opacity="0.39"/><circle cx="97" cy="5" r="1.6" fill="#000" opacity="0.73"/><circle cx="106" cy="107" r="1.4" fill="#000" opacity="0.67"/><circle cx="55" cy="59" r="1.0" fill="#000" opacity="0.41"/><circle cx="92" cy="58" r="1.7" fill="#000" opacity="0.70"/><circle cx="47" cy="63" r="1.6" fill="#000" opacity="0.48"/><circle cx="22" cy="8" r="1.7" fill="#000" opacity="0.61"/><circle cx="65" cy="82" r="1.3" fill="#000" opacity="0.71"/><circle cx="11" cy="57" r="1.2" fill="#000" opacity="0.64"/><circle cx="65" cy="66" r="1.2" fill="#000" opacity="0.59"/><circle cx="56" cy="105" r="1.3" fill="#000" opacity="0.36"/><circle cx="46" cy="49" r="1.7" fill="#000" opacity="0.62"/><circle cx="24" cy="33" r="1.0" fill="#000" opacity="0.48"/><circle cx="34" cy="51" r="1.6" fill="#000" opacity="0.67"/><circle cx="92" cy="51" r="1.7" fill="#000" opacity="0.57"/><circle cx="8" cy="73" r="1.1" fill="#000" opacity="0.47"/><circle cx="79" cy="45" r="1.5" fill="#000" opacity="0.65"/><circle cx="44" cy="110" r="1.5" fill="#000" opacity="0.49"/><circle cx="40" cy="91" r="1.7" fill="#000" opacity="0.48"/><circle cx="65" cy="102" r="0.9" fill="#000" opacity="0.74"/><circle cx="57" cy="61" r="1.2" fill="#000" opacity="0.40"/><circle cx="76" cy="39" r="1.4" fill="#000" opacity="0.38"/><circle cx="48" cy="2" r="1.1" fill="#000" opacity="0.70"/><circle cx="86" cy="2" r="0.9" fill="#000" opacity="0.74"/><circle cx="63" cy="93" r="1.7" fill="#000" opacity="0.51"/><circle cx="39" cy="82" r="1.0" fill="#000" opacity="0.67"/><circle cx="84" cy="5" r="0.9" fill="#000" opacity="0.71"/><circle cx="91" cy="2" r="1.7" fill="#000" opacity="0.73"/><circle cx="8" cy="73" r="1.5" fill="#000" opacity="0.70"/><circle cx="55" cy="109" r="1.3" fill="#000" opacity="0.38"/><circle cx="41" cy="34" r="1.3" fill="#000" opacity="0.65"/><circle cx="35" cy="42" r="0.9" fill="#000" opacity="0.75"/><circle cx="59" cy="49" r="1.7" fill="#000" opacity="0.48"/><circle cx="59" cy="26" r="1.4" fill="#000" opacity="0.52"/><circle cx="70" cy="91" r="1.1" fill="#000" opacity="0.53"/><circle cx="59" cy="109" r="1.6" fill="#000" opacity="0.38"/><circle cx="52" cy="64" r="1.6" fill="#000" opacity="0.49"/><circle cx="105" cy="96" r="1.7" fill="#000" opacity="0.73"/><circle cx="6" cy="57" r="1.1" fill="#000" opacity="0.63"/><circle cx="7" cy="32" r="1.7" fill="#000" opacity="0.75"/><circle cx="88" cy="11" r="1.5" fill="#000" opacity="0.49"/><circle cx="66" cy="99" r="1.7" fill="#000" opacity="0.45"/><circle cx="27" cy="20" r="1.8" fill="#000" opacity="0.40"/><circle cx="28" cy="55" r="1.3" fill="#000" opacity="0.47"/><circle cx="77" cy="100" r="1.7" fill="#000" opacity="0.35"/><circle cx="49" cy="23" r="1.4" fill="#000" opacity="0.71"/><circle cx="54" cy="44" r="1.1" fill="#000" opacity="0.52"/><circle cx="39" cy="3" r="1.1" fill="#000" opacity="0.62"/><circle cx="54" cy="58" r="1.8" fill="#000" opacity="0.43"/><circle cx="76" cy="42" r="1.6" fill="#000" opacity="0.75"/><circle cx="36" cy="106" r="1.4" fill="#000" opacity="0.46"/><circle cx="43" cy="37" r="1.0" fill="#000" opacity="0.62"/><circle cx="24" cy="11" r="1.4" fill="#000" opacity="0.61"/><circle cx="69" cy="81" r="1.5" fill="#000" opacity="0.69"/><circle cx="53" cy="100" r="1.6" fill="#000" opacity="0.67"/><circle cx="53" cy="101" r="1.7" fill="#000" opacity="0.68"/><circle cx="69" cy="38" r="1.1" fill="#000" opacity="0.59"/><circle cx="13" cy="16" r="1.4" fill="#000" opacity="0.51"/><circle cx="35" cy="86" r="0.9" fill="#000" opacity="0.36"/><circle cx="38" cy="51" r="1.7" fill="#000" opacity="0.36"/><circle cx="75" cy="42" r="1.7" fill="#000" opacity="0.39"/><circle cx="94" cy="2" r="1.4" fill="#000" opacity="0.39"/><circle cx="37" cy="58" r="1.3" fill="#000" opacity="0.60"/><circle cx="33" cy="99" r="1.7" fill="#000" opacity="0.52"/><circle cx="77" cy="44" r="0.9" fill="#000" opacity="0.47"/><circle cx="43" cy="40" r="1.2" fill="#000" opacity="0.43"/><circle cx="41" cy="47" r="1.4" fill="#000" opacity="0.49"/><circle cx="74" cy="91" r="1.3" fill="#000" opacity="0.44"/><circle cx="107" cy="95" r="1.1" fill="#000" opacity="0.41"/><circle cx="77" cy="92" r="1.7" fill="#000" opacity="0.51"/><circle cx="47" cy="59" r="1.0" fill="#000" opacity="0.57"/><circle cx="57" cy="38" r="1.4" fill="#000" opacity="0.48"/><circle cx="39" cy="53" r="1.3" fill="#000" opacity="0.56"/><circle cx="39" cy="55" r="1.4" fill="#000" opacity="0.37"/><circle cx="38" cy="103" r="1.6" fill="#000" opacity="0.66"/><circle cx="46" cy="7" r="1.2" fill="#000" opacity="0.57"/><circle cx="33" cy="13" r="1.0" fill="#000" opacity="0.64"/><circle cx="62" cy="87" r="1.4" fill="#000" opacity="0.56"/><circle cx="43" cy="44" r="1.7" fill="#000" opacity="0.51"/><circle cx="29" cy="62" r="1.1" fill="#000" opacity="0.42"/><circle cx="71" cy="101" r="1.2" fill="#000" opacity="0.49"/><circle cx="71" cy="100" r="1.4" fill="#000" opacity="0.67"/><circle cx="41" cy="2" r="1.4" fill="#000" opacity="0.60"/><circle cx="33" cy="43" r="1.5" fill="#000" opacity="0.57"/><circle cx="60" cy="24" r="1.4" fill="#000" opacity="0.62"/><circle cx="4" cy="58" r="1.1" fill="#000" opacity="0.63"/><circle cx="39" cy="107" r="1.1" fill="#000" opacity="0.44"/><circle cx="36" cy="37" r="0.9" fill="#000" opacity="0.49"/><circle cx="69" cy="62" r="1.3" fill="#000" opacity="0.62"/><circle cx="31" cy="50" r="1.7" fill="#000" opacity="0.62"/><circle cx="40" cy="10" r="1.0" fill="#000" opacity="0.60"/><circle cx="11" cy="55" r="1.4" fill="#000" opacity="0.65"/><circle cx="77" cy="94" r="1.2" fill="#000" opacity="0.55"/><circle cx="1" cy="69" r="1.4" fill="#000" opacity="0.69"/><circle cx="97" cy="8" r="1.3" fill="#000" opacity="0.35"/><circle cx="73" cy="99" r="1.7" fill="#000" opacity="0.48"/><circle cx="61" cy="52" r="1.7" fill="#000" opacity="0.39"/><circle cx="43" cy="9" r="1.1" fill="#000" opacity="0.38"/><circle cx="21" cy="18" r="1.7" fill="#000" opacity="0.52"/><circle cx="73" cy="91" r="1.1" fill="#000" opacity="0.44"/><circle cx="57" cy="24" r="1.4" fill="#000" opacity="0.42"/><circle cx="45" cy="60" r="1.4" fill="#000" opacity="0.74"/><circle cx="80" cy="6" r="1.6" fill="#000" opacity="0.36"/><circle cx="43" cy="8" r="1.3" fill="#000" opacity="0.63"/><circle cx="73" cy="98" r="1.8" fill="#000" opacity="0.46"/><circle cx="9" cy="76" r="1.5" fill="#000" opacity="0.39"/><circle cx="78" cy="90" r="1.6" fill="#000" opacity="0.51"/><circle cx="32" cy="51" r="1.8" fill="#000" opacity="0.45"/><circle cx="92" cy="56" r="0.9" fill="#000" opacity="0.75"/><circle cx="2" cy="16" r="1.2" fill="#000" opacity="0.44"/><circle cx="104" cy="103" r="1.6" fill="#000" opacity="0.36"/><circle cx="30" cy="13" r="1.2" fill="#000" opacity="0.74"/><circle cx="1" cy="78" r="1.6" fill="#000" opacity="0.59"/><circle cx="11" cy="39" r="1.3" fill="#000" opacity="0.67"/><circle cx="34" cy="42" r="1.5" fill="#000" opacity="0.45"/><circle cx="73" cy="38" r="1.1" fill="#000" opacity="0.56"/><circle cx="48" cy="111" r="1.2" fill="#000" opacity="0.69"/><circle cx="27" cy="37" r="1.6" fill="#000" opacity="0.64"/><circle cx="2" cy="29" r="1.1" fill="#000" opacity="0.40"/><circle cx="34" cy="42" r="1.3" fill="#000" opacity="0.66"/><circle cx="3" cy="54" r="1.7" fill="#000" opacity="0.47"/><circle cx="39" cy="61" r="1.7" fill="#000" opacity="0.65"/><circle cx="85" cy="43" r="1.7" fill="#000" opacity="0.40"/><circle cx="52" cy="56" r="1.7" fill="#000" opacity="0.54"/><circle cx="75" cy="82" r="0.9" fill="#000" opacity="0.45"/><circle cx="92" cy="55" r="1.0" fill="#000" opacity="0.58"/><circle cx="43" cy="89" r="1.4" fill="#000" opacity="0.61"/><circle cx="50" cy="11" r="1.7" fill="#000" opacity="0.71"/></g><filter id="rhB0" x="-50%" y="-50%" width="200%" height="200%"><feGaussianBlur stdDeviation="1.8"/></filter><g filter="url(#rhB0)" fill="#000"><ellipse cx="16.3" cy="26.6" rx="10" ry="6.5" transform="rotate(48 16.3 26.6)" fill="#000"/><ellipse cx="50.3" cy="29.6" rx="6.5" ry="7" transform="rotate(0 50.3 29.6)" fill="#000"/><ellipse cx="63.6" cy="43.6" rx="6.5" ry="8" transform="rotate(0 63.6 43.6)" fill="#000"/><ellipse cx="74.7" cy="53.3" rx="6" ry="8" transform="rotate(0 74.7 53.3)" fill="#000"/><ellipse cx="48" cy="85.8" rx="7.5" ry="6" transform="rotate(0 48 85.8)" fill="#000"/><ellipse cx="47.3" cy="97.6" rx="8" ry="6" transform="rotate(0 47.3 97.6)" fill="#000"/></g></g><filter id="rfB1" filterUnits="userSpaceOnUse" x="0" y="0" width="113" height="111" color-interpolation-filters="sRGB"><feGaussianBlur stdDeviation="0.8"/></filter><filter id="rbB1" filterUnits="userSpaceOnUse" x="0" y="0" width="113" height="111"><feGaussianBlur stdDeviation="3"/></filter><g id="redB1"><rect width="113" height="111" fill="#000"/><g filter="url(#rbB1)" fill="rgb(215,22,22)"><rect x="39" y="9" width="6" height="6" opacity="0.05"/><rect x="45" y="9" width="6" height="6" opacity="0.13"/><rect x="51" y="9" width="6" height="6" opacity="0.16"/><rect x="57" y="9" width="6" height="6" opacity="0.17"/><rect x="63" y="9" width="6" height="6" opacity="0.16"/><rect x="69" y="9" width="6" height="6" opacity="0.11"/><rect x="69" y="15" width="6" height="6" opacity="0.05"/><rect x="75" y="15" width="6" height="6" opacity="0.07"/><rect x="9" y="21" width="6" height="6" opacity="0.07"/><rect x="15" y="21" width="6" height="6" opacity="0.08"/><rect x="21" y="21" width="6" height="6" opacity="0.07"/><rect x="27" y="21" width="6" height="6" opacity="0.05"/><rect x="3" y="27" width="6" height="6" opacity="0.06"/><rect x="9" y="27" width="6" height="6" opacity="0.09"/><rect x="15" y="27" width="6" height="6" opacity="0.10"/><rect x="21" y="27" width="6" height="6" opacity="0.10"/><rect x="27" y="27" width="6" height="6" opacity="0.09"/><rect x="33" y="27" width="6" height="6" opacity="0.06"/><rect x="9" y="33" width="6" height="6" opacity="0.09"/><rect x="15" y="33" width="6" height="6" opacity="0.10"/><rect x="21" y="33" width="6" height="6" opacity="0.10"/><rect x="27" y="33" width="6" height="6" opacity="0.09"/><rect x="33" y="33" width="6" height="6" opacity="0.07"/><rect x="15" y="39" width="6" height="6" opacity="0.07"/><rect x="21" y="39" width="6" height="6" opacity="0.08"/><rect x="27" y="39" width="6" height="6" opacity="0.07"/><rect x="45" y="45" width="6" height="6" opacity="0.12"/><rect x="69" y="45" width="6" height="6" opacity="0.16"/><rect x="75" y="45" width="6" height="6" opacity="0.21"/><rect x="81" y="45" width="6" height="6" opacity="0.24"/><rect x="87" y="45" width="6" height="6" opacity="0.24"/><rect x="93" y="45" width="6" height="6" opacity="0.23"/><rect x="99" y="45" width="6" height="6" opacity="0.20"/><rect x="105" y="45" width="6" height="6" opacity="0.14"/><rect x="39" y="51" width="6" height="6" opacity="0.13"/><rect x="45" y="51" width="6" height="6" opacity="0.21"/><rect x="-3" y="57" width="6" height="6" opacity="0.06"/><rect x="69" y="57" width="6" height="6" opacity="0.16"/><rect x="75" y="57" width="6" height="6" opacity="0.16"/><rect x="105" y="57" width="6" height="6" opacity="0.08"/><rect x="-3" y="63" width="6" height="6" opacity="0.07"/><rect x="21" y="63" width="6" height="6" opacity="0.09"/><rect x="27" y="63" width="6" height="6" opacity="0.19"/><rect x="33" y="63" width="6" height="6" opacity="0.19"/><rect x="39" y="63" width="6" height="6" opacity="0.12"/><rect x="57" y="63" width="6" height="6" opacity="0.14"/><rect x="63" y="63" width="6" height="6" opacity="0.22"/><rect x="69" y="63" width="6" height="6" opacity="0.26"/><rect x="75" y="63" width="6" height="6" opacity="0.27"/><rect x="81" y="63" width="6" height="6" opacity="0.27"/><rect x="87" y="63" width="6" height="6" opacity="0.25"/><rect x="93" y="63" width="6" height="6" opacity="0.20"/><rect x="99" y="63" width="6" height="6" opacity="0.12"/><rect x="-3" y="69" width="6" height="6" opacity="0.06"/><rect x="15" y="69" width="6" height="6" opacity="0.23"/><rect x="21" y="69" width="6" height="6" opacity="0.30"/><rect x="27" y="69" width="6" height="6" opacity="0.30"/><rect x="33" y="69" width="6" height="6" opacity="0.23"/><rect x="39" y="75" width="6" height="6" opacity="0.26"/><rect x="45" y="75" width="6" height="6" opacity="0.21"/><rect x="39" y="81" width="6" height="6" opacity="0.11"/><rect x="99" y="81" width="6" height="6" opacity="0.09"/><rect x="93" y="87" width="6" height="6" opacity="0.21"/><rect x="99" y="87" width="6" height="6" opacity="0.36"/><rect x="105" y="87" width="6" height="6" opacity="0.35"/><rect x="111" y="87" width="6" height="6" opacity="0.16"/><rect x="93" y="93" width="6" height="6" opacity="0.16"/><rect x="99" y="93" width="6" height="6" opacity="0.35"/><rect x="105" y="93" width="6" height="6" opacity="0.33"/><rect x="111" y="93" width="6" height="6" opacity="0.08"/></g><g filter="url(#rfB1)" fill="rgb(215,22,22)"><circle cx="78" cy="16" r="1.9" opacity="0.12"/><circle cx="106" cy="59" r="1.1" opacity="0.06"/><circle cx="103" cy="90" r="1.5" opacity="0.80"/><circle cx="46" cy="51" r="2.4" opacity="0.39"/><circle cx="104" cy="61" r="2.2" opacity="0.08"/><circle cx="99" cy="94" r="1.4" opacity="0.40"/><circle cx="15" cy="77" r="1.5" opacity="0.02"/><circle cx="35" cy="17" r="2.3" opacity="0.01"/><circle cx="82" cy="99" r="1.3" opacity="0.01"/><circle cx="83" cy="17" r="1.3" opacity="0.05"/><circle cx="32" cy="73" r="2.4" opacity="0.58"/><circle cx="75" cy="6" r="1.3" opacity="0.01"/><circle cx="54" cy="73" r="1.5" opacity="0.03"/><circle cx="39" cy="75" r="2.0" opacity="0.34"/><circle cx="77" cy="92" r="1.2" opacity="0.01"/><circle cx="105" cy="51" r="2.6" opacity="0.13"/><circle cx="36" cy="66" r="1.8" opacity="0.42"/><circle cx="61" cy="8" r="1.7" opacity="0.14"/><circle cx="59" cy="42" r="1.7" opacity="0.04"/><circle cx="23" cy="39" r="2.0" opacity="0.12"/><circle cx="48" cy="79" r="1.5" opacity="0.45"/><circle cx="35" cy="91" r="1.3" opacity="0.02"/><circle cx="77" cy="50" r="1.8" opacity="0.27"/><circle cx="33" cy="11" r="1.3" opacity="0.01"/><circle cx="51" cy="80" r="1.5" opacity="0.03"/><circle cx="23" cy="28" r="2.4" opacity="0.14"/><circle cx="51" cy="48" r="1.5" opacity="0.04"/><circle cx="76" cy="52" r="1.7" opacity="0.14"/><circle cx="35" cy="25" r="1.1" opacity="0.02"/><circle cx="31" cy="29" r="1.2" opacity="0.15"/><circle cx="38" cy="34" r="2.6" opacity="0.06"/><circle cx="110" cy="62" r="2.3" opacity="0.09"/><circle cx="48" cy="81" r="1.9" opacity="0.33"/><circle cx="72" cy="14" r="2.0" opacity="0.22"/><circle cx="72" cy="50" r="2.2" opacity="0.29"/><circle cx="99" cy="24" r="1.9" opacity="0.01"/><circle cx="20" cy="66" r="1.1" opacity="0.02"/><circle cx="28" cy="75" r="2.4" opacity="0.12"/><circle cx="46" cy="47" r="2.1" opacity="0.17"/><circle cx="80" cy="63" r="2.1" opacity="0.52"/><circle cx="12" cy="19" r="2.2" opacity="0.01"/><circle cx="34" cy="88" r="1.3" opacity="0.03"/><circle cx="101" cy="50" r="2.1" opacity="0.23"/><circle cx="109" cy="92" r="1.3" opacity="0.48"/><circle cx="59" cy="91" r="1.2" opacity="0.03"/><circle cx="53" cy="37" r="2.2" opacity="0.04"/><circle cx="102" cy="36" r="1.0" opacity="0.01"/><circle cx="10" cy="42" r="1.6" opacity="0.01"/><circle cx="17" cy="92" r="1.4" opacity="0.01"/><circle cx="69" cy="50" r="2.5" opacity="0.16"/><circle cx="88" cy="75" r="1.6" opacity="0.02"/><circle cx="47" cy="110" r="2.3" opacity="0.01"/><circle cx="16" cy="94" r="2.1" opacity="0.01"/><circle cx="77" cy="58" r="1.1" opacity="0.19"/><circle cx="26" cy="52" r="1.8" opacity="0.02"/><circle cx="85" cy="42" r="1.5" opacity="0.03"/><circle cx="95" cy="19" r="1.0" opacity="0.01"/><circle cx="31" cy="94" r="2.4" opacity="0.02"/><circle cx="80" cy="12" r="2.2" opacity="0.02"/><circle cx="28" cy="76" r="2.1" opacity="0.03"/><circle cx="70" cy="94" r="1.1" opacity="0.03"/><circle cx="86" cy="66" r="1.1" opacity="0.47"/><circle cx="21" cy="71" r="2.0" opacity="0.60"/><circle cx="38" cy="78" r="1.1" opacity="0.32"/><circle cx="89" cy="47" r="1.6" opacity="0.33"/><circle cx="67" cy="61" r="2.1" opacity="0.19"/><circle cx="107" cy="63" r="2.3" opacity="0.17"/><circle cx="27" cy="69" r="2.1" opacity="0.57"/><circle cx="71" cy="48" r="2.4" opacity="0.25"/><circle cx="24" cy="66" r="1.7" opacity="0.17"/><circle cx="52" cy="12" r="1.6" opacity="0.21"/><circle cx="108" cy="88" r="1.1" opacity="0.33"/><circle cx="46" cy="95" r="1.8" opacity="0.02"/><circle cx="72" cy="38" r="2.1" opacity="0.02"/><circle cx="39" cy="38" r="1.0" opacity="0.06"/><circle cx="31" cy="71" r="2.4" opacity="0.40"/><circle cx="108" cy="89" r="1.0" opacity="0.50"/><circle cx="64" cy="49" r="1.8" opacity="0.04"/><circle cx="29" cy="84" r="2.4" opacity="0.02"/><circle cx="87" cy="46" r="2.2" opacity="0.31"/><circle cx="16" cy="69" r="2.5" opacity="0.16"/><circle cx="47" cy="89" r="1.5" opacity="0.18"/><circle cx="13" cy="29" r="1.5" opacity="0.12"/><circle cx="50" cy="72" r="2.5" opacity="0.02"/><circle cx="27" cy="39" r="2.1" opacity="0.19"/><circle cx="4" cy="52" r="1.6" opacity="0.14"/><circle cx="60" cy="23" r="1.9" opacity="0.03"/><circle cx="73" cy="2" r="1.1" opacity="0.01"/><circle cx="34" cy="73" r="1.6" opacity="0.27"/><circle cx="18" cy="73" r="1.3" opacity="0.27"/><circle cx="52" cy="39" r="1.4" opacity="0.03"/><circle cx="51" cy="87" r="1.7" opacity="0.02"/><circle cx="31" cy="10" r="1.6" opacity="0.01"/><circle cx="60" cy="28" r="2.2" opacity="0.03"/><circle cx="31" cy="39" r="1.1" opacity="0.12"/><circle cx="19" cy="71" r="2.2" opacity="0.47"/><circle cx="98" cy="92" r="1.2" opacity="0.50"/><circle cx="98" cy="65" r="2.1" opacity="0.29"/><circle cx="32" cy="102" r="1.5" opacity="0.01"/><circle cx="110" cy="50" r="1.2" opacity="0.19"/><circle cx="104" cy="46" r="2.4" opacity="0.17"/><circle cx="42" cy="63" r="1.4" opacity="0.02"/><circle cx="87" cy="23" r="1.6" opacity="0.02"/><circle cx="69" cy="34" r="2.5" opacity="0.03"/><circle cx="61" cy="68" r="2.5" opacity="0.24"/><circle cx="25" cy="36" r="2.0" opacity="0.13"/><circle cx="84" cy="62" r="2.0" opacity="0.03"/><circle cx="31" cy="57" r="1.1" opacity="0.03"/><circle cx="51" cy="16" r="2.5" opacity="0.04"/><circle cx="94" cy="37" r="1.3" opacity="0.02"/><circle cx="9" cy="23" r="1.4" opacity="0.05"/><circle cx="91" cy="48" r="1.6" opacity="0.42"/><circle cx="87" cy="44" r="1.0" opacity="0.05"/><circle cx="35" cy="69" r="1.1" opacity="0.62"/><circle cx="29" cy="20" r="2.5" opacity="0.02"/><circle cx="61" cy="98" r="2.3" opacity="0.02"/><circle cx="39" cy="33" r="2.6" opacity="0.08"/><circle cx="80" cy="63" r="2.5" opacity="0.35"/><circle cx="111" cy="87" r="1.8" opacity="0.41"/><circle cx="53" cy="20" r="2.2" opacity="0.03"/><circle cx="68" cy="78" r="2.1" opacity="0.04"/><circle cx="6" cy="36" r="1.7" opacity="0.05"/><circle cx="39" cy="43" r="1.1" opacity="0.02"/><circle cx="41" cy="24" r="1.8" opacity="0.02"/><circle cx="52" cy="104" r="1.9" opacity="0.02"/><circle cx="50" cy="24" r="1.8" opacity="0.03"/><circle cx="69" cy="100" r="1.7" opacity="0.02"/><circle cx="12" cy="53" r="1.6" opacity="0.02"/><circle cx="105" cy="96" r="2.3" opacity="0.56"/><circle cx="45" cy="78" r="2.3" opacity="0.58"/><circle cx="106" cy="41" r="1.5" opacity="0.01"/><circle cx="16" cy="95" r="1.4" opacity="0.01"/><circle cx="48" cy="54" r="1.8" opacity="0.31"/><circle cx="87" cy="22" r="2.6" opacity="0.02"/><circle cx="75" cy="94" r="2.2" opacity="0.02"/><circle cx="68" cy="32" r="1.5" opacity="0.03"/><circle cx="21" cy="24" r="2.0" opacity="0.17"/><circle cx="48" cy="57" r="2.0" opacity="0.19"/><circle cx="6" cy="26" r="1.4" opacity="0.06"/><circle cx="78" cy="63" r="2.2" opacity="0.64"/><circle cx="89" cy="64" r="2.5" opacity="0.34"/><circle cx="95" cy="47" r="1.5" opacity="0.24"/><circle cx="59" cy="44" r="1.7" opacity="0.03"/><circle cx="75" cy="103" r="2.2" opacity="0.01"/><circle cx="112" cy="95" r="2.1" opacity="0.51"/><circle cx="20" cy="102" r="2.5" opacity="0.00"/><circle cx="58" cy="42" r="1.7" opacity="0.03"/><circle cx="73" cy="79" r="1.4" opacity="0.03"/><circle cx="67" cy="67" r="1.4" opacity="0.45"/><circle cx="110" cy="93" r="1.2" opacity="0.68"/><circle cx="18" cy="21" r="1.2" opacity="0.09"/><circle cx="64" cy="41" r="2.6" opacity="0.04"/><circle cx="100" cy="95" r="1.7" opacity="0.43"/><circle cx="43" cy="96" r="1.4" opacity="0.01"/><circle cx="95" cy="93" r="1.3" opacity="0.23"/><circle cx="51" cy="108" r="1.3" opacity="0.01"/><circle cx="40" cy="77" r="1.5" opacity="0.38"/><circle cx="18" cy="42" r="2.6" opacity="0.10"/><circle cx="61" cy="51" r="1.2" opacity="0.02"/><circle cx="70" cy="50" r="1.4" opacity="0.30"/><circle cx="18" cy="38" r="2.0" opacity="0.14"/><circle cx="76" cy="61" r="1.1" opacity="0.53"/><circle cx="37" cy="73" r="1.5" opacity="0.33"/><circle cx="29" cy="70" r="1.8" opacity="0.67"/><circle cx="78" cy="96" r="1.6" opacity="0.02"/><circle cx="15" cy="37" r="2.3" opacity="0.20"/><circle cx="98" cy="50" r="1.0" opacity="0.24"/><circle cx="0" cy="55" r="1.1" opacity="0.03"/><circle cx="20" cy="36" r="2.5" opacity="0.15"/><circle cx="19" cy="69" r="1.6" opacity="0.30"/><circle cx="30" cy="27" r="1.3" opacity="0.13"/><circle cx="109" cy="41" r="1.2" opacity="0.01"/><circle cx="51" cy="85" r="1.6" opacity="0.02"/><circle cx="60" cy="69" r="1.2" opacity="0.16"/><circle cx="14" cy="25" r="1.7" opacity="0.13"/><circle cx="18" cy="74" r="1.9" opacity="0.25"/><circle cx="3" cy="63" r="1.6" opacity="0.12"/><circle cx="102" cy="99" r="1.7" opacity="0.60"/><circle cx="38" cy="47" r="2.4" opacity="0.04"/><circle cx="34" cy="41" r="2.1" opacity="0.10"/><circle cx="22" cy="72" r="2.2" opacity="0.58"/><circle cx="95" cy="49" r="1.9" opacity="0.37"/><circle cx="64" cy="76" r="2.3" opacity="0.02"/><circle cx="95" cy="65" r="1.4" opacity="0.27"/><circle cx="90" cy="42" r="1.3" opacity="0.03"/><circle cx="6" cy="28" r="2.0" opacity="0.10"/><circle cx="32" cy="58" r="1.7" opacity="0.02"/><circle cx="51" cy="46" r="1.5" opacity="0.02"/><circle cx="74" cy="45" r="2.0" opacity="0.03"/><circle cx="21" cy="38" r="1.7" opacity="0.22"/><circle cx="15" cy="76" r="1.5" opacity="0.01"/><circle cx="104" cy="66" r="1.5" opacity="0.18"/><circle cx="13" cy="20" r="1.6" opacity="0.03"/><circle cx="60" cy="61" r="2.1" opacity="0.03"/><circle cx="64" cy="67" r="1.1" opacity="0.43"/><circle cx="31" cy="73" r="2.1" opacity="0.30"/><circle cx="66" cy="16" r="2.6" opacity="0.22"/><circle cx="61" cy="74" r="2.3" opacity="0.03"/><circle cx="69" cy="62" r="2.5" opacity="0.20"/><circle cx="8" cy="80" r="1.3" opacity="0.01"/><circle cx="58" cy="86" r="1.5" opacity="0.03"/><circle cx="40" cy="78" r="2.3" opacity="0.30"/><circle cx="1" cy="30" r="1.4" opacity="0.01"/><circle cx="18" cy="87" r="2.2" opacity="0.01"/><circle cx="54" cy="66" r="1.2" opacity="0.03"/><circle cx="89" cy="66" r="2.2" opacity="0.44"/><circle cx="43" cy="56" r="2.1" opacity="0.22"/><circle cx="102" cy="98" r="2.1" opacity="0.53"/><circle cx="84" cy="51" r="2.1" opacity="0.42"/><circle cx="42" cy="99" r="1.3" opacity="0.02"/><circle cx="29" cy="53" r="2.5" opacity="0.02"/><circle cx="48" cy="35" r="2.5" opacity="0.03"/><circle cx="25" cy="37" r="2.0" opacity="0.21"/><circle cx="26" cy="63" r="1.4" opacity="0.03"/><circle cx="26" cy="69" r="1.4" opacity="0.38"/><circle cx="79" cy="9" r="2.4" opacity="0.01"/><circle cx="70" cy="29" r="2.2" opacity="0.03"/><circle cx="34" cy="14" r="1.7" opacity="0.02"/><circle cx="105" cy="36" r="1.3" opacity="0.02"/><circle cx="21" cy="42" r="2.4" opacity="0.11"/><circle cx="33" cy="66" r="1.2" opacity="0.33"/><circle cx="86" cy="50" r="2.4" opacity="0.49"/><circle cx="100" cy="77" r="1.6" opacity="0.01"/><circle cx="86" cy="85" r="1.0" opacity="0.02"/><circle cx="12" cy="53" r="1.3" opacity="0.02"/><circle cx="94" cy="43" r="2.1" opacity="0.03"/><circle cx="73" cy="60" r="2.3" opacity="0.29"/><circle cx="27" cy="75" r="2.0" opacity="0.02"/><circle cx="98" cy="65" r="2.3" opacity="0.33"/><circle cx="69" cy="22" r="2.4" opacity="0.02"/><circle cx="102" cy="67" r="1.8" opacity="0.10"/><circle cx="61" cy="109" r="1.2" opacity="0.01"/><circle cx="43" cy="56" r="1.2" opacity="0.27"/><circle cx="51" cy="77" r="1.3" opacity="0.08"/><circle cx="100" cy="52" r="2.4" opacity="0.21"/><circle cx="109" cy="62" r="1.0" opacity="0.11"/><circle cx="78" cy="70" r="1.5" opacity="0.18"/><circle cx="77" cy="65" r="1.2" opacity="0.42"/><circle cx="21" cy="38" r="1.8" opacity="0.17"/><circle cx="33" cy="72" r="2.5" opacity="0.41"/><circle cx="39" cy="69" r="1.4" opacity="0.54"/><circle cx="89" cy="68" r="1.2" opacity="0.40"/><circle cx="85" cy="38" r="2.5" opacity="0.02"/><circle cx="62" cy="50" r="2.1" opacity="0.03"/><circle cx="43" cy="76" r="2.5" opacity="0.47"/><circle cx="30" cy="15" r="1.1" opacity="0.01"/><circle cx="47" cy="64" r="2.2" opacity="0.02"/><circle cx="103" cy="99" r="1.6" opacity="0.58"/><circle cx="106" cy="57" r="2.0" opacity="0.02"/><circle cx="48" cy="39" r="1.2" opacity="0.03"/><circle cx="54" cy="22" r="1.3" opacity="0.03"/><circle cx="1" cy="70" r="2.5" opacity="0.18"/><circle cx="63" cy="31" r="1.6" opacity="0.04"/><circle cx="88" cy="34" r="1.6" opacity="0.03"/><circle cx="94" cy="34" r="2.5" opacity="0.02"/><circle cx="43" cy="81" r="1.7" opacity="0.21"/><circle cx="33" cy="73" r="2.4" opacity="0.36"/><circle cx="108" cy="25" r="1.1" opacity="0.00"/><circle cx="0" cy="71" r="1.5" opacity="0.13"/><circle cx="78" cy="81" r="1.9" opacity="0.02"/><circle cx="93" cy="80" r="2.4" opacity="0.02"/><circle cx="103" cy="72" r="1.9" opacity="0.01"/><circle cx="71" cy="60" r="1.0" opacity="0.17"/><circle cx="83" cy="82" r="1.7" opacity="0.02"/><circle cx="80" cy="110" r="2.3" opacity="0.00"/><circle cx="77" cy="47" r="1.2" opacity="0.40"/><circle cx="52" cy="14" r="1.5" opacity="0.20"/><circle cx="67" cy="12" r="1.6" opacity="0.19"/><circle cx="81" cy="63" r="1.6" opacity="0.33"/><circle cx="67" cy="52" r="1.7" opacity="0.03"/><circle cx="27" cy="36" r="2.3" opacity="0.21"/><circle cx="20" cy="70" r="2.4" opacity="0.51"/><circle cx="20" cy="67" r="1.2" opacity="0.22"/><circle cx="73" cy="17" r="1.0" opacity="0.23"/><circle cx="71" cy="56" r="1.1" opacity="0.02"/><circle cx="21" cy="74" r="1.2" opacity="0.29"/><circle cx="26" cy="70" r="1.8" opacity="0.61"/><circle cx="82" cy="22" r="1.4" opacity="0.02"/><circle cx="87" cy="17" r="2.3" opacity="0.01"/><circle cx="51" cy="106" r="1.8" opacity="0.01"/><circle cx="31" cy="69" r="1.3" fill="#000" opacity="0.65"/><circle cx="56" cy="11" r="1.5" fill="#000" opacity="0.74"/><circle cx="104" cy="85" r="0.9" fill="#000" opacity="0.45"/><circle cx="81" cy="47" r="1.3" fill="#000" opacity="0.45"/><circle cx="41" cy="66" r="1.6" fill="#000" opacity="0.46"/><circle cx="29" cy="73" r="1.5" fill="#000" opacity="0.68"/><circle cx="74" cy="15" r="0.9" fill="#000" opacity="0.52"/><circle cx="98" cy="52" r="1.4" fill="#000" opacity="0.53"/><circle cx="76" cy="47" r="1.0" fill="#000" opacity="0.36"/><circle cx="102" cy="86" r="1.8" fill="#000" opacity="0.51"/><circle cx="56" cy="10" r="1.1" fill="#000" opacity="0.73"/><circle cx="61" cy="10" r="1.6" fill="#000" opacity="0.72"/><circle cx="100" cy="92" r="1.3" fill="#000" opacity="0.52"/><circle cx="95" cy="92" r="1.5" fill="#000" opacity="0.61"/><circle cx="104" cy="50" r="1.0" fill="#000" opacity="0.38"/><circle cx="52" cy="14" r="1.5" fill="#000" opacity="0.46"/><circle cx="81" cy="62" r="1.7" fill="#000" opacity="0.54"/><circle cx="60" cy="11" r="1.6" fill="#000" opacity="0.42"/><circle cx="42" cy="76" r="0.9" fill="#000" opacity="0.55"/><circle cx="79" cy="66" r="0.9" fill="#000" opacity="0.64"/><circle cx="105" cy="46" r="1.4" fill="#000" opacity="0.67"/><circle cx="92" cy="49" r="1.7" fill="#000" opacity="0.62"/><circle cx="108" cy="95" r="1.7" fill="#000" opacity="0.58"/><circle cx="40" cy="69" r="1.5" fill="#000" opacity="0.52"/><circle cx="82" cy="47" r="1.3" fill="#000" opacity="0.50"/><circle cx="95" cy="92" r="1.2" fill="#000" opacity="0.42"/><circle cx="47" cy="48" r="1.0" fill="#000" opacity="0.69"/><circle cx="61" cy="9" r="1.7" fill="#000" opacity="0.44"/><circle cx="22" cy="72" r="1.3" fill="#000" opacity="0.64"/><circle cx="44" cy="68" r="1.1" fill="#000" opacity="0.44"/><circle cx="49" cy="80" r="1.6" fill="#000" opacity="0.60"/><circle cx="25" cy="73" r="1.1" fill="#000" opacity="0.36"/><circle cx="108" cy="96" r="1.1" fill="#000" opacity="0.66"/><circle cx="76" cy="66" r="1.6" fill="#000" opacity="0.58"/><circle cx="100" cy="66" r="1.5" fill="#000" opacity="0.63"/><circle cx="20" cy="71" r="1.7" fill="#000" opacity="0.36"/><circle cx="26" cy="69" r="1.7" fill="#000" opacity="0.66"/><circle cx="88" cy="49" r="1.3" fill="#000" opacity="0.47"/><circle cx="40" cy="80" r="1.5" fill="#000" opacity="0.55"/><circle cx="98" cy="94" r="1.6" fill="#000" opacity="0.60"/><circle cx="100" cy="85" r="1.4" fill="#000" opacity="0.55"/><circle cx="97" cy="96" r="1.4" fill="#000" opacity="0.61"/><circle cx="88" cy="64" r="1.7" fill="#000" opacity="0.46"/><circle cx="72" cy="49" r="1.2" fill="#000" opacity="0.36"/><circle cx="79" cy="67" r="1.4" fill="#000" opacity="0.61"/></g><filter id="rhB1" x="-50%" y="-50%" width="200%" height="200%"><feGaussianBlur stdDeviation="1.8"/></filter><g filter="url(#rhB1)" fill="#000"><ellipse cx="92" cy="60" rx="14" ry="4" transform="rotate(0 92 60)" fill="#000"/></g></g><filter id="rfB2" filterUnits="userSpaceOnUse" x="0" y="0" width="113" height="111" color-interpolation-filters="sRGB"><feGaussianBlur stdDeviation="0.8"/></filter><filter id="rbB2" filterUnits="userSpaceOnUse" x="0" y="0" width="113" height="111"><feGaussianBlur stdDeviation="3"/></filter><g id="redB2"><rect width="113" height="111" fill="#000"/><g filter="url(#rbB2)" fill="rgb(215,22,22)"><rect x="21" y="-3" width="6" height="6" opacity="0.17"/><rect x="27" y="-3" width="6" height="6" opacity="0.21"/><rect x="33" y="-3" width="6" height="6" opacity="0.14"/><rect x="15" y="3" width="6" height="6" opacity="0.12"/><rect x="21" y="3" width="6" height="6" opacity="0.27"/><rect x="27" y="3" width="6" height="6" opacity="0.34"/><rect x="33" y="3" width="6" height="6" opacity="0.33"/><rect x="39" y="3" width="6" height="6" opacity="0.24"/><rect x="9" y="9" width="6" height="6" opacity="0.06"/><rect x="15" y="9" width="6" height="6" opacity="0.14"/><rect x="21" y="9" width="6" height="6" opacity="0.27"/><rect x="27" y="9" width="6" height="6" opacity="0.37"/><rect x="33" y="9" width="6" height="6" opacity="0.39"/><rect x="39" y="9" width="6" height="6" opacity="0.37"/><rect x="45" y="9" width="6" height="6" opacity="0.26"/><rect x="99" y="9" width="6" height="6" opacity="0.06"/><rect x="105" y="9" width="6" height="6" opacity="0.07"/><rect x="111" y="9" width="6" height="6" opacity="0.06"/><rect x="15" y="15" width="6" height="6" opacity="0.09"/><rect x="21" y="15" width="6" height="6" opacity="0.17"/><rect x="27" y="15" width="6" height="6" opacity="0.33"/><rect x="33" y="15" width="6" height="6" opacity="0.40"/><rect x="51" y="15" width="6" height="6" opacity="0.27"/><rect x="93" y="15" width="6" height="6" opacity="0.09"/><rect x="99" y="15" width="6" height="6" opacity="0.11"/><rect x="105" y="15" width="6" height="6" opacity="0.11"/><rect x="111" y="15" width="6" height="6" opacity="0.07"/><rect x="27" y="21" width="6" height="6" opacity="0.22"/><rect x="33" y="21" width="6" height="6" opacity="0.35"/><rect x="39" y="21" width="6" height="6" opacity="0.35"/><rect x="51" y="21" width="6" height="6" opacity="0.17"/><rect x="57" y="21" width="6" height="6" opacity="0.25"/><rect x="87" y="21" width="6" height="6" opacity="0.09"/><rect x="93" y="21" width="6" height="6" opacity="0.12"/><rect x="99" y="21" width="6" height="6" opacity="0.12"/><rect x="105" y="21" width="6" height="6" opacity="0.09"/><rect x="33" y="27" width="6" height="6" opacity="0.23"/><rect x="39" y="27" width="6" height="6" opacity="0.34"/><rect x="45" y="27" width="6" height="6" opacity="0.38"/><rect x="51" y="27" width="6" height="6" opacity="0.37"/><rect x="57" y="27" width="6" height="6" opacity="0.30"/><rect x="63" y="27" width="6" height="6" opacity="0.13"/><rect x="87" y="27" width="6" height="6" opacity="0.10"/><rect x="93" y="27" width="6" height="6" opacity="0.11"/><rect x="99" y="27" width="6" height="6" opacity="0.09"/><rect x="39" y="33" width="6" height="6" opacity="0.20"/><rect x="45" y="33" width="6" height="6" opacity="0.29"/><rect x="51" y="33" width="6" height="6" opacity="0.31"/><rect x="57" y="33" width="6" height="6" opacity="0.27"/><rect x="63" y="33" width="6" height="6" opacity="0.14"/><rect x="69" y="33" width="6" height="6" opacity="0.05"/><rect x="87" y="33" width="6" height="6" opacity="0.08"/><rect x="93" y="33" width="6" height="6" opacity="0.08"/><rect x="-3" y="39" width="6" height="6" opacity="0.13"/><rect x="3" y="39" width="6" height="6" opacity="0.22"/><rect x="9" y="39" width="6" height="6" opacity="0.22"/><rect x="15" y="39" width="6" height="6" opacity="0.12"/><rect x="51" y="39" width="6" height="6" opacity="0.12"/><rect x="57" y="39" width="6" height="6" opacity="0.10"/><rect x="63" y="39" width="6" height="6" opacity="0.18"/><rect x="69" y="39" width="6" height="6" opacity="0.23"/><rect x="75" y="39" width="6" height="6" opacity="0.21"/><rect x="81" y="39" width="6" height="6" opacity="0.14"/><rect x="-3" y="45" width="6" height="6" opacity="0.22"/><rect x="3" y="45" width="6" height="6" opacity="0.31"/><rect x="9" y="45" width="6" height="6" opacity="0.33"/><rect x="15" y="45" width="6" height="6" opacity="0.29"/><rect x="21" y="45" width="6" height="6" opacity="0.15"/><rect x="57" y="45" width="6" height="6" opacity="0.14"/><rect x="63" y="45" width="6" height="6" opacity="0.26"/><rect x="69" y="45" width="6" height="6" opacity="0.31"/><rect x="75" y="45" width="6" height="6" opacity="0.31"/><rect x="81" y="45" width="6" height="6" opacity="0.29"/><rect x="87" y="45" width="6" height="6" opacity="0.25"/><rect x="93" y="45" width="6" height="6" opacity="0.16"/><rect x="-3" y="51" width="6" height="6" opacity="0.25"/><rect x="3" y="51" width="6" height="6" opacity="0.35"/><rect x="21" y="51" width="6" height="6" opacity="0.30"/><rect x="27" y="51" width="6" height="6" opacity="0.11"/><rect x="57" y="51" width="6" height="6" opacity="0.15"/><rect x="63" y="51" width="6" height="6" opacity="0.29"/><rect x="69" y="51" width="6" height="6" opacity="0.35"/><rect x="75" y="51" width="6" height="6" opacity="0.37"/><rect x="81" y="51" width="6" height="6" opacity="0.37"/><rect x="87" y="51" width="6" height="6" opacity="0.35"/><rect x="93" y="51" width="6" height="6" opacity="0.31"/><rect x="99" y="51" width="6" height="6" opacity="0.21"/><rect x="-3" y="57" width="6" height="6" opacity="0.23"/><rect x="3" y="57" width="6" height="6" opacity="0.35"/><rect x="15" y="57" width="6" height="6" opacity="0.08"/><rect x="21" y="57" width="6" height="6" opacity="0.38"/><rect x="27" y="57" width="6" height="6" opacity="0.29"/><rect x="57" y="57" width="6" height="6" opacity="0.08"/><rect x="63" y="57" width="6" height="6" opacity="0.28"/><rect x="69" y="57" width="6" height="6" opacity="0.36"/><rect x="75" y="57" width="6" height="6" opacity="0.40"/><rect x="81" y="57" width="6" height="6" opacity="0.41"/><rect x="87" y="57" width="6" height="6" opacity="0.41"/><rect x="93" y="57" width="6" height="6" opacity="0.38"/><rect x="99" y="57" width="6" height="6" opacity="0.31"/><rect x="105" y="57" width="6" height="6" opacity="0.13"/><rect x="-3" y="63" width="6" height="6" opacity="0.14"/><rect x="3" y="63" width="6" height="6" opacity="0.30"/><rect x="9" y="63" width="6" height="6" opacity="0.38"/><rect x="15" y="63" width="6" height="6" opacity="0.41"/><rect x="21" y="63" width="6" height="6" opacity="0.41"/><rect x="27" y="63" width="6" height="6" opacity="0.36"/><rect x="33" y="63" width="6" height="6" opacity="0.22"/><rect x="63" y="63" width="6" height="6" opacity="0.22"/><rect x="69" y="63" width="6" height="6" opacity="0.34"/><rect x="75" y="63" width="6" height="6" opacity="0.40"/><rect x="81" y="63" width="6" height="6" opacity="0.43"/><rect x="87" y="63" width="6" height="6" opacity="0.43"/><rect x="93" y="63" width="6" height="6" opacity="0.42"/><rect x="99" y="63" width="6" height="6" opacity="0.36"/><rect x="105" y="63" width="6" height="6" opacity="0.23"/><rect x="3" y="69" width="6" height="6" opacity="0.19"/><rect x="9" y="69" width="6" height="6" opacity="0.32"/><rect x="21" y="69" width="6" height="6" opacity="0.40"/><rect x="27" y="69" width="6" height="6" opacity="0.38"/><rect x="33" y="69" width="6" height="6" opacity="0.29"/><rect x="63" y="69" width="6" height="6" opacity="0.06"/><rect x="69" y="69" width="6" height="6" opacity="0.28"/><rect x="75" y="69" width="6" height="6" opacity="0.37"/><rect x="81" y="69" width="6" height="6" opacity="0.17"/><rect x="87" y="69" width="6" height="6" opacity="0.43"/><rect x="93" y="69" width="6" height="6" opacity="0.43"/><rect x="99" y="69" width="6" height="6" opacity="0.38"/><rect x="105" y="69" width="6" height="6" opacity="0.27"/><rect x="9" y="75" width="6" height="6" opacity="0.21"/><rect x="21" y="75" width="6" height="6" opacity="0.33"/><rect x="27" y="75" width="6" height="6" opacity="0.36"/><rect x="33" y="75" width="6" height="6" opacity="0.29"/><rect x="39" y="75" width="6" height="6" opacity="0.07"/><rect x="69" y="75" width="6" height="6" opacity="0.17"/><rect x="75" y="75" width="6" height="6" opacity="0.32"/><rect x="93" y="75" width="6" height="6" opacity="0.42"/><rect x="99" y="75" width="6" height="6" opacity="0.39"/><rect x="105" y="75" width="6" height="6" opacity="0.29"/><rect x="15" y="81" width="6" height="6" opacity="0.22"/><rect x="21" y="81" width="6" height="6" opacity="0.30"/><rect x="27" y="81" width="6" height="6" opacity="0.30"/><rect x="33" y="81" width="6" height="6" opacity="0.23"/><rect x="75" y="81" width="6" height="6" opacity="0.23"/><rect x="81" y="81" width="6" height="6" opacity="0.33"/><rect x="87" y="81" width="6" height="6" opacity="0.39"/><rect x="93" y="81" width="6" height="6" opacity="0.40"/><rect x="99" y="81" width="6" height="6" opacity="0.38"/><rect x="105" y="81" width="6" height="6" opacity="0.30"/><rect x="111" y="81" width="6" height="6" opacity="0.12"/><rect x="21" y="87" width="6" height="6" opacity="0.16"/><rect x="27" y="87" width="6" height="6" opacity="0.19"/><rect x="33" y="87" width="6" height="6" opacity="0.10"/><rect x="75" y="87" width="6" height="6" opacity="0.11"/><rect x="81" y="87" width="6" height="6" opacity="0.26"/><rect x="99" y="87" width="6" height="6" opacity="0.35"/><rect x="105" y="87" width="6" height="6" opacity="0.29"/><rect x="111" y="87" width="6" height="6" opacity="0.15"/><rect x="81" y="93" width="6" height="6" opacity="0.17"/><rect x="87" y="93" width="6" height="6" opacity="0.23"/><rect x="93" y="93" width="6" height="6" opacity="0.31"/><rect x="99" y="93" width="6" height="6" opacity="0.31"/><rect x="105" y="93" width="6" height="6" opacity="0.26"/><rect x="111" y="93" width="6" height="6" opacity="0.15"/><rect x="87" y="99" width="6" height="6" opacity="0.17"/><rect x="93" y="99" width="6" height="6" opacity="0.24"/><rect x="99" y="99" width="6" height="6" opacity="0.25"/><rect x="105" y="99" width="6" height="6" opacity="0.20"/><rect x="111" y="99" width="6" height="6" opacity="0.08"/><rect x="93" y="105" width="6" height="6" opacity="0.10"/><rect x="99" y="105" width="6" height="6" opacity="0.13"/><rect x="105" y="105" width="6" height="6" opacity="0.07"/></g><g filter="url(#rfB2)" fill="rgb(215,22,22)"><circle cx="98" cy="79" r="2.2" opacity="0.56"/><circle cx="20" cy="8" r="2.4" opacity="0.21"/><circle cx="14" cy="28" r="1.1" opacity="0.02"/><circle cx="82" cy="87" r="2.3" opacity="0.39"/><circle cx="45" cy="79" r="1.6" opacity="0.05"/><circle cx="66" cy="106" r="2.0" opacity="0.02"/><circle cx="16" cy="63" r="1.7" opacity="0.41"/><circle cx="23" cy="64" r="2.2" opacity="0.90"/><circle cx="112" cy="97" r="2.1" opacity="0.42"/><circle cx="70" cy="70" r="1.5" opacity="0.57"/><circle cx="37" cy="19" r="2.1" opacity="0.69"/><circle cx="64" cy="43" r="1.2" opacity="0.33"/><circle cx="42" cy="25" r="1.7" opacity="0.76"/><circle cx="26" cy="11" r="1.2" opacity="0.72"/><circle cx="103" cy="82" r="2.2" opacity="0.63"/><circle cx="95" cy="14" r="1.7" opacity="0.07"/><circle cx="92" cy="65" r="1.6" opacity="0.89"/><circle cx="61" cy="48" r="2.0" opacity="0.36"/><circle cx="98" cy="51" r="1.8" opacity="0.34"/><circle cx="105" cy="99" r="1.7" opacity="0.48"/><circle cx="20" cy="19" r="1.3" opacity="0.12"/><circle cx="80" cy="35" r="2.3" opacity="0.03"/><circle cx="24" cy="58" r="1.2" opacity="0.52"/><circle cx="93" cy="25" r="1.0" opacity="0.16"/><circle cx="91" cy="101" r="2.3" opacity="0.45"/><circle cx="85" cy="46" r="2.2" opacity="0.39"/><circle cx="83" cy="46" r="1.2" opacity="0.40"/><circle cx="32" cy="88" r="1.5" opacity="0.49"/><circle cx="57" cy="62" r="1.9" opacity="0.04"/><circle cx="69" cy="54" r="2.2" opacity="0.40"/><circle cx="72" cy="33" r="2.5" opacity="0.03"/><circle cx="105" cy="83" r="1.0" opacity="0.56"/><circle cx="102" cy="106" r="2.4" opacity="0.28"/><circle cx="96" cy="50" r="1.3" opacity="0.47"/><circle cx="6" cy="66" r="1.1" opacity="0.60"/><circle cx="37" cy="55" r="1.8" opacity="0.03"/><circle cx="39" cy="74" r="1.7" opacity="0.35"/><circle cx="43" cy="99" r="2.5" opacity="0.02"/><circle cx="94" cy="70" r="2.0" opacity="0.82" fill="rgb(255,95,55)"/><circle cx="42" cy="3" r="2.0" opacity="0.21"/><circle cx="56" cy="57" r="1.8" opacity="0.06"/><circle cx="9" cy="54" r="1.0" opacity="0.47"/><circle cx="78" cy="26" r="1.9" opacity="0.03"/><circle cx="9" cy="17" r="2.2" opacity="0.00"/><circle cx="66" cy="62" r="1.5" opacity="0.48"/><circle cx="65" cy="87" r="2.2" opacity="0.03"/><circle cx="77" cy="79" r="2.2" opacity="0.44"/><circle cx="17" cy="96" r="1.6" opacity="0.01"/><circle cx="27" cy="65" r="1.2" opacity="0.75"/><circle cx="24" cy="47" r="2.4" opacity="0.19"/><circle cx="65" cy="84" r="2.5" opacity="0.04"/><circle cx="8" cy="45" r="1.3" opacity="0.58"/><circle cx="19" cy="86" r="2.0" opacity="0.26"/><circle cx="66" cy="52" r="2.1" opacity="0.57"/><circle cx="2" cy="44" r="2.5" opacity="0.31"/><circle cx="49" cy="12" r="1.0" opacity="0.39"/><circle cx="108" cy="94" r="1.6" opacity="0.38"/><circle cx="52" cy="30" r="1.8" opacity="0.46"/><circle cx="26" cy="84" r="1.6" opacity="0.53"/><circle cx="62" cy="35" r="1.9" opacity="0.39"/><circle cx="64" cy="64" r="1.7" opacity="0.34"/><circle cx="35" cy="80" r="2.2" opacity="0.50"/><circle cx="104" cy="73" r="1.6" opacity="0.66"/><circle cx="109" cy="98" r="2.0" opacity="0.46"/><circle cx="104" cy="28" r="1.6" opacity="0.20"/><circle cx="32" cy="61" r="1.0" opacity="0.58"/><circle cx="28" cy="29" r="1.2" opacity="0.05"/><circle cx="79" cy="89" r="1.9" opacity="0.23"/><circle cx="72" cy="60" r="1.2" opacity="0.82" fill="rgb(255,95,55)"/><circle cx="39" cy="22" r="2.4" opacity="0.79"/><circle cx="44" cy="33" r="1.2" opacity="0.43"/><circle cx="110" cy="39" r="2.1" opacity="0.01"/><circle cx="89" cy="83" r="1.9" opacity="0.55"/><circle cx="103" cy="79" r="2.1" opacity="0.50"/><circle cx="21" cy="66" r="2.0" opacity="0.76"/><circle cx="75" cy="51" r="2.4" opacity="0.42"/><circle cx="101" cy="89" r="2.0" opacity="0.56"/><circle cx="56" cy="32" r="2.1" opacity="0.72"/><circle cx="66" cy="43" r="1.6" opacity="0.39"/><circle cx="46" cy="11" r="2.0" opacity="0.38"/><circle cx="80" cy="80" r="1.2" opacity="0.51"/><circle cx="78" cy="96" r="1.5" opacity="0.03"/><circle cx="107" cy="100" r="1.5" opacity="0.51"/><circle cx="77" cy="78" r="2.3" opacity="0.36"/><circle cx="95" cy="63" r="2.4" opacity="0.92"/><circle cx="81" cy="94" r="2.2" opacity="0.22"/><circle cx="107" cy="86" r="1.9" opacity="0.54"/><circle cx="36" cy="26" r="1.1" opacity="0.54"/><circle cx="69" cy="45" r="1.2" opacity="0.31"/><circle cx="21" cy="48" r="1.6" opacity="0.53"/><circle cx="45" cy="27" r="2.0" opacity="0.83"/><circle cx="18" cy="0" r="2.4" opacity="0.07"/><circle cx="65" cy="41" r="2.4" opacity="0.28"/><circle cx="79" cy="81" r="1.3" opacity="0.67"/><circle cx="52" cy="39" r="1.4" opacity="0.48"/><circle cx="86" cy="4" r="2.5" opacity="0.01"/><circle cx="101" cy="103" r="1.8" opacity="0.40"/><circle cx="39" cy="44" r="2.5" opacity="0.06"/><circle cx="78" cy="62" r="1.6" opacity="0.85"/><circle cx="42" cy="9" r="1.3" opacity="0.49"/><circle cx="89" cy="84" r="1.7" opacity="0.82"/><circle cx="20" cy="64" r="1.8" opacity="0.68"/><circle cx="56" cy="48" r="1.6" opacity="0.04"/><circle cx="92" cy="36" r="2.5" opacity="0.13"/><circle cx="48" cy="46" r="1.6" opacity="0.05"/><circle cx="28" cy="71" r="1.7" opacity="0.86"/><circle cx="27" cy="69" r="2.0" opacity="0.52"/><circle cx="17" cy="49" r="1.7" opacity="0.54"/><circle cx="27" cy="67" r="1.3" opacity="0.83"/><circle cx="99" cy="95" r="2.2" opacity="0.59"/><circle cx="18" cy="63" r="2.5" opacity="0.64"/><circle cx="83" cy="61" r="1.2" opacity="0.71"/><circle cx="2" cy="60" r="2.1" opacity="0.60"/><circle cx="52" cy="71" r="1.2" opacity="0.05"/><circle cx="65" cy="94" r="1.4" opacity="0.03"/><circle cx="70" cy="67" r="2.3" opacity="0.62"/><circle cx="33" cy="56" r="2.5" opacity="0.11"/><circle cx="105" cy="106" r="1.5" opacity="0.20"/><circle cx="60" cy="10" r="1.1" opacity="0.03"/><circle cx="9" cy="41" r="1.0" opacity="0.23"/><circle cx="66" cy="49" r="2.3" opacity="0.36"/><circle cx="106" cy="15" r="1.5" opacity="0.14"/><circle cx="73" cy="70" r="2.1" opacity="0.38"/><circle cx="73" cy="31" r="2.0" opacity="0.04"/><circle cx="85" cy="43" r="1.7" opacity="0.18"/><circle cx="86" cy="95" r="2.2" opacity="0.49"/><circle cx="27" cy="55" r="1.1" opacity="0.48"/><circle cx="45" cy="63" r="1.8" opacity="0.05"/><circle cx="3" cy="44" r="2.6" opacity="0.27"/><circle cx="102" cy="56" r="1.9" opacity="0.36"/><circle cx="67" cy="69" r="2.1" opacity="0.29"/><circle cx="82" cy="71" r="1.4" opacity="0.46"/><circle cx="17" cy="28" r="2.4" opacity="0.02"/><circle cx="101" cy="68" r="1.9" opacity="0.62"/><circle cx="18" cy="95" r="1.9" opacity="0.01"/><circle cx="107" cy="59" r="1.2" opacity="0.29"/><circle cx="14" cy="68" r="2.3" opacity="0.73"/><circle cx="103" cy="93" r="2.4" opacity="0.65"/><circle cx="33" cy="26" r="1.9" opacity="0.45"/><circle cx="23" cy="50" r="1.4" opacity="0.33"/><circle cx="54" cy="26" r="2.1" opacity="0.38"/><circle cx="89" cy="14" r="1.1" opacity="0.02"/><circle cx="44" cy="26" r="2.1" opacity="0.67"/><circle cx="31" cy="107" r="1.4" opacity="0.00"/><circle cx="60" cy="36" r="1.8" opacity="0.38"/><circle cx="103" cy="80" r="2.3" opacity="0.47"/><circle cx="1" cy="43" r="2.1" opacity="0.31"/><circle cx="45" cy="12" r="1.3" opacity="0.70"/><circle cx="79" cy="75" r="1.7" opacity="0.46"/><circle cx="76" cy="41" r="1.7" opacity="0.37"/><circle cx="105" cy="24" r="2.3" opacity="0.22"/><circle cx="64" cy="26" r="1.1" opacity="0.30"/><circle cx="33" cy="33" r="1.9" opacity="0.04"/><circle cx="24" cy="97" r="1.9" opacity="0.02"/><circle cx="82" cy="96" r="2.3" opacity="0.14"/><circle cx="11" cy="63" r="2.1" opacity="0.48"/><circle cx="50" cy="85" r="2.2" opacity="0.03"/><circle cx="78" cy="83" r="2.0" opacity="0.26"/><circle cx="83" cy="52" r="1.5" opacity="0.49"/><circle cx="23" cy="69" r="1.4" opacity="0.66"/><circle cx="51" cy="11" r="1.8" opacity="0.13"/><circle cx="43" cy="39" r="1.4" opacity="0.23"/><circle cx="111" cy="99" r="2.5" opacity="0.42"/><circle cx="16" cy="44" r="1.1" opacity="0.27"/><circle cx="89" cy="100" r="1.1" opacity="0.36"/><circle cx="84" cy="99" r="1.6" opacity="0.12"/><circle cx="56" cy="103" r="1.7" opacity="0.03"/><circle cx="37" cy="58" r="1.3" opacity="0.04"/><circle cx="21" cy="1" r="2.2" opacity="0.26"/><circle cx="104" cy="72" r="1.3" opacity="0.51"/><circle cx="110" cy="13" r="2.4" opacity="0.13"/><circle cx="3" cy="66" r="1.7" opacity="0.27"/><circle cx="80" cy="41" r="1.4" opacity="0.21"/><circle cx="72" cy="42" r="1.2" opacity="0.52"/><circle cx="67" cy="59" r="2.2" opacity="0.57"/><circle cx="98" cy="95" r="1.6" opacity="0.37"/><circle cx="6" cy="65" r="2.1" opacity="0.69"/><circle cx="3" cy="49" r="1.0" opacity="0.38"/><circle cx="60" cy="50" r="1.0" opacity="0.26"/><circle cx="39" cy="24" r="2.1" opacity="0.50"/><circle cx="77" cy="6" r="1.1" opacity="0.02"/><circle cx="103" cy="88" r="1.8" opacity="0.43"/><circle cx="65" cy="64" r="2.4" opacity="0.36"/><circle cx="76" cy="24" r="1.2" opacity="0.03"/><circle cx="13" cy="68" r="2.1" opacity="0.72"/><circle cx="33" cy="39" r="2.5" opacity="0.05"/><circle cx="95" cy="63" r="1.3" opacity="0.76"/><circle cx="50" cy="61" r="1.5" opacity="0.05"/><circle cx="64" cy="98" r="1.6" opacity="0.04"/><circle cx="26" cy="87" r="2.4" opacity="0.39"/><circle cx="37" cy="23" r="1.8" opacity="0.75"/><circle cx="72" cy="49" r="2.5" opacity="0.37"/><circle cx="91" cy="47" r="2.6" opacity="0.33"/><circle cx="106" cy="79" r="2.1" opacity="0.41"/><circle cx="57" cy="1" r="2.2" opacity="0.02"/><circle cx="42" cy="100" r="1.2" opacity="0.02"/><circle cx="65" cy="106" r="1.8" opacity="0.02"/><circle cx="24" cy="55" r="2.4" opacity="0.55"/><circle cx="1" cy="64" r="1.9" opacity="0.34"/><circle cx="22" cy="57" r="2.3" opacity="0.63"/><circle cx="96" cy="21" r="1.5" opacity="0.22"/><circle cx="97" cy="33" r="1.7" opacity="0.21"/><circle cx="5" cy="55" r="2.3" opacity="0.41"/><circle cx="81" cy="61" r="1.8" opacity="0.57"/><circle cx="21" cy="13" r="2.5" opacity="0.26"/><circle cx="80" cy="68" r="1.9" opacity="0.49"/><circle cx="16" cy="49" r="1.8" opacity="0.35"/><circle cx="16" cy="27" r="1.2" opacity="0.02"/><circle cx="99" cy="75" r="1.6" opacity="0.63"/><circle cx="34" cy="69" r="1.6" opacity="0.59"/><circle cx="81" cy="80" r="1.6" opacity="0.59"/><circle cx="22" cy="54" r="1.6" opacity="0.36"/><circle cx="49" cy="69" r="1.7" opacity="0.06"/><circle cx="99" cy="86" r="1.1" opacity="0.52"/><circle cx="83" cy="58" r="1.3" opacity="0.59"/><circle cx="40" cy="11" r="2.5" opacity="0.44"/><circle cx="31" cy="20" r="1.6" opacity="0.35"/><circle cx="29" cy="26" r="1.8" opacity="0.13"/><circle cx="86" cy="45" r="1.6" opacity="0.40"/><circle cx="99" cy="20" r="2.6" opacity="0.23"/><circle cx="107" cy="62" r="1.7" opacity="0.50"/><circle cx="89" cy="70" r="2.3" opacity="0.97"/><circle cx="45" cy="11" r="1.5" opacity="0.56"/><circle cx="65" cy="69" r="2.5" opacity="0.26"/><circle cx="64" cy="10" r="1.7" opacity="0.03"/><circle cx="5" cy="52" r="1.7" opacity="0.46"/><circle cx="96" cy="95" r="1.9" opacity="0.54"/><circle cx="32" cy="76" r="2.6" opacity="0.72"/><circle cx="31" cy="15" r="1.1" opacity="0.53"/><circle cx="90" cy="83" r="1.8" opacity="0.60"/><circle cx="104" cy="55" r="1.4" opacity="0.32"/><circle cx="25" cy="3" r="1.6" opacity="0.37"/><circle cx="112" cy="86" r="1.8" opacity="0.47"/><circle cx="57" cy="19" r="1.7" opacity="0.37"/><circle cx="56" cy="27" r="1.3" opacity="0.39"/><circle cx="90" cy="61" r="2.6" opacity="0.71"/><circle cx="46" cy="57" r="1.5" opacity="0.03"/><circle cx="13" cy="77" r="1.6" opacity="0.32"/><circle cx="41" cy="77" r="2.3" opacity="0.14"/><circle cx="37" cy="4" r="2.0" opacity="0.60"/><circle cx="67" cy="33" r="1.7" opacity="0.18"/><circle cx="25" cy="46" r="1.9" opacity="0.04"/><circle cx="55" cy="98" r="1.9" opacity="0.03"/><circle cx="55" cy="15" r="1.0" opacity="0.24"/><circle cx="107" cy="36" r="1.1" opacity="0.02"/><circle cx="108" cy="24" r="1.2" opacity="0.13"/><circle cx="95" cy="62" r="2.2" opacity="0.87"/><circle cx="31" cy="23" r="1.7" opacity="0.53"/><circle cx="26" cy="69" r="2.3" opacity="0.49"/><circle cx="113" cy="103" r="1.6" opacity="0.20"/><circle cx="46" cy="35" r="1.9" opacity="0.35"/><circle cx="81" cy="44" r="1.2" opacity="0.41"/><circle cx="91" cy="104" r="2.3" opacity="0.28"/><circle cx="25" cy="83" r="1.1" opacity="0.66"/><circle cx="56" cy="34" r="2.1" opacity="0.56"/><circle cx="85" cy="49" r="2.1" opacity="0.52"/><circle cx="86" cy="85" r="1.4" opacity="0.47"/><circle cx="3" cy="59" r="2.3" opacity="0.61"/><circle cx="20" cy="52" r="1.2" opacity="0.69"/><circle cx="63" cy="54" r="1.8" opacity="0.41"/><circle cx="112" cy="104" r="1.7" opacity="0.21"/><circle cx="88" cy="65" r="2.3" opacity="0.64"/><circle cx="34" cy="50" r="2.5" opacity="0.05"/><circle cx="60" cy="58" r="1.0" opacity="0.23"/><circle cx="110" cy="103" r="1.3" opacity="0.29"/><circle cx="37" cy="66" r="1.0" opacity="0.20"/><circle cx="104" cy="105" r="2.0" opacity="0.22"/><circle cx="56" cy="104" r="1.7" opacity="0.02"/><circle cx="93" cy="37" r="1.9" opacity="0.16"/><circle cx="54" cy="93" r="1.4" opacity="0.03"/><circle cx="101" cy="68" r="2.4" opacity="0.59"/><circle cx="6" cy="52" r="2.1" opacity="0.61"/><circle cx="0" cy="53" r="1.4" opacity="0.51"/><circle cx="2" cy="71" r="1.1" opacity="0.05"/><circle cx="65" cy="90" r="1.5" opacity="0.05"/><circle cx="40" cy="13" r="2.5" opacity="0.59"/><circle cx="101" cy="49" r="1.8" opacity="0.02"/><circle cx="63" cy="2" r="1.6" opacity="0.02"/><circle cx="27" cy="59" r="1.8" opacity="0.47"/><circle cx="98" cy="63" r="1.4" opacity="0.62"/><circle cx="8" cy="60" r="1.0" opacity="0.45"/><circle cx="37" cy="13" r="2.5" opacity="0.83"/><circle cx="48" cy="71" r="1.8" opacity="0.04"/><circle cx="56" cy="16" r="1.5" opacity="0.17"/><circle cx="94" cy="39" r="1.7" opacity="0.07"/><circle cx="65" cy="106" r="1.4" opacity="0.02"/><circle cx="74" cy="24" r="1.4" opacity="0.05"/><circle cx="106" cy="38" r="2.4" opacity="0.02"/><circle cx="85" cy="69" r="2.4" opacity="0.79" fill="rgb(255,95,55)"/><circle cx="71" cy="48" r="1.1" opacity="0.63"/><circle cx="7" cy="54" r="1.8" opacity="0.59"/><circle cx="108" cy="95" r="2.1" opacity="0.40"/><circle cx="8" cy="67" r="1.1" opacity="0.65"/><circle cx="71" cy="35" r="1.2" opacity="0.04"/><circle cx="80" cy="65" r="2.3" opacity="0.84"/><circle cx="21" cy="9" r="2.5" opacity="0.33"/><circle cx="57" cy="72" r="2.4" opacity="0.04"/><circle cx="36" cy="2" r="1.6" opacity="0.48"/><circle cx="96" cy="101" r="2.1" opacity="0.31"/><circle cx="43" cy="104" r="2.3" opacity="0.02"/><circle cx="2" cy="56" r="1.4" opacity="0.39"/><circle cx="104" cy="40" r="1.4" opacity="0.02"/><circle cx="103" cy="73" r="1.1" opacity="0.45"/><circle cx="13" cy="71" r="1.8" opacity="0.45"/><circle cx="64" cy="38" r="1.7" opacity="0.19"/><circle cx="87" cy="56" r="1.1" opacity="0.72"/><circle cx="81" cy="8" r="1.9" opacity="0.02"/><circle cx="98" cy="53" r="2.0" opacity="0.57"/><circle cx="60" cy="33" r="1.7" opacity="0.49"/><circle cx="97" cy="97" r="1.5" opacity="0.65"/><circle cx="36" cy="103" r="1.9" opacity="0.01"/><circle cx="82" cy="67" r="1.5" opacity="0.55"/><circle cx="100" cy="54" r="2.5" opacity="0.44"/><circle cx="43" cy="30" r="2.1" opacity="0.42"/><circle cx="28" cy="64" r="1.2" opacity="0.79"/><circle cx="36" cy="11" r="1.6" opacity="0.44"/><circle cx="75" cy="55" r="1.9" opacity="0.79"/><circle cx="102" cy="52" r="1.8" opacity="0.17"/><circle cx="39" cy="32" r="2.1" opacity="0.27"/><circle cx="19" cy="4" r="1.7" opacity="0.14"/><circle cx="85" cy="70" r="2.6" opacity="0.94"/><circle cx="102" cy="33" r="2.1" opacity="0.11"/><circle cx="65" cy="67" r="2.1" opacity="0.37"/><circle cx="76" cy="76" r="2.6" opacity="0.41"/><circle cx="83" cy="54" r="1.6" opacity="0.69"/><circle cx="15" cy="9" r="1.3" opacity="0.13"/><circle cx="8" cy="63" r="1.7" opacity="0.48"/><circle cx="113" cy="80" r="1.3" opacity="0.34"/><circle cx="76" cy="23" r="2.3" opacity="0.03"/><circle cx="104" cy="80" r="1.9" opacity="0.81"/><circle cx="23" cy="1" r="1.9" opacity="0.37"/><circle cx="45" cy="40" r="2.4" opacity="0.15"/><circle cx="57" cy="21" r="2.6" opacity="0.52"/><circle cx="22" cy="59" r="2.2" opacity="0.60"/><circle cx="77" cy="63" r="1.2" opacity="0.49"/><circle cx="108" cy="90" r="1.2" opacity="0.55"/><circle cx="33" cy="84" r="1.6" opacity="0.40"/><circle cx="66" cy="87" r="2.3" opacity="0.04"/><circle cx="55" cy="19" r="2.0" opacity="0.44"/><circle cx="56" cy="46" r="1.7" opacity="0.04"/><circle cx="32" cy="6" r="2.1" opacity="0.77"/><circle cx="64" cy="36" r="2.0" opacity="0.45"/><circle cx="59" cy="102" r="2.3" opacity="0.03"/><circle cx="78" cy="66" r="1.3" opacity="0.49"/><circle cx="58" cy="22" r="2.3" opacity="0.45"/><circle cx="90" cy="10" r="1.3" opacity="0.02"/><circle cx="45" cy="12" r="2.3" opacity="0.36"/><circle cx="58" cy="56" r="1.1" opacity="0.03"/><circle cx="77" cy="64" r="2.5" opacity="0.66"/><circle cx="10" cy="68" r="2.0" opacity="0.45"/><circle cx="39" cy="6" r="1.1" opacity="0.50"/><circle cx="50" cy="0" r="2.5" opacity="0.01"/><circle cx="51" cy="16" r="1.6" opacity="0.21"/><circle cx="96" cy="47" r="2.2" opacity="0.16"/><circle cx="29" cy="69" r="1.4" opacity="0.81"/><circle cx="85" cy="42" r="2.3" opacity="0.20"/><circle cx="33" cy="19" r="2.4" opacity="0.51"/><circle cx="64" cy="109" r="1.9" opacity="0.02"/><circle cx="30" cy="13" r="1.0" opacity="0.78"/><circle cx="65" cy="52" r="2.3" opacity="0.57"/><circle cx="75" cy="54" r="1.4" opacity="0.48"/><circle cx="108" cy="80" r="2.6" opacity="0.49"/><circle cx="31" cy="67" r="1.7" opacity="0.79"/><circle cx="22" cy="85" r="1.8" opacity="0.34"/><circle cx="13" cy="68" r="1.6" opacity="0.66"/><circle cx="6" cy="46" r="2.5" opacity="0.32"/><circle cx="53" cy="56" r="1.4" opacity="0.06"/><circle cx="19" cy="25" r="1.2" opacity="0.02"/><circle cx="110" cy="74" r="1.7" opacity="0.28"/><circle cx="102" cy="15" r="1.5" opacity="0.20"/><circle cx="95" cy="26" r="1.1" opacity="0.23"/><circle cx="98" cy="100" r="2.2" opacity="0.49"/><circle cx="101" cy="27" r="1.8" opacity="0.23"/><circle cx="32" cy="86" r="1.1" opacity="0.32"/><circle cx="90" cy="100" r="1.0" opacity="0.30"/><circle cx="23" cy="70" r="1.2" opacity="0.66"/><circle cx="24" cy="9" r="1.8" opacity="0.42"/><circle cx="100" cy="34" r="1.9" opacity="0.14"/><circle cx="14" cy="80" r="2.3" opacity="0.36"/><circle cx="23" cy="48" r="2.4" opacity="0.33"/><circle cx="58" cy="38" r="1.7" opacity="0.56"/><circle cx="83" cy="36" r="1.7" opacity="0.05"/><circle cx="70" cy="51" r="2.1" opacity="0.46"/><circle cx="29" cy="88" r="1.6" opacity="0.35"/><circle cx="36" cy="30" r="1.3" opacity="0.51"/><circle cx="82" cy="45" r="1.5" opacity="0.39"/><circle cx="32" cy="16" r="1.4" opacity="0.51"/><circle cx="67" cy="35" r="1.9" opacity="0.24"/><circle cx="111" cy="69" r="2.1" opacity="0.28"/><circle cx="96" cy="69" r="1.4" opacity="0.80"/><circle cx="85" cy="45" r="1.9" opacity="0.29"/><circle cx="71" cy="42" r="1.2" opacity="0.50"/><circle cx="32" cy="62" r="2.0" opacity="0.57"/><circle cx="49" cy="68" r="1.7" opacity="0.05"/><circle cx="5" cy="47" r="2.2" opacity="0.39"/><circle cx="91" cy="29" r="2.2" opacity="0.13"/><circle cx="100" cy="101" r="2.1" opacity="0.41"/><circle cx="101" cy="24" r="2.3" opacity="0.19"/><circle cx="100" cy="97" r="2.4" opacity="0.43"/><circle cx="96" cy="101" r="1.2" opacity="0.51"/><circle cx="29" cy="13" r="2.5" opacity="0.63"/><circle cx="58" cy="65" r="2.3" opacity="0.05"/><circle cx="92" cy="69" r="1.9" opacity="0.67"/><circle cx="106" cy="49" r="2.4" opacity="0.02"/><circle cx="83" cy="70" r="2.2" opacity="0.80"/><circle cx="84" cy="83" r="1.2" opacity="0.62"/><circle cx="104" cy="30" r="2.3" opacity="0.10"/><circle cx="102" cy="79" r="1.2" opacity="0.68"/><circle cx="36" cy="82" r="1.1" opacity="0.41"/><circle cx="24" cy="91" r="1.9" opacity="0.25"/><circle cx="78" cy="80" r="1.0" opacity="0.62"/><circle cx="80" cy="93" r="2.5" opacity="0.20"/><circle cx="90" cy="67" r="2.4" opacity="0.93"/><circle cx="95" cy="78" r="1.9" opacity="0.82"/><circle cx="65" cy="70" r="2.3" opacity="0.09"/><circle cx="88" cy="50" r="2.1" opacity="0.69"/><circle cx="64" cy="48" r="2.5" opacity="0.52"/><circle cx="8" cy="67" r="1.5" opacity="0.37"/><circle cx="25" cy="63" r="1.1" opacity="0.78"/><circle cx="12" cy="68" r="1.7" opacity="0.70"/><circle cx="92" cy="58" r="2.0" opacity="0.61"/><circle cx="71" cy="5" r="1.9" opacity="0.02"/><circle cx="79" cy="47" r="2.5" opacity="0.61"/><circle cx="23" cy="79" r="2.1" opacity="0.46"/><circle cx="13" cy="21" r="1.2" opacity="0.01"/><circle cx="94" cy="77" r="1.3" opacity="0.88"/><circle cx="81" cy="91" r="1.5" opacity="0.32"/><circle cx="56" cy="16" r="2.2" opacity="0.18"/><circle cx="101" cy="74" r="1.3" opacity="0.60"/><circle cx="101" cy="70" r="2.6" opacity="0.74"/><circle cx="102" cy="82" r="2.6" opacity="0.70"/><circle cx="105" cy="55" r="2.2" opacity="0.16"/><circle cx="105" cy="68" r="1.6" opacity="0.69"/><circle cx="98" cy="96" r="1.6" opacity="0.42"/><circle cx="37" cy="16" r="2.0" opacity="0.48"/><circle cx="85" cy="48" r="1.8" opacity="0.35"/><circle cx="19" cy="67" r="2.2" opacity="0.62"/><circle cx="56" cy="46" r="2.4" opacity="0.05"/><circle cx="77" cy="43" r="1.0" opacity="0.35"/><circle cx="93" cy="7" r="2.3" opacity="0.01"/><circle cx="50" cy="33" r="2.0" opacity="0.81"/><circle cx="108" cy="20" r="2.2" opacity="0.18"/><circle cx="103" cy="89" r="1.5" opacity="0.76"/><circle cx="41" cy="76" r="1.5" opacity="0.24"/><circle cx="3" cy="51" r="2.0" opacity="0.41"/><circle cx="26" cy="16" r="1.8" opacity="0.42"/><circle cx="63" cy="37" r="1.3" opacity="0.22"/><circle cx="88" cy="29" r="2.0" opacity="0.11"/><circle cx="82" cy="53" r="2.1" opacity="0.78"/><circle cx="45" cy="27" r="1.3" opacity="0.83"/><circle cx="102" cy="59" r="1.3" opacity="0.63"/><circle cx="76" cy="45" r="2.4" opacity="0.58"/><circle cx="5" cy="46" r="2.3" opacity="0.33"/><circle cx="95" cy="77" r="1.1" opacity="0.52"/><circle cx="15" cy="48" r="1.2" opacity="0.50"/><circle cx="26" cy="74" r="2.0" opacity="0.62"/><circle cx="101" cy="66" r="1.1" opacity="0.46"/><circle cx="20" cy="6" r="2.4" opacity="0.34"/><circle cx="1" cy="52" r="1.2" opacity="0.59"/><circle cx="112" cy="9" r="1.1" opacity="0.03"/><circle cx="41" cy="78" r="2.5" opacity="0.22"/><circle cx="79" cy="44" r="1.6" opacity="0.32"/><circle cx="65" cy="37" r="2.4" opacity="0.31"/><circle cx="71" cy="63" r="2.2" opacity="0.40"/><circle cx="27" cy="69" r="1.4" opacity="0.89"/><circle cx="76" cy="70" r="1.3" opacity="0.74"/><circle cx="18" cy="65" r="1.4" opacity="0.55"/><circle cx="56" cy="42" r="2.5" opacity="0.13"/><circle cx="86" cy="55" r="1.5" opacity="0.53"/><circle cx="14" cy="18" r="1.7" opacity="0.10"/><circle cx="11" cy="63" r="2.5" opacity="0.30"/><circle cx="97" cy="82" r="2.2" opacity="0.82"/><circle cx="59" cy="96" r="2.3" opacity="0.03"/><circle cx="1" cy="38" r="2.0" opacity="0.01"/><circle cx="27" cy="25" r="1.9" opacity="0.07"/><circle cx="54" cy="62" r="1.7" opacity="0.04"/><circle cx="57" cy="45" r="1.8" opacity="0.06"/><circle cx="103" cy="73" r="2.1" opacity="0.73"/><circle cx="2" cy="64" r="1.6" opacity="0.43"/><circle cx="27" cy="22" r="1.1" opacity="0.27"/><circle cx="30" cy="75" r="1.7" opacity="0.63"/><circle cx="21" cy="85" r="1.2" opacity="0.46"/><circle cx="84" cy="96" r="2.4" opacity="0.18"/><circle cx="110" cy="64" r="1.1" opacity="0.17"/><circle cx="29" cy="1" r="2.0" opacity="0.36"/><circle cx="30" cy="49" r="2.3" opacity="0.05"/><circle cx="91" cy="104" r="2.1" opacity="0.24"/><circle cx="32" cy="86" r="2.4" opacity="0.51"/><circle cx="83" cy="104" r="1.3" opacity="0.01"/><circle cx="3" cy="43" r="2.4" opacity="0.38"/><circle cx="41" cy="24" r="2.1" opacity="0.51"/><circle cx="101" cy="61" r="2.4" opacity="0.72"/><circle cx="18" cy="45" r="2.5" opacity="0.45"/><circle cx="86" cy="8" r="2.3" opacity="0.02"/><circle cx="6" cy="71" r="2.4" opacity="0.47"/><circle cx="31" cy="79" r="2.3" opacity="0.69"/><circle cx="94" cy="76" r="2.0" opacity="0.80"/><circle cx="88" cy="60" r="2.1" opacity="0.72"/><circle cx="59" cy="20" r="2.1" opacity="0.36"/><circle cx="32" cy="68" r="2.0" opacity="0.58"/><circle cx="7" cy="24" r="2.4" opacity="0.01"/><circle cx="3" cy="61" r="2.5" opacity="0.68"/><circle cx="2" cy="56" r="2.4" opacity="0.56"/><circle cx="42" cy="15" r="1.5" opacity="0.11"/><circle cx="98" cy="98" r="1.8" opacity="0.62"/><circle cx="29" cy="62" r="1.1" opacity="0.50"/><circle cx="36" cy="88" r="1.5" opacity="0.34"/><circle cx="50" cy="35" r="2.5" opacity="0.68"/><circle cx="32" cy="6" r="2.4" opacity="0.47"/><circle cx="89" cy="85" r="1.2" opacity="0.58"/><circle cx="102" cy="25" r="1.2" opacity="0.24"/><circle cx="81" cy="89" r="2.0" opacity="0.43"/><circle cx="45" cy="102" r="1.1" opacity="0.02"/><circle cx="50" cy="32" r="2.4" opacity="0.68"/><circle cx="77" cy="78" r="1.2" opacity="0.55"/><circle cx="73" cy="71" r="1.3" opacity="0.51"/><circle cx="97" cy="94" r="1.7" opacity="0.54"/><circle cx="15" cy="3" r="1.8" opacity="0.08"/><circle cx="95" cy="76" r="2.0" opacity="0.89"/><circle cx="26" cy="7" r="1.9" opacity="0.65"/><circle cx="56" cy="50" r="2.0" opacity="0.03"/><circle cx="29" cy="62" r="1.8" opacity="0.65"/><circle cx="108" cy="83" r="1.4" opacity="0.49"/><circle cx="92" cy="25" r="2.0" opacity="0.17"/><circle cx="75" cy="41" r="1.7" opacity="0.31"/><circle cx="9" cy="78" r="2.1" opacity="0.13"/><circle cx="66" cy="63" r="1.5" opacity="0.57"/><circle cx="94" cy="29" r="1.4" fill="#000" opacity="0.37"/><circle cx="101" cy="91" r="1.8" fill="#000" opacity="0.49"/><circle cx="70" cy="57" r="1.3" fill="#000" opacity="0.39"/><circle cx="21" cy="15" r="1.7" fill="#000" opacity="0.56"/><circle cx="59" cy="20" r="1.0" fill="#000" opacity="0.59"/><circle cx="93" cy="61" r="1.4" fill="#000" opacity="0.41"/><circle cx="66" cy="66" r="1.4" fill="#000" opacity="0.56"/><circle cx="17" cy="69" r="1.6" fill="#000" opacity="0.44"/><circle cx="111" cy="72" r="1.3" fill="#000" opacity="0.57"/><circle cx="69" cy="64" r="1.4" fill="#000" opacity="0.51"/><circle cx="74" cy="46" r="1.3" fill="#000" opacity="0.43"/><circle cx="78" cy="56" r="1.1" fill="#000" opacity="0.66"/><circle cx="49" cy="33" r="1.7" fill="#000" opacity="0.62"/><circle cx="90" cy="51" r="1.2" fill="#000" opacity="0.62"/><circle cx="20" cy="50" r="1.0" fill="#000" opacity="0.74"/><circle cx="35" cy="18" r="1.1" fill="#000" opacity="0.70"/><circle cx="71" cy="57" r="1.1" fill="#000" opacity="0.74"/><circle cx="107" cy="74" r="1.8" fill="#000" opacity="0.59"/><circle cx="98" cy="52" r="1.2" fill="#000" opacity="0.63"/><circle cx="101" cy="88" r="1.0" fill="#000" opacity="0.56"/><circle cx="31" cy="11" r="1.0" fill="#000" opacity="0.64"/><circle cx="108" cy="67" r="1.1" fill="#000" opacity="0.57"/><circle cx="107" cy="105" r="1.7" fill="#000" opacity="0.43"/><circle cx="67" cy="47" r="0.9" fill="#000" opacity="0.42"/><circle cx="94" cy="78" r="1.1" fill="#000" opacity="0.70"/><circle cx="16" cy="85" r="1.3" fill="#000" opacity="0.38"/><circle cx="25" cy="15" r="1.1" fill="#000" opacity="0.50"/><circle cx="38" cy="18" r="1.3" fill="#000" opacity="0.58"/><circle cx="46" cy="11" r="1.0" fill="#000" opacity="0.42"/><circle cx="85" cy="57" r="1.4" fill="#000" opacity="0.75"/><circle cx="65" cy="47" r="1.8" fill="#000" opacity="0.52"/><circle cx="84" cy="67" r="1.2" fill="#000" opacity="0.40"/><circle cx="64" cy="42" r="1.2" fill="#000" opacity="0.58"/><circle cx="52" cy="39" r="1.7" fill="#000" opacity="0.39"/><circle cx="35" cy="3" r="1.1" fill="#000" opacity="0.73"/><circle cx="90" cy="81" r="1.4" fill="#000" opacity="0.44"/><circle cx="7" cy="65" r="1.0" fill="#000" opacity="0.56"/><circle cx="25" cy="68" r="1.3" fill="#000" opacity="0.43"/><circle cx="78" cy="60" r="1.8" fill="#000" opacity="0.36"/><circle cx="44" cy="29" r="1.6" fill="#000" opacity="0.55"/><circle cx="48" cy="29" r="1.0" fill="#000" opacity="0.45"/><circle cx="70" cy="65" r="1.2" fill="#000" opacity="0.52"/><circle cx="42" cy="24" r="1.1" fill="#000" opacity="0.62"/><circle cx="31" cy="6" r="1.1" fill="#000" opacity="0.60"/><circle cx="108" cy="63" r="0.9" fill="#000" opacity="0.58"/><circle cx="36" cy="5" r="1.3" fill="#000" opacity="0.47"/><circle cx="18" cy="67" r="1.3" fill="#000" opacity="0.45"/><circle cx="63" cy="24" r="1.2" fill="#000" opacity="0.38"/><circle cx="66" cy="49" r="1.8" fill="#000" opacity="0.37"/><circle cx="27" cy="53" r="1.2" fill="#000" opacity="0.63"/><circle cx="74" cy="66" r="1.6" fill="#000" opacity="0.70"/><circle cx="32" cy="68" r="1.2" fill="#000" opacity="0.50"/><circle cx="61" cy="56" r="1.5" fill="#000" opacity="0.60"/><circle cx="109" cy="62" r="1.7" fill="#000" opacity="0.41"/><circle cx="69" cy="58" r="1.0" fill="#000" opacity="0.49"/><circle cx="77" cy="42" r="1.2" fill="#000" opacity="0.48"/><circle cx="23" cy="71" r="1.7" fill="#000" opacity="0.51"/><circle cx="100" cy="91" r="1.3" fill="#000" opacity="0.67"/><circle cx="103" cy="79" r="1.1" fill="#000" opacity="0.69"/><circle cx="98" cy="54" r="1.7" fill="#000" opacity="0.64"/><circle cx="27" cy="89" r="1.0" fill="#000" opacity="0.64"/><circle cx="75" cy="38" r="0.9" fill="#000" opacity="0.36"/><circle cx="73" cy="53" r="1.1" fill="#000" opacity="0.58"/><circle cx="25" cy="7" r="1.4" fill="#000" opacity="0.69"/><circle cx="102" cy="64" r="1.3" fill="#000" opacity="0.66"/><circle cx="54" cy="38" r="1.4" fill="#000" opacity="0.43"/><circle cx="103" cy="107" r="1.0" fill="#000" opacity="0.55"/><circle cx="51" cy="16" r="1.7" fill="#000" opacity="0.47"/><circle cx="3" cy="51" r="1.1" fill="#000" opacity="0.44"/><circle cx="36" cy="69" r="1.6" fill="#000" opacity="0.55"/><circle cx="107" cy="64" r="1.6" fill="#000" opacity="0.55"/><circle cx="49" cy="10" r="1.5" fill="#000" opacity="0.41"/><circle cx="101" cy="24" r="1.0" fill="#000" opacity="0.65"/><circle cx="73" cy="40" r="1.7" fill="#000" opacity="0.62"/><circle cx="12" cy="47" r="1.7" fill="#000" opacity="0.64"/><circle cx="71" cy="69" r="1.1" fill="#000" opacity="0.65"/><circle cx="17" cy="10" r="1.2" fill="#000" opacity="0.37"/><circle cx="27" cy="11" r="1.3" fill="#000" opacity="0.67"/><circle cx="99" cy="107" r="1.3" fill="#000" opacity="0.75"/><circle cx="86" cy="70" r="1.4" fill="#000" opacity="0.58"/><circle cx="62" cy="45" r="0.9" fill="#000" opacity="0.44"/><circle cx="19" cy="52" r="1.7" fill="#000" opacity="0.45"/><circle cx="29" cy="88" r="0.9" fill="#000" opacity="0.66"/><circle cx="79" cy="48" r="1.4" fill="#000" opacity="0.48"/><circle cx="10" cy="47" r="1.6" fill="#000" opacity="0.60"/><circle cx="35" cy="84" r="1.6" fill="#000" opacity="0.44"/><circle cx="51" cy="39" r="1.3" fill="#000" opacity="0.39"/><circle cx="70" cy="63" r="1.2" fill="#000" opacity="0.45"/><circle cx="46" cy="38" r="1.7" fill="#000" opacity="0.38"/><circle cx="37" cy="31" r="1.1" fill="#000" opacity="0.63"/><circle cx="9" cy="44" r="1.5" fill="#000" opacity="0.43"/><circle cx="77" cy="47" r="1.1" fill="#000" opacity="0.64"/><circle cx="45" cy="29" r="1.5" fill="#000" opacity="0.38"/><circle cx="8" cy="62" r="1.7" fill="#000" opacity="0.60"/><circle cx="97" cy="94" r="0.9" fill="#000" opacity="0.74"/><circle cx="99" cy="20" r="1.8" fill="#000" opacity="0.74"/><circle cx="16" cy="67" r="1.7" fill="#000" opacity="0.41"/><circle cx="58" cy="41" r="1.4" fill="#000" opacity="0.59"/><circle cx="104" cy="89" r="1.6" fill="#000" opacity="0.62"/><circle cx="64" cy="45" r="1.1" fill="#000" opacity="0.57"/><circle cx="33" cy="61" r="1.2" fill="#000" opacity="0.73"/><circle cx="73" cy="48" r="1.8" fill="#000" opacity="0.51"/><circle cx="68" cy="42" r="1.8" fill="#000" opacity="0.60"/><circle cx="21" cy="1" r="1.0" fill="#000" opacity="0.40"/><circle cx="35" cy="22" r="1.7" fill="#000" opacity="0.70"/><circle cx="97" cy="92" r="1.7" fill="#000" opacity="0.73"/><circle cx="100" cy="84" r="1.4" fill="#000" opacity="0.56"/><circle cx="101" cy="102" r="1.8" fill="#000" opacity="0.59"/><circle cx="43" cy="30" r="1.7" fill="#000" opacity="0.36"/><circle cx="60" cy="57" r="1.6" fill="#000" opacity="0.59"/><circle cx="16" cy="85" r="1.3" fill="#000" opacity="0.39"/><circle cx="32" cy="65" r="1.5" fill="#000" opacity="0.55"/><circle cx="103" cy="105" r="1.0" fill="#000" opacity="0.47"/><circle cx="9" cy="64" r="1.2" fill="#000" opacity="0.52"/><circle cx="27" cy="72" r="1.4" fill="#000" opacity="0.70"/><circle cx="18" cy="8" r="1.1" fill="#000" opacity="0.49"/><circle cx="31" cy="82" r="1.0" fill="#000" opacity="0.55"/><circle cx="104" cy="90" r="1.5" fill="#000" opacity="0.69"/><circle cx="32" cy="19" r="1.5" fill="#000" opacity="0.40"/><circle cx="83" cy="47" r="0.9" fill="#000" opacity="0.74"/><circle cx="86" cy="65" r="1.0" fill="#000" opacity="0.51"/><circle cx="22" cy="84" r="1.3" fill="#000" opacity="0.50"/><circle cx="7" cy="56" r="0.9" fill="#000" opacity="0.54"/><circle cx="90" cy="68" r="1.7" fill="#000" opacity="0.52"/><circle cx="57" cy="23" r="1.2" fill="#000" opacity="0.57"/><circle cx="103" cy="91" r="1.7" fill="#000" opacity="0.72"/><circle cx="1" cy="51" r="1.7" fill="#000" opacity="0.60"/><circle cx="94" cy="58" r="1.4" fill="#000" opacity="0.61"/><circle cx="105" cy="18" r="1.3" fill="#000" opacity="0.36"/><circle cx="103" cy="88" r="1.3" fill="#000" opacity="0.63"/><circle cx="52" cy="13" r="1.4" fill="#000" opacity="0.39"/><circle cx="78" cy="64" r="1.4" fill="#000" opacity="0.43"/><circle cx="100" cy="52" r="1.4" fill="#000" opacity="0.65"/><circle cx="81" cy="55" r="1.0" fill="#000" opacity="0.60"/><circle cx="99" cy="54" r="1.5" fill="#000" opacity="0.66"/><circle cx="74" cy="48" r="1.7" fill="#000" opacity="0.66"/><circle cx="77" cy="60" r="1.7" fill="#000" opacity="0.75"/><circle cx="84" cy="45" r="1.3" fill="#000" opacity="0.40"/><circle cx="92" cy="58" r="1.2" fill="#000" opacity="0.51"/><circle cx="19" cy="12" r="1.1" fill="#000" opacity="0.64"/><circle cx="99" cy="107" r="1.4" fill="#000" opacity="0.69"/><circle cx="37" cy="85" r="1.5" fill="#000" opacity="0.40"/><circle cx="82" cy="55" r="0.9" fill="#000" opacity="0.58"/><circle cx="76" cy="74" r="1.7" fill="#000" opacity="0.47"/><circle cx="44" cy="13" r="1.1" fill="#000" opacity="0.65"/><circle cx="40" cy="33" r="1.6" fill="#000" opacity="0.43"/><circle cx="92" cy="71" r="1.4" fill="#000" opacity="0.60"/><circle cx="98" cy="19" r="1.3" fill="#000" opacity="0.35"/><circle cx="75" cy="79" r="1.8" fill="#000" opacity="0.50"/><circle cx="21" cy="15" r="1.5" fill="#000" opacity="0.36"/><circle cx="57" cy="30" r="1.7" fill="#000" opacity="0.56"/><circle cx="22" cy="11" r="1.1" fill="#000" opacity="0.43"/><circle cx="19" cy="10" r="1.7" fill="#000" opacity="0.51"/><circle cx="79" cy="68" r="1.1" fill="#000" opacity="0.49"/><circle cx="24" cy="73" r="1.4" fill="#000" opacity="0.38"/><circle cx="79" cy="51" r="1.1" fill="#000" opacity="0.71"/></g><filter id="rhB2" x="-50%" y="-50%" width="200%" height="200%"><feGaussianBlur stdDeviation="1.8"/></filter><g filter="url(#rhB2)" fill="#000"><ellipse cx="47" cy="20" rx="9" ry="6" transform="rotate(40 47 20)" fill="#000"/><ellipse cx="14" cy="57" rx="6" ry="7.5" transform="rotate(20 14 57)" fill="#000"/><ellipse cx="18.5" cy="75.4" rx="5.5" ry="7.5" transform="rotate(0 18.5 75.4)" fill="#000"/><ellipse cx="85.8" cy="77" rx="5.5" ry="6" transform="rotate(0 85.8 77)" fill="#000"/><ellipse cx="92.5" cy="90.2" rx="5.5" ry="6" transform="rotate(30 92.5 90.2)" fill="#000"/></g></g></defs>
<g transform="translate(52,30)"><clipPath id="cp2"><rect width="113" height="110"/></clipPath><g clip-path="url(#cp2)"><rect width="113" height="110" fill="#000"/><filter id="nb2" x="-50%" y="-50%" width="200%" height="200%"><feGaussianBlur stdDeviation="1.0"/></filter><g filter="url(#nb2)"><ellipse cx="14" cy="30.7" rx="8" ry="8.7" transform="rotate(0 14 30.7)" fill="rgb(22,32,205)" fill-opacity="1.0"/><ellipse cx="29.2" cy="26.1" rx="6.5" ry="9.5" transform="rotate(15 29.2 26.1)" fill="rgb(22,32,205)" fill-opacity="1.0"/><ellipse cx="40.6" cy="71.8" rx="6" ry="9" transform="rotate(0 40.6 71.8)" fill="rgb(22,32,205)" fill-opacity="1.0"/><ellipse cx="85" cy="71.8" rx="6" ry="9" transform="rotate(0 85 71.8)" fill="rgb(22,32,205)" fill-opacity="1.0"/></g><rect x="6.7" y="102.8" width="49" height="1.9" fill="#d6d6d6"/></g></g>
<g transform="translate(170,30)"><clipPath id="cp3"><rect width="113" height="110"/></clipPath><g clip-path="url(#cp3)"><rect width="113" height="110" fill="#000"/><filter id="nb3" x="-50%" y="-50%" width="200%" height="200%"><feGaussianBlur stdDeviation="1.0"/></filter><g filter="url(#nb3)"><ellipse cx="28.8" cy="51" rx="8.5" ry="5.5" transform="rotate(10 28.8 51)" fill="rgb(22,32,205)" fill-opacity="1.0"/><ellipse cx="61.4" cy="64.4" rx="6" ry="8" transform="rotate(30 61.4 64.4)" fill="rgb(22,32,205)" fill-opacity="1.0"/><ellipse cx="51" cy="74.7" rx="7.5" ry="6" transform="rotate(0 51 74.7)" fill="rgb(22,32,205)" fill-opacity="1.0"/><ellipse cx="81.4" cy="91.7" rx="8" ry="5" transform="rotate(-35 81.4 91.7)" fill="rgb(22,32,205)" fill-opacity="1.0"/></g><rect x="6.7" y="102.8" width="49" height="1.9" fill="#d6d6d6"/></g></g>
<g transform="translate(288,30)"><clipPath id="cp4"><rect width="113" height="110"/></clipPath><g clip-path="url(#cp4)"><rect width="113" height="110" fill="#000"/><filter id="nb4" x="-50%" y="-50%" width="200%" height="200%"><feGaussianBlur stdDeviation="1.0"/></filter><g filter="url(#nb4)"><ellipse cx="24.4" cy="28.1" rx="8" ry="5.5" transform="rotate(5 24.4 28.1)" fill="rgb(22,32,205)" fill-opacity="1.0"/><ellipse cx="51" cy="35.5" rx="10" ry="8" transform="rotate(35 51 35.5)" fill="rgb(22,32,205)" fill-opacity="1.0"/><ellipse cx="88" cy="62.1" rx="5.5" ry="7" transform="rotate(0 88 62.1)" fill="rgb(22,32,205)" fill-opacity="1.0"/><ellipse cx="102" cy="68.8" rx="6.5" ry="6.5" transform="rotate(0 102 68.8)" fill="rgb(22,32,205)" fill-opacity="1.0"/><ellipse cx="12.6" cy="73.2" rx="11" ry="6.5" transform="rotate(15 12.6 73.2)" fill="rgb(22,32,205)" fill-opacity="1.0"/><ellipse cx="106.5" cy="26.6" rx="5" ry="5" transform="rotate(0 106.5 26.6)" fill="rgb(22,32,205)" fill-opacity="0.3"/></g><rect x="6.7" y="102.8" width="49" height="1.9" fill="#d6d6d6"/></g></g>
<g transform="translate(52,145)"><clipPath id="cp5"><rect width="113" height="111"/></clipPath><g clip-path="url(#cp5)"><rect width="113" height="111" fill="#000"/><use href="#redA0"/><rect x="6.7" y="104.0" width="49" height="1.9" fill="#d6d6d6"/></g></g>
<g transform="translate(170,145)"><clipPath id="cp6"><rect width="113" height="111"/></clipPath><g clip-path="url(#cp6)"><rect width="113" height="111" fill="#000"/><use href="#redA1"/><rect x="6.7" y="104.0" width="49" height="1.9" fill="#d6d6d6"/></g></g>
<g transform="translate(288,145)"><clipPath id="cp7"><rect width="113" height="111"/></clipPath><g clip-path="url(#cp7)"><rect width="113" height="111" fill="#000"/><use href="#redA2"/><rect x="6.7" y="104.0" width="49" height="1.9" fill="#d6d6d6"/></g></g>
<g transform="translate(52,261)"><clipPath id="cp8"><rect width="113" height="110"/></clipPath><g clip-path="url(#cp8)"><rect width="113" height="110" fill="#000"/><use href="#redA0"/><filter id="nb8" x="-50%" y="-50%" width="200%" height="200%"><feGaussianBlur stdDeviation="1.0"/></filter><g filter="url(#nb8)" style="mix-blend-mode:screen"><ellipse cx="14" cy="30.7" rx="8" ry="8.7" transform="rotate(0 14 30.7)" fill="rgb(30,42,232)" fill-opacity="1.0"/><ellipse cx="29.2" cy="26.1" rx="6.5" ry="9.5" transform="rotate(15 29.2 26.1)" fill="rgb(30,42,232)" fill-opacity="1.0"/><ellipse cx="40.6" cy="71.8" rx="6" ry="9" transform="rotate(0 40.6 71.8)" fill="rgb(30,42,232)" fill-opacity="1.0"/><ellipse cx="85" cy="71.8" rx="6" ry="9" transform="rotate(0 85 71.8)" fill="rgb(30,42,232)" fill-opacity="1.0"/></g><rect x="6.7" y="102.8" width="49" height="1.9" fill="#d6d6d6"/></g></g>
<g transform="translate(170,261)"><clipPath id="cp9"><rect width="113" height="110"/></clipPath><g clip-path="url(#cp9)"><rect width="113" height="110" fill="#000"/><use href="#redA1"/><filter id="nb9" x="-50%" y="-50%" width="200%" height="200%"><feGaussianBlur stdDeviation="1.0"/></filter><g filter="url(#nb9)" style="mix-blend-mode:screen"><ellipse cx="28.8" cy="51" rx="8.5" ry="5.5" transform="rotate(10 28.8 51)" fill="rgb(30,42,232)" fill-opacity="1.0"/><ellipse cx="61.4" cy="64.4" rx="6" ry="8" transform="rotate(30 61.4 64.4)" fill="rgb(30,42,232)" fill-opacity="1.0"/><ellipse cx="51" cy="74.7" rx="7.5" ry="6" transform="rotate(0 51 74.7)" fill="rgb(30,42,232)" fill-opacity="1.0"/><ellipse cx="81.4" cy="91.7" rx="8" ry="5" transform="rotate(-35 81.4 91.7)" fill="rgb(30,42,232)" fill-opacity="1.0"/></g><rect x="6.7" y="102.8" width="49" height="1.9" fill="#d6d6d6"/></g></g>
<g transform="translate(288,261)"><clipPath id="cp10"><rect width="113" height="110"/></clipPath><g clip-path="url(#cp10)"><rect width="113" height="110" fill="#000"/><use href="#redA2"/><filter id="nb10" x="-50%" y="-50%" width="200%" height="200%"><feGaussianBlur stdDeviation="1.0"/></filter><g filter="url(#nb10)" style="mix-blend-mode:screen"><ellipse cx="24.4" cy="28.1" rx="8" ry="5.5" transform="rotate(5 24.4 28.1)" fill="rgb(30,42,232)" fill-opacity="1.0"/><ellipse cx="51" cy="35.5" rx="10" ry="8" transform="rotate(35 51 35.5)" fill="rgb(30,42,232)" fill-opacity="1.0"/><ellipse cx="88" cy="62.1" rx="5.5" ry="7" transform="rotate(0 88 62.1)" fill="rgb(30,42,232)" fill-opacity="1.0"/><ellipse cx="102" cy="68.8" rx="6.5" ry="6.5" transform="rotate(0 102 68.8)" fill="rgb(30,42,232)" fill-opacity="1.0"/><ellipse cx="12.6" cy="73.2" rx="11" ry="6.5" transform="rotate(15 12.6 73.2)" fill="rgb(30,42,232)" fill-opacity="1.0"/><ellipse cx="106.5" cy="26.6" rx="5" ry="5" transform="rotate(0 106.5 26.6)" fill="rgb(30,42,232)" fill-opacity="0.3"/></g><rect x="6.7" y="102.8" width="49" height="1.9" fill="#d6d6d6"/></g></g>
<g transform="translate(52,402)"><clipPath id="cp11"><rect width="113" height="110"/></clipPath><g clip-path="url(#cp11)"><rect width="113" height="110" fill="#000"/><filter id="nb11" x="-50%" y="-50%" width="200%" height="200%"><feGaussianBlur stdDeviation="1.0"/></filter><g filter="url(#nb11)"><ellipse cx="16.3" cy="26.6" rx="9" ry="5.5" transform="rotate(48 16.3 26.6)" fill="rgb(22,32,205)" fill-opacity="1.0"/><ellipse cx="50.3" cy="29.6" rx="6" ry="6.5" transform="rotate(0 50.3 29.6)" fill="rgb(22,32,205)" fill-opacity="0.75"/><ellipse cx="63.6" cy="43.6" rx="6" ry="7.5" transform="rotate(0 63.6 43.6)" fill="rgb(22,32,205)" fill-opacity="1.0"/><ellipse cx="74.7" cy="53.3" rx="5.5" ry="7.5" transform="rotate(0 74.7 53.3)" fill="rgb(22,32,205)" fill-opacity="1.0"/><ellipse cx="39.2" cy="5.2" rx="5" ry="4.5" transform="rotate(30 39.2 5.2)" fill="rgb(22,32,205)" fill-opacity="1.0"/><ellipse cx="88.8" cy="2" rx="6" ry="3" transform="rotate(0 88.8 2)" fill="rgb(22,32,205)" fill-opacity="1.0"/><ellipse cx="48" cy="85.8" rx="7" ry="5.5" transform="rotate(0 48 85.8)" fill="rgb(22,32,205)" fill-opacity="1.0"/><ellipse cx="47.3" cy="97.6" rx="7.5" ry="5.5" transform="rotate(0 47.3 97.6)" fill="rgb(22,32,205)" fill-opacity="1.0"/><ellipse cx="3" cy="82.8" rx="4" ry="6" transform="rotate(0 3 82.8)" fill="rgb(22,32,205)" fill-opacity="1.0"/><ellipse cx="89.5" cy="103.6" rx="5.5" ry="8" transform="rotate(-30 89.5 103.6)" fill="rgb(22,32,205)" fill-opacity="1.0"/></g><rect x="6.7" y="102.8" width="49" height="1.9" fill="#d6d6d6"/></g></g>
<g transform="translate(170,402)"><clipPath id="cp12"><rect width="113" height="110"/></clipPath><g clip-path="url(#cp12)"><rect width="113" height="110" fill="#000"/><filter id="nb12" x="-50%" y="-50%" width="200%" height="200%"><feGaussianBlur stdDeviation="1.0"/></filter><g filter="url(#nb12)"><ellipse cx="48.1" cy="37.7" rx="7" ry="8.5" transform="rotate(20 48.1 37.7)" fill="rgb(22,32,205)" fill-opacity="1.0"/><ellipse cx="37.7" cy="57.7" rx="8" ry="9" transform="rotate(0 37.7 57.7)" fill="rgb(22,32,205)" fill-opacity="1.0"/><ellipse cx="23.7" cy="63.6" rx="8" ry="9" transform="rotate(0 23.7 63.6)" fill="rgb(22,32,205)" fill-opacity="1.0"/><ellipse cx="85" cy="61.4" rx="7.5" ry="5.3" transform="rotate(0 85 61.4)" fill="rgb(22,32,205)" fill-opacity="1.0"/><ellipse cx="101.3" cy="60" rx="8" ry="5.3" transform="rotate(-5 101.3 60)" fill="rgb(22,32,205)" fill-opacity="1.0"/><ellipse cx="110.2" cy="91" rx="4" ry="6" transform="rotate(0 110.2 91)" fill="rgb(22,32,205)" fill-opacity="1.0"/></g><rect x="6.7" y="102.8" width="49" height="1.9" fill="#d6d6d6"/></g></g>
<g transform="translate(288,402)"><clipPath id="cp13"><rect width="113" height="110"/></clipPath><g clip-path="url(#cp13)"><rect width="113" height="110" fill="#000"/><filter id="nb13" x="-50%" y="-50%" width="200%" height="200%"><feGaussianBlur stdDeviation="1.0"/></filter><g filter="url(#nb13)"><ellipse cx="47" cy="20" rx="10" ry="7" transform="rotate(40 47 20)" fill="rgb(22,32,205)" fill-opacity="1.0"/><ellipse cx="14" cy="57" rx="7" ry="8.5" transform="rotate(20 14 57)" fill="rgb(22,32,205)" fill-opacity="1.0"/><ellipse cx="18.5" cy="75.4" rx="6.5" ry="8.5" transform="rotate(0 18.5 75.4)" fill="rgb(22,32,205)" fill-opacity="1.0"/><ellipse cx="85.8" cy="77" rx="6.5" ry="7" transform="rotate(0 85.8 77)" fill="rgb(22,32,205)" fill-opacity="1.0"/><ellipse cx="92.5" cy="90.2" rx="6.5" ry="7" transform="rotate(30 92.5 90.2)" fill="rgb(22,32,205)" fill-opacity="1.0"/></g><rect x="6.7" y="102.8" width="49" height="1.9" fill="#d6d6d6"/></g></g>
<g transform="translate(52,517)"><clipPath id="cp14"><rect width="113" height="111"/></clipPath><g clip-path="url(#cp14)"><rect width="113" height="111" fill="#000"/><use href="#redB0"/><rect x="6.7" y="104.0" width="49" height="1.9" fill="#d6d6d6"/></g></g>
<g transform="translate(170,517)"><clipPath id="cp15"><rect width="113" height="111"/></clipPath><g clip-path="url(#cp15)"><rect width="113" height="111" fill="#000"/><use href="#redB1"/><rect x="6.7" y="104.0" width="49" height="1.9" fill="#d6d6d6"/></g></g>
<g transform="translate(288,517)"><clipPath id="cp16"><rect width="113" height="111"/></clipPath><g clip-path="url(#cp16)"><rect width="113" height="111" fill="#000"/><use href="#redB2"/><rect x="6.7" y="104.0" width="49" height="1.9" fill="#d6d6d6"/></g></g>
<g transform="translate(52,633)"><clipPath id="cp17"><rect width="113" height="111"/></clipPath><g clip-path="url(#cp17)"><rect width="113" height="111" fill="#000"/><use href="#redB0"/><filter id="nb17" x="-50%" y="-50%" width="200%" height="200%"><feGaussianBlur stdDeviation="1.0"/></filter><g filter="url(#nb17)" style="mix-blend-mode:screen"><ellipse cx="16.3" cy="26.6" rx="9" ry="5.5" transform="rotate(48 16.3 26.6)" fill="rgb(30,42,232)" fill-opacity="1.0"/><ellipse cx="50.3" cy="29.6" rx="6" ry="6.5" transform="rotate(0 50.3 29.6)" fill="rgb(30,42,232)" fill-opacity="0.75"/><ellipse cx="63.6" cy="43.6" rx="6" ry="7.5" transform="rotate(0 63.6 43.6)" fill="rgb(30,42,232)" fill-opacity="1.0"/><ellipse cx="74.7" cy="53.3" rx="5.5" ry="7.5" transform="rotate(0 74.7 53.3)" fill="rgb(30,42,232)" fill-opacity="1.0"/><ellipse cx="39.2" cy="5.2" rx="5" ry="4.5" transform="rotate(30 39.2 5.2)" fill="rgb(30,42,232)" fill-opacity="1.0"/><ellipse cx="88.8" cy="2" rx="6" ry="3" transform="rotate(0 88.8 2)" fill="rgb(30,42,232)" fill-opacity="1.0"/><ellipse cx="48" cy="85.8" rx="7" ry="5.5" transform="rotate(0 48 85.8)" fill="rgb(30,42,232)" fill-opacity="1.0"/><ellipse cx="47.3" cy="97.6" rx="7.5" ry="5.5" transform="rotate(0 47.3 97.6)" fill="rgb(30,42,232)" fill-opacity="1.0"/><ellipse cx="3" cy="82.8" rx="4" ry="6" transform="rotate(0 3 82.8)" fill="rgb(30,42,232)" fill-opacity="1.0"/><ellipse cx="89.5" cy="103.6" rx="5.5" ry="8" transform="rotate(-30 89.5 103.6)" fill="rgb(30,42,232)" fill-opacity="1.0"/></g><rect x="6.7" y="104.0" width="49" height="1.9" fill="#d6d6d6"/></g></g>
<g transform="translate(170,633)"><clipPath id="cp18"><rect width="113" height="111"/></clipPath><g clip-path="url(#cp18)"><rect width="113" height="111" fill="#000"/><use href="#redB1"/><filter id="nb18" x="-50%" y="-50%" width="200%" height="200%"><feGaussianBlur stdDeviation="1.0"/></filter><g filter="url(#nb18)" style="mix-blend-mode:screen"><ellipse cx="48.1" cy="37.7" rx="7" ry="8.5" transform="rotate(20 48.1 37.7)" fill="rgb(30,42,232)" fill-opacity="1.0"/><ellipse cx="37.7" cy="57.7" rx="8" ry="9" transform="rotate(0 37.7 57.7)" fill="rgb(30,42,232)" fill-opacity="1.0"/><ellipse cx="23.7" cy="63.6" rx="8" ry="9" transform="rotate(0 23.7 63.6)" fill="rgb(30,42,232)" fill-opacity="1.0"/><ellipse cx="85" cy="61.4" rx="7.5" ry="5.3" transform="rotate(0 85 61.4)" fill="rgb(30,42,232)" fill-opacity="1.0"/><ellipse cx="101.3" cy="60" rx="8" ry="5.3" transform="rotate(-5 101.3 60)" fill="rgb(30,42,232)" fill-opacity="1.0"/><ellipse cx="110.2" cy="91" rx="4" ry="6" transform="rotate(0 110.2 91)" fill="rgb(30,42,232)" fill-opacity="1.0"/></g><rect x="6.7" y="104.0" width="49" height="1.9" fill="#d6d6d6"/></g></g>
<g transform="translate(288,633)"><clipPath id="cp19"><rect width="113" height="111"/></clipPath><g clip-path="url(#cp19)"><rect width="113" height="111" fill="#000"/><use href="#redB2"/><filter id="nb19" x="-50%" y="-50%" width="200%" height="200%"><feGaussianBlur stdDeviation="1.0"/></filter><g filter="url(#nb19)" style="mix-blend-mode:screen"><ellipse cx="47" cy="20" rx="10" ry="7" transform="rotate(40 47 20)" fill="rgb(30,42,232)" fill-opacity="1.0"/><ellipse cx="14" cy="57" rx="7" ry="8.5" transform="rotate(20 14 57)" fill="rgb(30,42,232)" fill-opacity="1.0"/><ellipse cx="18.5" cy="75.4" rx="6.5" ry="8.5" transform="rotate(0 18.5 75.4)" fill="rgb(30,42,232)" fill-opacity="1.0"/><ellipse cx="85.8" cy="77" rx="6.5" ry="7" transform="rotate(0 85.8 77)" fill="rgb(30,42,232)" fill-opacity="1.0"/><ellipse cx="92.5" cy="90.2" rx="6.5" ry="7" transform="rotate(30 92.5 90.2)" fill="rgb(30,42,232)" fill-opacity="1.0"/></g><rect x="6.7" y="104.0" width="49" height="1.9" fill="#d6d6d6"/></g></g>
<text x="109" y="24.2" font-size="11.6" font-weight="bold" text-anchor="middle" fill="#111" >NC+EP</text>
<text x="229" y="24.2" font-size="11.6" font-weight="bold" text-anchor="middle" fill="#111" >siYap+EP</text>
<text x="346" y="24.2" font-size="11.6" font-weight="bold" text-anchor="middle" fill="#111" >siYap+GSH+EP</text>
<text x="109" y="396" font-size="11.6" font-weight="bold" text-anchor="middle" fill="#111" >EP</text>
<text x="227" y="396" font-size="11.6" font-weight="bold" text-anchor="middle" fill="#111" >VP+EP</text>
<text x="345" y="396" font-size="11.6" font-weight="bold" text-anchor="middle" fill="#111" >VP+GSH+EP</text>
<text x="27.1" y="91.6" font-size="11.6" font-weight="bold" text-anchor="middle" fill="#111" >Hoechst</text>
<text x="27.1" y="208.4" font-size="11.6" font-weight="bold" text-anchor="middle" fill="#111" >TMRM</text>
<text x="27.1" y="318.4" font-size="11.6" font-weight="bold" text-anchor="middle" fill="#111" >Merge</text>
<text x="27.1" y="463.4" font-size="11.6" font-weight="bold" text-anchor="middle" fill="#111" >Hoechst</text>
<text x="27.1" y="576.8" font-size="11.6" font-weight="bold" text-anchor="middle" fill="#111" >TMRM</text>
<text x="27.1" y="695.6" font-size="11.6" font-weight="bold" text-anchor="middle" fill="#111" >Merge</text>
<line x1="466.00" y1="36.30" x2="466.00" y2="183.30" stroke="#111" stroke-width="1.7"/>
<line x1="460.00" y1="182.50" x2="466.00" y2="182.50" stroke="#111" stroke-width="1.4"/>
<text x="457.80" y="186.20" font-size="11" font-weight="bold" text-anchor="end" fill="#111">0</text>
<line x1="460.00" y1="146.12" x2="466.00" y2="146.12" stroke="#111" stroke-width="1.4"/>
<text x="457.80" y="149.82" font-size="11" font-weight="bold" text-anchor="end" fill="#111">200</text>
<line x1="460.00" y1="109.75" x2="466.00" y2="109.75" stroke="#111" stroke-width="1.4"/>
<text x="457.80" y="113.45" font-size="11" font-weight="bold" text-anchor="end" fill="#111">400</text>
<line x1="460.00" y1="73.38" x2="466.00" y2="73.38" stroke="#111" stroke-width="1.4"/>
<text x="457.80" y="77.08" font-size="11" font-weight="bold" text-anchor="end" fill="#111">600</text>
<line x1="460.00" y1="37.00" x2="466.00" y2="37.00" stroke="#111" stroke-width="1.4"/>
<text x="457.80" y="40.70" font-size="11" font-weight="bold" text-anchor="end" fill="#111">800</text>
<line x1="465.20" y1="182.50" x2="609.00" y2="182.50" stroke="#111" stroke-width="1.7"/>
<line x1="497.80" y1="182.50" x2="497.80" y2="188.50" stroke="#111" stroke-width="1.4"/>
<line x1="536.80" y1="182.50" x2="536.80" y2="188.50" stroke="#111" stroke-width="1.4"/>
<line x1="575.80" y1="182.50" x2="575.80" y2="188.50" stroke="#111" stroke-width="1.4"/>
<line x1="498.00" y1="74.60" x2="498.00" y2="63.70" stroke="#111" stroke-width="1.4"/>
<line x1="491.80" y1="63.70" x2="504.20" y2="63.70" stroke="#111" stroke-width="1.4"/>
<rect x="485.90" y="75.20" width="24.20" height="107.30" fill="#4040f0" stroke="#1a1a1a" stroke-width="1.2"/>
<line x1="537.10" y1="116.90" x2="537.10" y2="111.00" stroke="#111" stroke-width="1.4"/>
<line x1="530.90" y1="111.00" x2="543.30" y2="111.00" stroke="#111" stroke-width="1.4"/>
<rect x="525.20" y="117.50" width="23.80" height="65.00" fill="#f04545" stroke="#1a1a1a" stroke-width="1.2"/>
<line x1="575.85" y1="81.80" x2="575.85" y2="72.40" stroke="#111" stroke-width="1.4"/>
<line x1="569.65" y1="72.40" x2="582.05" y2="72.40" stroke="#111" stroke-width="1.4"/>
<rect x="563.90" y="82.40" width="23.90" height="100.10" fill="#050505" stroke="#1a1a1a" stroke-width="1.2"/>
<path d="M497.40,60.50 V56.50 H534.20 V60.50" fill="none" stroke="#111" stroke-width="1.6"/>
<path d="M539.30,69.50 V65.30 H576.20 V69.50" fill="none" stroke="#111" stroke-width="1.6"/>
<path d="M516.20,53.80L516.20,47.20M513.34,52.15L519.06,48.85M513.34,48.85L519.06,52.15" stroke="#3a3a3a" stroke-width="1.6" stroke-linecap="round" fill="none"/>
<path d="M557.70,63.30L557.70,56.70M554.84,61.65L560.56,58.35M554.84,58.35L560.56,61.65" stroke="#3a3a3a" stroke-width="1.6" stroke-linecap="round" fill="none"/>
<text x="500.30" y="201.00" font-size="9.8" font-weight="bold" text-anchor="end" fill="#111" transform="rotate(-28 500.3 201.0)">NC+EP</text>
<text x="539.30" y="201.00" font-size="9.8" font-weight="bold" text-anchor="end" fill="#111" transform="rotate(-28 539.3 201.0)">siYap+EP</text>
<text x="578.30" y="201.00" font-size="9.8" font-weight="bold" text-anchor="end" fill="#111" transform="rotate(-28 578.3 201.0)">siYap+GSH+EP</text>
<text x="423.70" y="110.80" font-size="10.5" font-weight="bold" text-anchor="middle" fill="#111" transform="rotate(-90 423.7 110.8)">Calcein content</text>
<text x="434.50" y="110.00" font-size="10.6" font-weight="bold" text-anchor="middle" fill="#111" transform="rotate(-90 434.5 110.0)">(Mean fluorescence)</text>
<line x1="667.30" y1="37.00" x2="667.30" y2="183.40" stroke="#111" stroke-width="1.7"/>
<line x1="661.30" y1="182.60" x2="667.30" y2="182.60" stroke="#111" stroke-width="1.4"/>
<text x="659.10" y="186.30" font-size="11" font-weight="bold" text-anchor="end" fill="#111">0</text>
<line x1="661.30" y1="146.38" x2="667.30" y2="146.38" stroke="#111" stroke-width="1.4"/>
<text x="659.10" y="150.07" font-size="11" font-weight="bold" text-anchor="end" fill="#111">200</text>
<line x1="661.30" y1="110.15" x2="667.30" y2="110.15" stroke="#111" stroke-width="1.4"/>
<text x="659.10" y="113.85" font-size="11" font-weight="bold" text-anchor="end" fill="#111">400</text>
<line x1="661.30" y1="73.93" x2="667.30" y2="73.93" stroke="#111" stroke-width="1.4"/>
<text x="659.10" y="77.63" font-size="11" font-weight="bold" text-anchor="end" fill="#111">600</text>
<line x1="661.30" y1="37.70" x2="667.30" y2="37.70" stroke="#111" stroke-width="1.4"/>
<text x="659.10" y="41.40" font-size="11" font-weight="bold" text-anchor="end" fill="#111">800</text>
<line x1="666.50" y1="182.60" x2="810.70" y2="182.60" stroke="#111" stroke-width="1.7"/>
<line x1="699.90" y1="182.60" x2="699.90" y2="188.60" stroke="#111" stroke-width="1.4"/>
<line x1="739.00" y1="182.60" x2="739.00" y2="188.60" stroke="#111" stroke-width="1.4"/>
<line x1="778.10" y1="182.60" x2="778.10" y2="188.60" stroke="#111" stroke-width="1.4"/>
<line x1="700.10" y1="70.30" x2="700.10" y2="57.40" stroke="#111" stroke-width="1.4"/>
<line x1="693.90" y1="57.40" x2="706.30" y2="57.40" stroke="#111" stroke-width="1.4"/>
<rect x="688.30" y="70.90" width="23.60" height="111.70" fill="#4040f0" stroke="#1a1a1a" stroke-width="1.2"/>
<line x1="739.05" y1="125.70" x2="739.05" y2="118.00" stroke="#111" stroke-width="1.4"/>
<line x1="732.85" y1="118.00" x2="745.25" y2="118.00" stroke="#111" stroke-width="1.4"/>
<rect x="727.10" y="126.30" width="23.90" height="56.30" fill="#f04545" stroke="#1a1a1a" stroke-width="1.2"/>
<line x1="778.15" y1="83.30" x2="778.15" y2="74.20" stroke="#111" stroke-width="1.4"/>
<line x1="771.95" y1="74.20" x2="784.35" y2="74.20" stroke="#111" stroke-width="1.4"/>
<rect x="766.00" y="83.90" width="24.30" height="98.70" fill="#050505" stroke="#1a1a1a" stroke-width="1.2"/>
<path d="M699.60,54.30 V50.30 H736.80 V54.30" fill="none" stroke="#111" stroke-width="1.6"/>
<path d="M741.50,71.20 V67.30 H778.00 V71.20" fill="none" stroke="#111" stroke-width="1.6"/>
<path d="M718.30,48.00L718.30,41.40M715.44,46.35L721.16,43.05M715.44,43.05L721.16,46.35" stroke="#3a3a3a" stroke-width="1.6" stroke-linecap="round" fill="none"/>
<path d="M760.00,64.90L760.00,58.30M757.14,63.25L762.86,59.95M757.14,59.95L762.86,63.25" stroke="#3a3a3a" stroke-width="1.6" stroke-linecap="round" fill="none"/>
<text x="702.40" y="201.10" font-size="9.8" font-weight="bold" text-anchor="end" fill="#111" transform="rotate(-28 702.4 201.1)">EP</text>
<text x="741.50" y="201.10" font-size="9.8" font-weight="bold" text-anchor="end" fill="#111" transform="rotate(-28 741.5 201.1)">VP+EP</text>
<text x="780.60" y="201.10" font-size="9.8" font-weight="bold" text-anchor="end" fill="#111" transform="rotate(-28 780.6 201.1)">VP+GSH+EP</text>
<text x="626.70" y="110.80" font-size="10.5" font-weight="bold" text-anchor="middle" fill="#111" transform="rotate(-90 626.7 110.8)">Calcein content</text>
<text x="637.50" y="110.00" font-size="10.6" font-weight="bold" text-anchor="middle" fill="#111" transform="rotate(-90 637.5 110.0)">(Mean fluorescence)</text>
<line x1="453.00" y1="286.30" x2="453.00" y2="433.80" stroke="#111" stroke-width="1.7"/>
<line x1="447.00" y1="433.00" x2="453.00" y2="433.00" stroke="#111" stroke-width="1.4"/>
<text x="444.80" y="436.70" font-size="11" font-weight="bold" text-anchor="end" fill="#111">0.0</text>
<line x1="447.00" y1="384.33" x2="453.00" y2="384.33" stroke="#111" stroke-width="1.4"/>
<text x="444.80" y="388.03" font-size="11" font-weight="bold" text-anchor="end" fill="#111">0.5</text>
<line x1="447.00" y1="335.67" x2="453.00" y2="335.67" stroke="#111" stroke-width="1.4"/>
<text x="444.80" y="339.37" font-size="11" font-weight="bold" text-anchor="end" fill="#111">1.0</text>
<line x1="447.00" y1="287.00" x2="453.00" y2="287.00" stroke="#111" stroke-width="1.4"/>
<text x="444.80" y="290.70" font-size="11" font-weight="bold" text-anchor="end" fill="#111">1.5</text>
<line x1="452.20" y1="433.00" x2="626.00" y2="433.00" stroke="#111" stroke-width="1.7"/>
<line x1="496.30" y1="433.00" x2="496.30" y2="439.00" stroke="#111" stroke-width="1.4"/>
<line x1="582.00" y1="433.00" x2="582.00" y2="439.00" stroke="#111" stroke-width="1.4"/>
<line x1="473.00" y1="336.30" x2="473.00" y2="329.60" stroke="#111" stroke-width="1.4"/>
<line x1="469.00" y1="329.60" x2="477.00" y2="329.60" stroke="#111" stroke-width="1.4"/>
<rect x="466.10" y="336.90" width="13.80" height="96.10" fill="#4040f0" stroke="#1a1a1a" stroke-width="1.2"/>
<line x1="496.50" y1="404.90" x2="496.50" y2="399.60" stroke="#111" stroke-width="1.4"/>
<line x1="492.50" y1="399.60" x2="500.50" y2="399.60" stroke="#111" stroke-width="1.4"/>
<rect x="489.60" y="405.50" width="13.80" height="27.50" fill="#f04545" stroke="#1a1a1a" stroke-width="1.2"/>
<line x1="520.00" y1="321.30" x2="520.00" y2="308.70" stroke="#111" stroke-width="1.4"/>
<line x1="516.00" y1="308.70" x2="524.00" y2="308.70" stroke="#111" stroke-width="1.4"/>
<rect x="513.10" y="321.90" width="13.80" height="111.10" fill="#050505" stroke="#1a1a1a" stroke-width="1.2"/>
<line x1="558.50" y1="336.30" x2="558.50" y2="330.60" stroke="#111" stroke-width="1.4"/>
<line x1="554.50" y1="330.60" x2="562.50" y2="330.60" stroke="#111" stroke-width="1.4"/>
<rect x="551.60" y="336.90" width="13.80" height="96.10" fill="#4040f0" stroke="#1a1a1a" stroke-width="1.2"/>
<line x1="582.20" y1="395.60" x2="582.20" y2="389.00" stroke="#111" stroke-width="1.4"/>
<line x1="578.20" y1="389.00" x2="586.20" y2="389.00" stroke="#111" stroke-width="1.4"/>
<rect x="575.30" y="396.20" width="13.80" height="36.80" fill="#f04545" stroke="#1a1a1a" stroke-width="1.2"/>
<line x1="605.50" y1="339.80" x2="605.50" y2="332.10" stroke="#111" stroke-width="1.4"/>
<line x1="601.50" y1="332.10" x2="609.50" y2="332.10" stroke="#111" stroke-width="1.4"/>
<rect x="598.60" y="340.40" width="13.80" height="92.60" fill="#050505" stroke="#1a1a1a" stroke-width="1.2"/>
<path d="M473.30,306.20 V302.40 H495.20 V306.20" fill="none" stroke="#111" stroke-width="1.3"/>
<path d="M498.00,306.20 V302.40 H520.20 V306.20" fill="none" stroke="#111" stroke-width="1.3"/>
<path d="M558.30,327.80 V323.70 H580.70 V327.80" fill="none" stroke="#111" stroke-width="1.3"/>
<path d="M583.20,327.80 V323.70 H605.50 V327.80" fill="none" stroke="#111" stroke-width="1.3"/>
<path d="M485.10,299.10L485.10,292.50M482.24,297.45L487.96,294.15M482.24,294.15L487.96,297.45" stroke="#3a3a3a" stroke-width="1.6" stroke-linecap="round" fill="none"/>
<path d="M509.00,299.10L509.00,292.50M506.14,297.45L511.86,294.15M506.14,294.15L511.86,297.45" stroke="#3a3a3a" stroke-width="1.6" stroke-linecap="round" fill="none"/>
<path d="M570.20,320.80L570.20,314.20M567.34,319.15L573.06,315.85M567.34,315.85L573.06,319.15" stroke="#3a3a3a" stroke-width="1.6" stroke-linecap="round" fill="none"/>
<path d="M594.30,320.80L594.30,314.20M591.44,319.15L597.16,315.85M591.44,315.85L597.16,319.15" stroke="#3a3a3a" stroke-width="1.6" stroke-linecap="round" fill="none"/>
<text x="496.30" y="451.50" font-size="11" font-weight="bold" text-anchor="middle" fill="#111">Prl8a2</text>
<text x="582.00" y="451.50" font-size="11" font-weight="bold" text-anchor="middle" fill="#111">Prl3c1</text>
<rect x="467.40" y="282.80" width="15.5" height="3.6" fill="#4040f0" stroke="#222" stroke-width="0.8"/>
<text x="491.90" y="287.80" font-size="9" font-weight="bold" text-anchor="start" fill="#111">NC+EP</text>
<rect x="538.40" y="282.70" width="15.5" height="3.6" fill="#f04545" stroke="#222" stroke-width="0.8"/>
<text x="562.90" y="287.70" font-size="9" font-weight="bold" text-anchor="start" fill="#111">siYap+EP</text>
<rect x="538.40" y="293.40" width="15.5" height="3.6" fill="#050505" stroke="#222" stroke-width="0.8"/>
<text x="562.90" y="298.40" font-size="9" font-weight="bold" text-anchor="start" fill="#111">siYap+MT+EP</text>
<text x="425.40" y="358.80" font-size="11.2" font-weight="bold" text-anchor="middle" fill="#111" transform="rotate(-90 425.4 358.8)">Relative mRNA level</text>
<line x1="453.00" y1="537.70" x2="453.00" y2="684.70" stroke="#111" stroke-width="1.7"/>
<line x1="447.00" y1="683.90" x2="453.00" y2="683.90" stroke="#111" stroke-width="1.4"/>
<text x="444.80" y="687.60" font-size="11" font-weight="bold" text-anchor="end" fill="#111">0.0</text>
<line x1="447.00" y1="635.40" x2="453.00" y2="635.40" stroke="#111" stroke-width="1.4"/>
<text x="444.80" y="639.10" font-size="11" font-weight="bold" text-anchor="end" fill="#111">0.5</text>
<line x1="447.00" y1="586.90" x2="453.00" y2="586.90" stroke="#111" stroke-width="1.4"/>
<text x="444.80" y="590.60" font-size="11" font-weight="bold" text-anchor="end" fill="#111">1.0</text>
<line x1="447.00" y1="538.40" x2="453.00" y2="538.40" stroke="#111" stroke-width="1.4"/>
<text x="444.80" y="542.10" font-size="11" font-weight="bold" text-anchor="end" fill="#111">1.5</text>
<line x1="452.20" y1="683.90" x2="626.00" y2="683.90" stroke="#111" stroke-width="1.7"/>
<line x1="496.30" y1="683.90" x2="496.30" y2="689.90" stroke="#111" stroke-width="1.4"/>
<line x1="582.00" y1="683.90" x2="582.00" y2="689.90" stroke="#111" stroke-width="1.4"/>
<line x1="473.00" y1="587.00" x2="473.00" y2="580.40" stroke="#111" stroke-width="1.4"/>
<line x1="469.00" y1="580.40" x2="477.00" y2="580.40" stroke="#111" stroke-width="1.4"/>
<rect x="466.10" y="587.60" width="13.80" height="96.30" fill="#4040f0" stroke="#1a1a1a" stroke-width="1.2"/>
<line x1="496.50" y1="635.00" x2="496.50" y2="625.00" stroke="#111" stroke-width="1.4"/>
<line x1="492.50" y1="625.00" x2="500.50" y2="625.00" stroke="#111" stroke-width="1.4"/>
<rect x="489.60" y="635.60" width="13.80" height="48.30" fill="#f04545" stroke="#1a1a1a" stroke-width="1.2"/>
<line x1="520.00" y1="567.90" x2="520.00" y2="562.20" stroke="#111" stroke-width="1.4"/>
<line x1="516.00" y1="562.20" x2="524.00" y2="562.20" stroke="#111" stroke-width="1.4"/>
<rect x="513.10" y="568.50" width="13.80" height="115.40" fill="#050505" stroke="#1a1a1a" stroke-width="1.2"/>
<line x1="558.50" y1="587.20" x2="558.50" y2="582.60" stroke="#111" stroke-width="1.4"/>
<line x1="554.50" y1="582.60" x2="562.50" y2="582.60" stroke="#111" stroke-width="1.4"/>
<rect x="551.60" y="587.80" width="13.80" height="96.10" fill="#4040f0" stroke="#1a1a1a" stroke-width="1.2"/>
<line x1="582.20" y1="652.80" x2="582.20" y2="646.20" stroke="#111" stroke-width="1.4"/>
<line x1="578.20" y1="646.20" x2="586.20" y2="646.20" stroke="#111" stroke-width="1.4"/>
<rect x="575.30" y="653.40" width="13.80" height="30.50" fill="#f04545" stroke="#1a1a1a" stroke-width="1.2"/>
<line x1="605.50" y1="579.80" x2="605.50" y2="570.90" stroke="#111" stroke-width="1.4"/>
<line x1="601.50" y1="570.90" x2="609.50" y2="570.90" stroke="#111" stroke-width="1.4"/>
<rect x="598.60" y="580.40" width="13.80" height="103.50" fill="#050505" stroke="#1a1a1a" stroke-width="1.2"/>
<path d="M472.60,559.60 V555.60 H494.80 V559.60" fill="none" stroke="#111" stroke-width="1.3"/>
<path d="M497.80,559.60 V555.60 H519.70 V559.60" fill="none" stroke="#111" stroke-width="1.3"/>
<path d="M558.00,568.00 V564.20 H580.30 V568.00" fill="none" stroke="#111" stroke-width="1.3"/>
<path d="M583.00,568.00 V564.20 H605.00 V568.00" fill="none" stroke="#111" stroke-width="1.3"/>
<path d="M484.40,553.50L484.40,546.90M481.54,551.85L487.26,548.55M481.54,548.55L487.26,551.85" stroke="#3a3a3a" stroke-width="1.6" stroke-linecap="round" fill="none"/>
<path d="M508.40,553.50L508.40,546.90M505.54,551.85L511.26,548.55M505.54,548.55L511.26,551.85" stroke="#3a3a3a" stroke-width="1.6" stroke-linecap="round" fill="none"/>
<path d="M569.80,560.90L569.80,554.30M566.94,559.25L572.66,555.95M566.94,555.95L572.66,559.25" stroke="#3a3a3a" stroke-width="1.6" stroke-linecap="round" fill="none"/>
<path d="M593.90,560.90L593.90,554.30M591.04,559.25L596.76,555.95M591.04,555.95L596.76,559.25" stroke="#3a3a3a" stroke-width="1.6" stroke-linecap="round" fill="none"/>
<text x="496.30" y="702.40" font-size="11" font-weight="bold" text-anchor="middle" fill="#111">Prl8a2</text>
<text x="582.00" y="702.40" font-size="11" font-weight="bold" text-anchor="middle" fill="#111">Prl3c1</text>
<rect x="481.70" y="533.10" width="15.5" height="3.6" fill="#4040f0" stroke="#222" stroke-width="0.8"/>
<text x="506.20" y="538.10" font-size="9" font-weight="bold" text-anchor="start" fill="#111">EP</text>
<rect x="538.20" y="533.50" width="15.5" height="3.6" fill="#f04545" stroke="#222" stroke-width="0.8"/>
<text x="562.70" y="538.50" font-size="9" font-weight="bold" text-anchor="start" fill="#111">VP+EP</text>
<rect x="538.20" y="543.50" width="15.5" height="3.6" fill="#050505" stroke="#222" stroke-width="0.8"/>
<text x="562.70" y="548.50" font-size="9" font-weight="bold" text-anchor="start" fill="#111">VP+MT+EP</text>
<text x="425.40" y="611.20" font-size="11.2" font-weight="bold" text-anchor="middle" fill="#111" transform="rotate(-90 425.4 611.2)">Relative mRNA level</text>
<line x1="669.00" y1="286.60" x2="669.00" y2="433.50" stroke="#111" stroke-width="1.7"/>
<line x1="663.00" y1="432.70" x2="669.00" y2="432.70" stroke="#111" stroke-width="1.4"/>
<text x="660.80" y="436.40" font-size="11" font-weight="bold" text-anchor="end" fill="#111">0.4</text>
<line x1="663.00" y1="396.35" x2="669.00" y2="396.35" stroke="#111" stroke-width="1.4"/>
<text x="660.80" y="400.05" font-size="11" font-weight="bold" text-anchor="end" fill="#111">0.6</text>
<line x1="663.00" y1="360.00" x2="669.00" y2="360.00" stroke="#111" stroke-width="1.4"/>
<text x="660.80" y="363.70" font-size="11" font-weight="bold" text-anchor="end" fill="#111">0.8</text>
<line x1="663.00" y1="323.65" x2="669.00" y2="323.65" stroke="#111" stroke-width="1.4"/>
<text x="660.80" y="327.35" font-size="11" font-weight="bold" text-anchor="end" fill="#111">1.0</text>
<line x1="663.00" y1="287.30" x2="669.00" y2="287.30" stroke="#111" stroke-width="1.4"/>
<text x="660.80" y="291.00" font-size="11" font-weight="bold" text-anchor="end" fill="#111">1.2</text>
<line x1="666.70" y1="432.70" x2="811.60" y2="432.70" stroke="#111" stroke-width="1.7"/>
<line x1="702.60" y1="432.70" x2="702.60" y2="438.70" stroke="#111" stroke-width="1.4"/>
<line x1="742.80" y1="432.70" x2="742.80" y2="438.70" stroke="#111" stroke-width="1.4"/>
<line x1="782.80" y1="432.70" x2="782.80" y2="438.70" stroke="#111" stroke-width="1.4"/>
<text x="705.30" y="450.70" font-size="9.8" font-weight="bold" text-anchor="end" fill="#111" transform="rotate(-28 705.3000000000001 450.7)">NC+EP</text>
<text x="745.50" y="450.70" font-size="9.8" font-weight="bold" text-anchor="end" fill="#111" transform="rotate(-28 745.5 450.7)">siYap+EP</text>
<text x="785.50" y="450.70" font-size="9.8" font-weight="bold" text-anchor="end" fill="#111" transform="rotate(-28 785.5 450.7)">siYap+MT+EP</text>
<text x="644.80" y="356.00" font-size="11" font-weight="bold" text-anchor="middle" fill="#111" transform="rotate(-90 644.8 356.0)">Relative ALP activity</text>
<line x1="702.70" y1="314.40" x2="702.70" y2="308.70" stroke="#3535e0" stroke-width="1.3"/>
<line x1="702.70" y1="337.30" x2="702.70" y2="342.00" stroke="#3535e0" stroke-width="1.3"/>
<line x1="697.40" y1="308.70" x2="708.00" y2="308.70" stroke="#3535e0" stroke-width="1.3"/>
<line x1="697.40" y1="342.00" x2="708.00" y2="342.00" stroke="#3535e0" stroke-width="1.3"/>
<rect x="691.70" y="314.40" width="22.00" height="22.90" fill="none" stroke="#3535e0" stroke-width="1.4"/>
<line x1="691.70" y1="319.30" x2="713.70" y2="319.30" stroke="#3535e0" stroke-width="1.3"/>
<circle cx="702.70" cy="308.70" r="2.3" fill="#3535e0"/>
<circle cx="697.00" cy="319.30" r="2.3" fill="#3535e0"/>
<circle cx="708.70" cy="319.30" r="2.3" fill="#3535e0"/>
<circle cx="702.70" cy="333.00" r="2.3" fill="#3535e0"/>
<circle cx="702.70" cy="342.00" r="2.3" fill="#3535e0"/>
<line x1="743.10" y1="357.00" x2="743.10" y2="353.30" stroke="#e83030" stroke-width="1.3"/>
<line x1="743.10" y1="372.50" x2="743.10" y2="376.80" stroke="#e83030" stroke-width="1.3"/>
<line x1="737.80" y1="353.30" x2="748.40" y2="353.30" stroke="#e83030" stroke-width="1.3"/>
<line x1="737.80" y1="376.80" x2="748.40" y2="376.80" stroke="#e83030" stroke-width="1.3"/>
<rect x="732.30" y="357.00" width="21.60" height="15.50" fill="none" stroke="#e83030" stroke-width="1.4"/>
<line x1="732.30" y1="364.50" x2="753.90" y2="364.50" stroke="#e83030" stroke-width="1.3"/>
<rect x="734.30" y="351.70" width="4.4" height="4.4" fill="#e83030"/>
<rect x="746.10" y="355.80" width="4.4" height="4.4" fill="#e83030"/>
<rect x="734.30" y="362.30" width="4.4" height="4.4" fill="#e83030"/>
<rect x="746.10" y="367.10" width="4.4" height="4.4" fill="#e83030"/>
<rect x="740.20" y="374.60" width="4.4" height="4.4" fill="#e83030"/>
<line x1="783.05" y1="322.40" x2="783.05" y2="319.70" stroke="#111" stroke-width="1.3"/>
<line x1="783.05" y1="341.00" x2="783.05" y2="346.40" stroke="#111" stroke-width="1.3"/>
<line x1="777.75" y1="319.70" x2="788.35" y2="319.70" stroke="#111" stroke-width="1.3"/>
<line x1="777.75" y1="346.40" x2="788.35" y2="346.40" stroke="#111" stroke-width="1.3"/>
<rect x="772.30" y="322.40" width="21.50" height="18.60" fill="none" stroke="#111" stroke-width="1.4"/>
<line x1="772.30" y1="325.60" x2="793.80" y2="325.60" stroke="#111" stroke-width="1.3"/>
<path d="M775.00,316.90 L777.70,321.70 L772.30,321.70Z" fill="#111"/>
<path d="M783.00,321.20 L785.70,326.00 L780.30,326.00Z" fill="#111"/>
<path d="M790.40,323.20 L793.10,328.00 L787.70,328.00Z" fill="#111"/>
<path d="M783.00,335.10 L785.70,339.90 L780.30,339.90Z" fill="#111"/>
<path d="M783.00,343.60 L785.70,348.40 L780.30,348.40Z" fill="#111"/>
<text x="702.70" y="305.00" font-size="14.5" font-weight="normal" text-anchor="middle" fill="#111">a</text>
<text x="743.00" y="350.50" font-size="14.5" font-weight="normal" text-anchor="middle" fill="#111">b</text>
<text x="783.00" y="316.00" font-size="14.5" font-weight="normal" text-anchor="middle" fill="#111">a</text>
<line x1="669.00" y1="537.30" x2="669.00" y2="684.40" stroke="#111" stroke-width="1.7"/>
<line x1="663.00" y1="683.60" x2="669.00" y2="683.60" stroke="#111" stroke-width="1.4"/>
<text x="660.80" y="687.30" font-size="11" font-weight="bold" text-anchor="end" fill="#111">0.4</text>
<line x1="663.00" y1="647.20" x2="669.00" y2="647.20" stroke="#111" stroke-width="1.4"/>
<text x="660.80" y="650.90" font-size="11" font-weight="bold" text-anchor="end" fill="#111">0.6</text>
<line x1="663.00" y1="610.80" x2="669.00" y2="610.80" stroke="#111" stroke-width="1.4"/>
<text x="660.80" y="614.50" font-size="11" font-weight="bold" text-anchor="end" fill="#111">0.8</text>
<line x1="663.00" y1="574.40" x2="669.00" y2="574.40" stroke="#111" stroke-width="1.4"/>
<text x="660.80" y="578.10" font-size="11" font-weight="bold" text-anchor="end" fill="#111">1.0</text>
<line x1="663.00" y1="538.00" x2="669.00" y2="538.00" stroke="#111" stroke-width="1.4"/>
<text x="660.80" y="541.70" font-size="11" font-weight="bold" text-anchor="end" fill="#111">1.2</text>
<line x1="666.70" y1="683.60" x2="811.60" y2="683.60" stroke="#111" stroke-width="1.7"/>
<line x1="702.60" y1="683.60" x2="702.60" y2="689.60" stroke="#111" stroke-width="1.4"/>
<line x1="742.80" y1="683.60" x2="742.80" y2="689.60" stroke="#111" stroke-width="1.4"/>
<line x1="782.80" y1="683.60" x2="782.80" y2="689.60" stroke="#111" stroke-width="1.4"/>
<text x="705.30" y="701.60" font-size="9.8" font-weight="bold" text-anchor="end" fill="#111" transform="rotate(-28 705.3000000000001 701.6)">EP</text>
<text x="745.50" y="701.60" font-size="9.8" font-weight="bold" text-anchor="end" fill="#111" transform="rotate(-28 745.5 701.6)">VP+EP</text>
<text x="785.50" y="701.60" font-size="9.8" font-weight="bold" text-anchor="end" fill="#111" transform="rotate(-28 785.5 701.6)">VP+MT+EP</text>
<text x="644.80" y="606.00" font-size="11" font-weight="bold" text-anchor="middle" fill="#111" transform="rotate(-90 644.8 606.0)">Relative ALP activity</text>
<line x1="702.45" y1="564.00" x2="702.45" y2="556.70" stroke="#3535e0" stroke-width="1.3"/>
<line x1="702.45" y1="582.70" x2="702.45" y2="584.40" stroke="#3535e0" stroke-width="1.3"/>
<line x1="697.15" y1="556.70" x2="707.75" y2="556.70" stroke="#3535e0" stroke-width="1.3"/>
<line x1="697.15" y1="584.40" x2="707.75" y2="584.40" stroke="#3535e0" stroke-width="1.3"/>
<rect x="691.60" y="564.00" width="21.70" height="18.70" fill="none" stroke="#3535e0" stroke-width="1.4"/>
<line x1="691.60" y1="574.70" x2="713.30" y2="574.70" stroke="#3535e0" stroke-width="1.3"/>
<circle cx="702.40" cy="556.70" r="2.3" fill="#3535e0"/>
<circle cx="696.70" cy="569.70" r="2.3" fill="#3535e0"/>
<circle cx="708.30" cy="574.70" r="2.3" fill="#3535e0"/>
<circle cx="696.70" cy="580.70" r="2.3" fill="#3535e0"/>
<circle cx="708.30" cy="584.70" r="2.3" fill="#3535e0"/>
<line x1="742.65" y1="609.50" x2="742.65" y2="606.00" stroke="#e83030" stroke-width="1.3"/>
<line x1="742.65" y1="626.30" x2="742.65" y2="629.30" stroke="#e83030" stroke-width="1.3"/>
<line x1="737.35" y1="606.00" x2="747.95" y2="606.00" stroke="#e83030" stroke-width="1.3"/>
<line x1="737.35" y1="629.30" x2="747.95" y2="629.30" stroke="#e83030" stroke-width="1.3"/>
<rect x="731.70" y="609.50" width="21.90" height="16.80" fill="none" stroke="#e83030" stroke-width="1.4"/>
<line x1="731.70" y1="614.00" x2="753.60" y2="614.00" stroke="#e83030" stroke-width="1.3"/>
<rect x="733.80" y="604.80" width="4.4" height="4.4" fill="#e83030"/>
<rect x="745.80" y="609.30" width="4.4" height="4.4" fill="#e83030"/>
<rect x="733.80" y="621.80" width="4.4" height="4.4" fill="#e83030"/>
<rect x="745.80" y="626.30" width="4.4" height="4.4" fill="#e83030"/>
<rect x="739.80" y="603.80" width="4.4" height="4.4" fill="#e83030"/>
<line x1="782.80" y1="569.70" x2="782.80" y2="565.80" stroke="#111" stroke-width="1.3"/>
<line x1="782.80" y1="592.70" x2="782.80" y2="601.20" stroke="#111" stroke-width="1.3"/>
<line x1="777.50" y1="565.80" x2="788.10" y2="565.80" stroke="#111" stroke-width="1.3"/>
<line x1="777.50" y1="601.20" x2="788.10" y2="601.20" stroke="#111" stroke-width="1.3"/>
<rect x="772.00" y="569.70" width="21.60" height="23.00" fill="none" stroke="#111" stroke-width="1.4"/>
<line x1="772.00" y1="583.60" x2="793.60" y2="583.60" stroke="#111" stroke-width="1.3"/>
<path d="M782.70,563.20 L785.40,568.00 L780.00,568.00Z" fill="#111"/>
<path d="M782.70,570.70 L785.40,575.50 L780.00,575.50Z" fill="#111"/>
<path d="M777.00,581.20 L779.70,586.00 L774.30,586.00Z" fill="#111"/>
<path d="M788.30,584.00 L791.00,588.80 L785.60,588.80Z" fill="#111"/>
<path d="M782.70,598.40 L785.40,603.20 L780.00,603.20Z" fill="#111"/>
<text x="702.40" y="553.00" font-size="14.5" font-weight="normal" text-anchor="middle" fill="#111">a</text>
<text x="742.90" y="603.00" font-size="14.5" font-weight="normal" text-anchor="middle" fill="#111">b</text>
<text x="782.00" y="562.00" font-size="14.5" font-weight="normal" text-anchor="middle" fill="#111">a</text>
</svg></body></html>
